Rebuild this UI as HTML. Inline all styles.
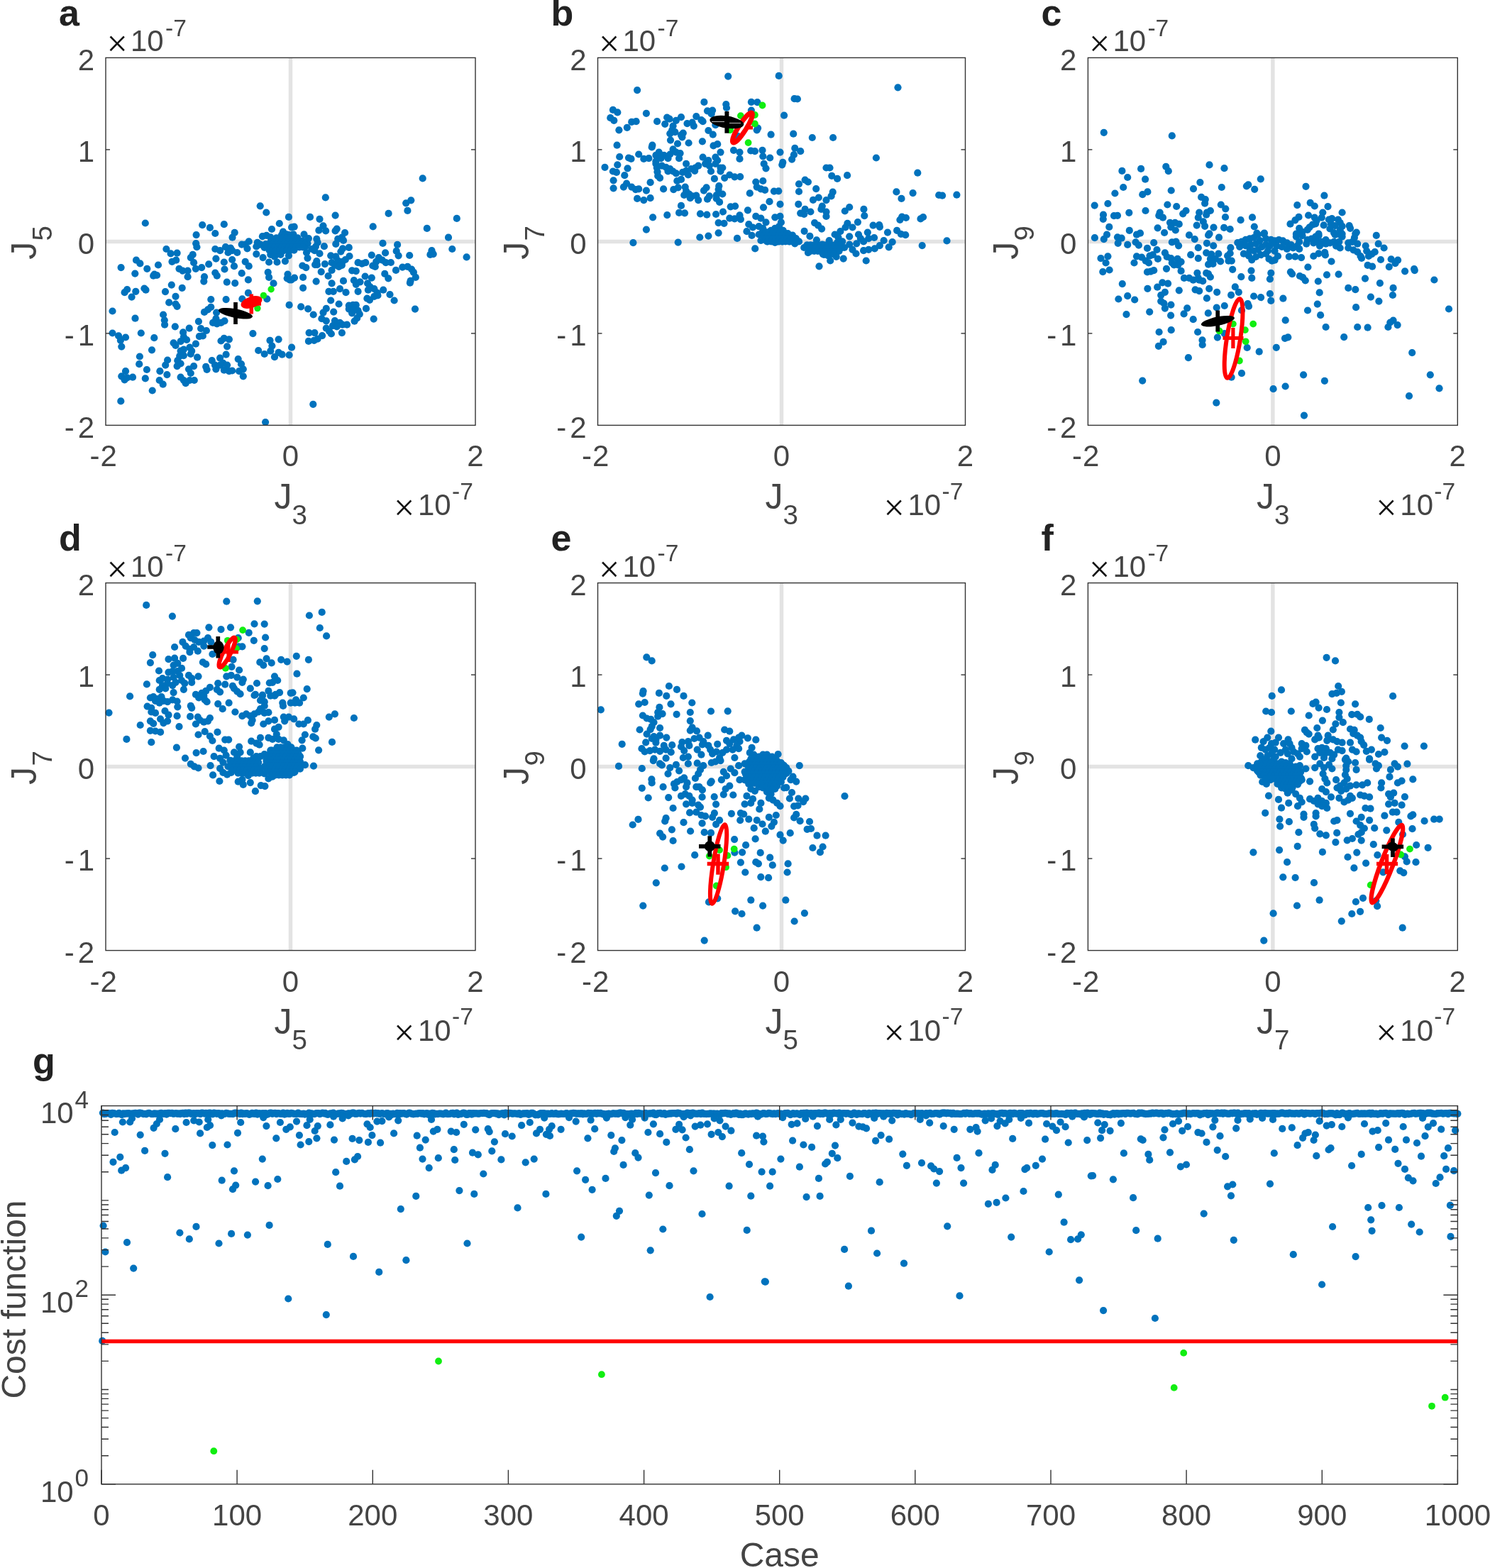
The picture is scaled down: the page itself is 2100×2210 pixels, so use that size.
<!DOCTYPE html>
<html><head><meta charset="utf-8"><title>Figure</title>
<style>html,body{margin:0;padding:0;background:#fff}svg{display:block}
text{font-family:'Liberation Sans',Arial,sans-serif;fill:#444444}
.tk{font-size:42px}
.sp{font-size:33.5px}
.sp2{font-size:35px}
.ex{font-size:52px;fill:#111;font-family:'Liberation Serif',serif}
.lb{font-size:50px}
.lb2{font-size:48px}
.sb{font-size:38.5px}
.pl{font-size:52px;font-weight:bold;fill:#222}
</style></head>
<body><svg xmlns="http://www.w3.org/2000/svg" width="2100" height="2210" viewBox="0 0 2100 2210">
<rect width="2100" height="2210" fill="#fff"/>
<line x1="409.5" y1="81.4" x2="409.5" y2="599.4" stroke="#e3e3e3" stroke-width="5.5"/>
<line x1="149.0" y1="340.4" x2="670.0" y2="340.4" stroke="#e3e3e3" stroke-width="5.5"/>
<g fill="#0072bd"><circle cx="204.8" cy="314.5" r="5.1"/><circle cx="366.7" cy="290.3" r="5.1"/><circle cx="375.3" cy="299.5" r="5.1"/><circle cx="406.9" cy="305.9" r="5.1"/><circle cx="285.2" cy="317.2" r="5.1"/><circle cx="295.9" cy="320.9" r="5.1"/><circle cx="303.3" cy="329.0" r="5.1"/><circle cx="315.8" cy="316.2" r="5.1"/><circle cx="276.6" cy="331.1" r="5.1"/><circle cx="330.7" cy="327.8" r="5.1"/><circle cx="327.5" cy="334.7" r="5.1"/><circle cx="393.8" cy="315.0" r="5.1"/><circle cx="383.0" cy="323.0" r="5.1"/><circle cx="399.0" cy="326.6" r="5.1"/><circle cx="411.1" cy="320.4" r="5.1"/><circle cx="369.9" cy="333.2" r="5.1"/><circle cx="375.6" cy="331.8" r="5.1"/><circle cx="381.3" cy="334.4" r="5.1"/><circle cx="362.8" cy="341.8" r="5.1"/><circle cx="361.3" cy="347.5" r="5.1"/><circle cx="367.0" cy="344.6" r="5.1"/><circle cx="372.7" cy="348.9" r="5.1"/><circle cx="378.4" cy="344.6" r="5.1"/><circle cx="385.5" cy="344.6" r="5.1"/><circle cx="389.8" cy="347.5" r="5.1"/><circle cx="395.5" cy="344.6" r="5.1"/><circle cx="401.2" cy="341.8" r="5.1"/><circle cx="406.9" cy="344.6" r="5.1"/><circle cx="411.1" cy="343.2" r="5.1"/><circle cx="398.3" cy="333.2" r="5.1"/><circle cx="404.0" cy="330.4" r="5.1"/><circle cx="387.0" cy="353.2" r="5.1"/><circle cx="392.6" cy="356.0" r="5.1"/><circle cx="399.8" cy="353.2" r="5.1"/><circle cx="406.9" cy="353.2" r="5.1"/><circle cx="381.3" cy="358.9" r="5.1"/><circle cx="387.0" cy="361.7" r="5.1"/><circle cx="395.5" cy="358.9" r="5.1"/><circle cx="406.9" cy="360.3" r="5.1"/><circle cx="384.1" cy="350.3" r="5.1"/><circle cx="276.2" cy="343.2" r="5.1"/><circle cx="277.4" cy="348.2" r="5.1"/><circle cx="345.7" cy="344.6" r="5.1"/><circle cx="350.7" cy="340.4" r="5.1"/><circle cx="348.5" cy="350.3" r="5.1"/><circle cx="340.7" cy="344.6" r="5.1"/><circle cx="234.4" cy="351.0" r="5.1"/><circle cx="240.6" cy="357.4" r="5.1"/><circle cx="249.6" cy="356.7" r="5.1"/><circle cx="303.3" cy="351.0" r="5.1"/><circle cx="310.1" cy="353.2" r="5.1"/><circle cx="317.9" cy="348.2" r="5.1"/><circle cx="325.0" cy="349.6" r="5.1"/><circle cx="321.5" cy="356.0" r="5.1"/><circle cx="327.2" cy="353.2" r="5.1"/><circle cx="334.3" cy="356.0" r="5.1"/><circle cx="361.3" cy="358.1" r="5.1"/><circle cx="370.6" cy="363.1" r="5.1"/><circle cx="379.1" cy="369.5" r="5.1"/><circle cx="390.5" cy="369.5" r="5.1"/><circle cx="401.9" cy="368.1" r="5.1"/><circle cx="271.7" cy="358.9" r="5.1"/><circle cx="268.8" cy="363.1" r="5.1"/><circle cx="273.1" cy="370.2" r="5.1"/><circle cx="275.9" cy="378.8" r="5.1"/><circle cx="284.2" cy="377.1" r="5.1"/><circle cx="294.2" cy="372.4" r="5.1"/><circle cx="304.4" cy="364.6" r="5.1"/><circle cx="315.8" cy="369.5" r="5.1"/><circle cx="316.5" cy="379.5" r="5.1"/><circle cx="327.2" cy="366.0" r="5.1"/><circle cx="330.0" cy="375.2" r="5.1"/><circle cx="345.7" cy="368.8" r="5.1"/><circle cx="350.7" cy="375.2" r="5.1"/><circle cx="192.0" cy="366.7" r="5.1"/><circle cx="197.4" cy="371.4" r="5.1"/><circle cx="207.3" cy="378.8" r="5.1"/><circle cx="223.0" cy="373.5" r="5.1"/><circle cx="170.6" cy="377.1" r="5.1"/><circle cx="190.3" cy="385.6" r="5.1"/><circle cx="217.6" cy="386.6" r="5.1"/><circle cx="221.1" cy="388.0" r="5.1"/><circle cx="216.2" cy="388.7" r="5.1"/><circle cx="242.5" cy="368.8" r="5.1"/><circle cx="248.2" cy="366.7" r="5.1"/><circle cx="252.5" cy="378.8" r="5.1"/><circle cx="257.4" cy="381.6" r="5.1"/><circle cx="264.6" cy="381.6" r="5.1"/><circle cx="264.6" cy="390.2" r="5.1"/><circle cx="288.0" cy="390.2" r="5.1"/><circle cx="287.3" cy="396.6" r="5.1"/><circle cx="303.3" cy="384.5" r="5.1"/><circle cx="305.8" cy="388.7" r="5.1"/><circle cx="340.7" cy="385.2" r="5.1"/><circle cx="349.9" cy="394.4" r="5.1"/><circle cx="377.7" cy="383.8" r="5.1"/><circle cx="379.1" cy="390.9" r="5.1"/><circle cx="385.5" cy="399.4" r="5.1"/><circle cx="319.8" cy="397.7" r="5.1"/><circle cx="331.2" cy="399.1" r="5.1"/><circle cx="405.5" cy="386.6" r="5.1"/><circle cx="404.7" cy="392.3" r="5.1"/><circle cx="408.3" cy="394.4" r="5.1"/><circle cx="241.8" cy="401.6" r="5.1"/><circle cx="256.7" cy="405.8" r="5.1"/><circle cx="179.2" cy="408.0" r="5.1"/><circle cx="175.6" cy="412.2" r="5.1"/><circle cx="191.3" cy="410.8" r="5.1"/><circle cx="203.4" cy="406.5" r="5.1"/><circle cx="205.5" cy="408.7" r="5.1"/><circle cx="233.0" cy="411.1" r="5.1"/><circle cx="349.9" cy="412.9" r="5.1"/><circle cx="595.7" cy="251.4" r="5.1"/><circle cx="458.8" cy="278.4" r="5.1"/><circle cx="579.3" cy="282.3" r="5.1"/><circle cx="572.2" cy="286.3" r="5.1"/><circle cx="574.4" cy="296.9" r="5.1"/><circle cx="547.6" cy="300.9" r="5.1"/><circle cx="643.8" cy="307.9" r="5.1"/><circle cx="437.0" cy="305.9" r="5.1"/><circle cx="450.5" cy="308.8" r="5.1"/><circle cx="472.6" cy="303.6" r="5.1"/><circle cx="525.7" cy="319.4" r="5.1"/><circle cx="601.8" cy="321.9" r="5.1"/><circle cx="414.7" cy="319.7" r="5.1"/><circle cx="455.5" cy="318.3" r="5.1"/><circle cx="459.1" cy="325.4" r="5.1"/><circle cx="449.4" cy="324.7" r="5.1"/><circle cx="474.7" cy="322.6" r="5.1"/><circle cx="472.6" cy="325.4" r="5.1"/><circle cx="486.1" cy="328.0" r="5.1"/><circle cx="632.0" cy="334.7" r="5.1"/><circle cx="413.5" cy="330.4" r="5.1"/><circle cx="419.2" cy="336.1" r="5.1"/><circle cx="428.5" cy="330.4" r="5.1"/><circle cx="434.9" cy="336.1" r="5.1"/><circle cx="433.5" cy="343.2" r="5.1"/><circle cx="424.9" cy="341.8" r="5.1"/><circle cx="417.8" cy="343.2" r="5.1"/><circle cx="413.5" cy="347.5" r="5.1"/><circle cx="422.1" cy="347.5" r="5.1"/><circle cx="430.6" cy="347.5" r="5.1"/><circle cx="446.3" cy="336.8" r="5.1"/><circle cx="447.7" cy="341.8" r="5.1"/><circle cx="444.9" cy="347.5" r="5.1"/><circle cx="439.2" cy="351.0" r="5.1"/><circle cx="443.4" cy="353.2" r="5.1"/><circle cx="456.9" cy="347.2" r="5.1"/><circle cx="450.5" cy="357.4" r="5.1"/><circle cx="432.0" cy="356.0" r="5.1"/><circle cx="433.5" cy="363.8" r="5.1"/><circle cx="476.2" cy="336.8" r="5.1"/><circle cx="481.9" cy="334.7" r="5.1"/><circle cx="484.0" cy="338.9" r="5.1"/><circle cx="473.3" cy="343.9" r="5.1"/><circle cx="483.0" cy="350.3" r="5.1"/><circle cx="480.4" cy="354.6" r="5.1"/><circle cx="491.8" cy="348.9" r="5.1"/><circle cx="492.5" cy="361.0" r="5.1"/><circle cx="486.8" cy="366.0" r="5.1"/><circle cx="482.6" cy="368.8" r="5.1"/><circle cx="476.2" cy="367.4" r="5.1"/><circle cx="467.6" cy="370.2" r="5.1"/><circle cx="471.9" cy="373.8" r="5.1"/><circle cx="477.6" cy="375.9" r="5.1"/><circle cx="481.9" cy="373.8" r="5.1"/><circle cx="466.2" cy="360.3" r="5.1"/><circle cx="473.3" cy="361.7" r="5.1"/><circle cx="539.5" cy="342.9" r="5.1"/><circle cx="560.1" cy="344.9" r="5.1"/><circle cx="558.7" cy="353.9" r="5.1"/><circle cx="561.6" cy="360.3" r="5.1"/><circle cx="543.1" cy="356.4" r="5.1"/><circle cx="577.2" cy="360.0" r="5.1"/><circle cx="608.5" cy="353.2" r="5.1"/><circle cx="606.4" cy="358.9" r="5.1"/><circle cx="610.7" cy="358.1" r="5.1"/><circle cx="637.3" cy="351.0" r="5.1"/><circle cx="657.6" cy="362.4" r="5.1"/><circle cx="523.8" cy="359.6" r="5.1"/><circle cx="533.8" cy="363.1" r="5.1"/><circle cx="538.8" cy="366.7" r="5.1"/><circle cx="543.8" cy="370.2" r="5.1"/><circle cx="550.9" cy="370.0" r="5.1"/><circle cx="530.2" cy="368.8" r="5.1"/><circle cx="525.3" cy="374.5" r="5.1"/><circle cx="528.8" cy="375.9" r="5.1"/><circle cx="504.6" cy="370.2" r="5.1"/><circle cx="510.3" cy="371.7" r="5.1"/><circle cx="515.3" cy="370.2" r="5.1"/><circle cx="426.3" cy="374.5" r="5.1"/><circle cx="431.3" cy="377.1" r="5.1"/><circle cx="446.3" cy="368.1" r="5.1"/><circle cx="444.1" cy="373.1" r="5.1"/><circle cx="457.9" cy="372.1" r="5.1"/><circle cx="447.0" cy="373.1" r="5.1"/><circle cx="452.7" cy="383.1" r="5.1"/><circle cx="467.6" cy="380.9" r="5.1"/><circle cx="462.6" cy="389.0" r="5.1"/><circle cx="496.1" cy="381.3" r="5.1"/><circle cx="501.8" cy="382.1" r="5.1"/><circle cx="558.0" cy="380.9" r="5.1"/><circle cx="567.2" cy="376.6" r="5.1"/><circle cx="574.4" cy="375.9" r="5.1"/><circle cx="580.1" cy="379.5" r="5.1"/><circle cx="582.9" cy="383.8" r="5.1"/><circle cx="585.8" cy="390.9" r="5.1"/><circle cx="578.6" cy="395.9" r="5.1"/><circle cx="577.9" cy="398.7" r="5.1"/><circle cx="542.3" cy="385.9" r="5.1"/><circle cx="547.3" cy="392.3" r="5.1"/><circle cx="514.6" cy="389.5" r="5.1"/><circle cx="523.8" cy="391.6" r="5.1"/><circle cx="498.9" cy="395.2" r="5.1"/><circle cx="507.5" cy="397.3" r="5.1"/><circle cx="501.8" cy="400.8" r="5.1"/><circle cx="518.1" cy="399.4" r="5.1"/><circle cx="521.7" cy="404.4" r="5.1"/><circle cx="527.4" cy="407.2" r="5.1"/><circle cx="531.7" cy="412.9" r="5.1"/><circle cx="518.9" cy="408.7" r="5.1"/><circle cx="427.1" cy="390.9" r="5.1"/><circle cx="415.0" cy="391.6" r="5.1"/><circle cx="410.7" cy="394.4" r="5.1"/><circle cx="445.6" cy="396.6" r="5.1"/><circle cx="427.1" cy="405.8" r="5.1"/><circle cx="467.6" cy="399.4" r="5.1"/><circle cx="484.0" cy="395.9" r="5.1"/><circle cx="479.0" cy="407.2" r="5.1"/><circle cx="463.4" cy="410.8" r="5.1"/><circle cx="469.8" cy="410.8" r="5.1"/><circle cx="487.5" cy="412.2" r="5.1"/><circle cx="504.6" cy="410.8" r="5.1"/><circle cx="540.2" cy="408.7" r="5.1"/><circle cx="549.5" cy="415.1" r="5.1"/><circle cx="185.6" cy="418.6" r="5.1"/><circle cx="247.5" cy="417.8" r="5.1"/><circle cx="238.2" cy="426.4" r="5.1"/><circle cx="247.5" cy="428.5" r="5.1"/><circle cx="249.6" cy="431.8" r="5.1"/><circle cx="158.5" cy="438.5" r="5.1"/><circle cx="190.5" cy="448.7" r="5.1"/><circle cx="230.1" cy="443.5" r="5.1"/><circle cx="231.8" cy="451.3" r="5.1"/><circle cx="232.1" cy="457.7" r="5.1"/><circle cx="246.8" cy="460.3" r="5.1"/><circle cx="297.3" cy="422.1" r="5.1"/><circle cx="318.6" cy="422.1" r="5.1"/><circle cx="341.4" cy="421.4" r="5.1"/><circle cx="376.3" cy="421.4" r="5.1"/><circle cx="407.6" cy="429.9" r="5.1"/><circle cx="297.3" cy="432.8" r="5.1"/><circle cx="293.0" cy="436.3" r="5.1"/><circle cx="288.0" cy="439.9" r="5.1"/><circle cx="305.1" cy="440.6" r="5.1"/><circle cx="304.4" cy="449.2" r="5.1"/><circle cx="300.1" cy="454.9" r="5.1"/><circle cx="305.8" cy="456.3" r="5.1"/><circle cx="311.5" cy="454.9" r="5.1"/><circle cx="316.5" cy="452.3" r="5.1"/><circle cx="279.9" cy="453.1" r="5.1"/><circle cx="266.7" cy="462.7" r="5.1"/><circle cx="283.1" cy="463.1" r="5.1"/><circle cx="290.9" cy="466.0" r="5.1"/><circle cx="258.1" cy="468.4" r="5.1"/><circle cx="158.5" cy="469.5" r="5.1"/><circle cx="198.8" cy="469.5" r="5.1"/><circle cx="167.1" cy="473.4" r="5.1"/><circle cx="177.0" cy="475.5" r="5.1"/><circle cx="169.9" cy="479.8" r="5.1"/><circle cx="171.3" cy="488.6" r="5.1"/><circle cx="217.3" cy="476.2" r="5.1"/><circle cx="214.0" cy="493.3" r="5.1"/><circle cx="356.4" cy="470.1" r="5.1"/><circle cx="258.9" cy="474.8" r="5.1"/><circle cx="263.1" cy="479.0" r="5.1"/><circle cx="254.6" cy="481.2" r="5.1"/><circle cx="244.6" cy="483.3" r="5.1"/><circle cx="247.5" cy="486.9" r="5.1"/><circle cx="275.9" cy="484.7" r="5.1"/><circle cx="267.4" cy="489.7" r="5.1"/><circle cx="258.9" cy="492.6" r="5.1"/><circle cx="254.6" cy="494.7" r="5.1"/><circle cx="270.2" cy="494.7" r="5.1"/><circle cx="268.8" cy="499.0" r="5.1"/><circle cx="253.2" cy="501.8" r="5.1"/><circle cx="258.9" cy="501.1" r="5.1"/><circle cx="278.1" cy="503.7" r="5.1"/><circle cx="280.9" cy="474.1" r="5.1"/><circle cx="285.9" cy="473.4" r="5.1"/><circle cx="311.5" cy="480.5" r="5.1"/><circle cx="315.8" cy="476.9" r="5.1"/><circle cx="322.9" cy="478.3" r="5.1"/><circle cx="320.1" cy="488.3" r="5.1"/><circle cx="380.5" cy="479.8" r="5.1"/><circle cx="392.6" cy="478.3" r="5.1"/><circle cx="383.4" cy="487.6" r="5.1"/><circle cx="364.2" cy="494.0" r="5.1"/><circle cx="372.7" cy="499.0" r="5.1"/><circle cx="381.3" cy="494.7" r="5.1"/><circle cx="387.0" cy="503.2" r="5.1"/><circle cx="392.6" cy="496.8" r="5.1"/><circle cx="397.6" cy="499.7" r="5.1"/><circle cx="407.6" cy="500.4" r="5.1"/><circle cx="411.1" cy="489.7" r="5.1"/><circle cx="196.9" cy="502.5" r="5.1"/><circle cx="196.2" cy="513.2" r="5.1"/><circle cx="236.1" cy="507.5" r="5.1"/><circle cx="233.2" cy="514.6" r="5.1"/><circle cx="250.3" cy="508.2" r="5.1"/><circle cx="254.6" cy="512.5" r="5.1"/><circle cx="249.6" cy="516.1" r="5.1"/><circle cx="273.1" cy="516.1" r="5.1"/><circle cx="266.0" cy="520.3" r="5.1"/><circle cx="268.8" cy="526.0" r="5.1"/><circle cx="273.8" cy="536.0" r="5.1"/><circle cx="267.4" cy="536.0" r="5.1"/><circle cx="261.7" cy="540.2" r="5.1"/><circle cx="254.6" cy="531.7" r="5.1"/><circle cx="258.9" cy="536.0" r="5.1"/><circle cx="318.6" cy="499.7" r="5.1"/><circle cx="310.1" cy="504.7" r="5.1"/><circle cx="298.7" cy="508.2" r="5.1"/><circle cx="290.2" cy="516.8" r="5.1"/><circle cx="291.6" cy="521.0" r="5.1"/><circle cx="303.0" cy="514.6" r="5.1"/><circle cx="304.4" cy="520.3" r="5.1"/><circle cx="310.1" cy="514.6" r="5.1"/><circle cx="314.4" cy="511.8" r="5.1"/><circle cx="320.1" cy="514.6" r="5.1"/><circle cx="315.8" cy="521.7" r="5.1"/><circle cx="322.9" cy="523.2" r="5.1"/><circle cx="327.2" cy="522.5" r="5.1"/><circle cx="335.7" cy="506.1" r="5.1"/><circle cx="340.0" cy="513.2" r="5.1"/><circle cx="342.8" cy="520.3" r="5.1"/><circle cx="337.1" cy="523.2" r="5.1"/><circle cx="342.8" cy="530.3" r="5.1"/><circle cx="177.0" cy="523.2" r="5.1"/><circle cx="171.3" cy="530.3" r="5.1"/><circle cx="175.6" cy="535.3" r="5.1"/><circle cx="179.2" cy="532.4" r="5.1"/><circle cx="187.0" cy="531.7" r="5.1"/><circle cx="206.9" cy="521.0" r="5.1"/><circle cx="204.8" cy="533.4" r="5.1"/><circle cx="225.4" cy="523.2" r="5.1"/><circle cx="235.4" cy="528.1" r="5.1"/><circle cx="224.7" cy="536.0" r="5.1"/><circle cx="229.7" cy="541.7" r="5.1"/><circle cx="214.7" cy="550.5" r="5.1"/><circle cx="170.3" cy="565.4" r="5.1"/><circle cx="374.1" cy="595.0" r="5.1"/><circle cx="555.6" cy="423.5" r="5.1"/><circle cx="521.0" cy="422.8" r="5.1"/><circle cx="517.4" cy="420.7" r="5.1"/><circle cx="527.4" cy="417.8" r="5.1"/><circle cx="532.4" cy="416.4" r="5.1"/><circle cx="466.2" cy="423.5" r="5.1"/><circle cx="477.6" cy="428.5" r="5.1"/><circle cx="424.2" cy="432.4" r="5.1"/><circle cx="434.2" cy="435.4" r="5.1"/><circle cx="441.7" cy="443.5" r="5.1"/><circle cx="459.8" cy="434.9" r="5.1"/><circle cx="455.5" cy="440.6" r="5.1"/><circle cx="470.2" cy="439.6" r="5.1"/><circle cx="453.4" cy="449.2" r="5.1"/><circle cx="459.8" cy="452.3" r="5.1"/><circle cx="471.9" cy="452.0" r="5.1"/><circle cx="479.0" cy="454.9" r="5.1"/><circle cx="482.6" cy="457.7" r="5.1"/><circle cx="489.0" cy="457.7" r="5.1"/><circle cx="469.0" cy="459.1" r="5.1"/><circle cx="474.7" cy="460.5" r="5.1"/><circle cx="459.8" cy="462.7" r="5.1"/><circle cx="464.1" cy="466.9" r="5.1"/><circle cx="466.9" cy="470.5" r="5.1"/><circle cx="481.9" cy="469.1" r="5.1"/><circle cx="491.8" cy="430.7" r="5.1"/><circle cx="497.5" cy="429.9" r="5.1"/><circle cx="501.8" cy="429.9" r="5.1"/><circle cx="491.8" cy="435.6" r="5.1"/><circle cx="498.9" cy="436.3" r="5.1"/><circle cx="504.6" cy="437.8" r="5.1"/><circle cx="506.8" cy="442.8" r="5.1"/><circle cx="503.2" cy="448.4" r="5.1"/><circle cx="499.6" cy="452.7" r="5.1"/><circle cx="496.1" cy="441.3" r="5.1"/><circle cx="516.0" cy="434.9" r="5.1"/><circle cx="526.7" cy="449.6" r="5.1"/><circle cx="585.0" cy="435.6" r="5.1"/><circle cx="435.6" cy="469.1" r="5.1"/><circle cx="443.4" cy="469.1" r="5.1"/><circle cx="454.1" cy="473.1" r="5.1"/><circle cx="447.7" cy="477.6" r="5.1"/><circle cx="442.7" cy="479.8" r="5.1"/><circle cx="434.9" cy="480.9" r="5.1"/><circle cx="441.3" cy="569.8" r="5.1"/><circle cx="397.0" cy="331.0" r="5.1"/><circle cx="402.0" cy="331.0" r="5.1"/><circle cx="407.0" cy="331.0" r="5.1"/><circle cx="412.0" cy="331.0" r="5.1"/><circle cx="389.5" cy="335.3" r="5.1"/><circle cx="394.5" cy="335.3" r="5.1"/><circle cx="399.5" cy="335.3" r="5.1"/><circle cx="404.5" cy="335.3" r="5.1"/><circle cx="409.5" cy="335.3" r="5.1"/><circle cx="414.5" cy="335.3" r="5.1"/><circle cx="419.5" cy="335.3" r="5.1"/><circle cx="382.0" cy="339.7" r="5.1"/><circle cx="387.0" cy="339.7" r="5.1"/><circle cx="392.0" cy="339.7" r="5.1"/><circle cx="397.0" cy="339.7" r="5.1"/><circle cx="402.0" cy="339.7" r="5.1"/><circle cx="407.0" cy="339.7" r="5.1"/><circle cx="412.0" cy="339.7" r="5.1"/><circle cx="417.0" cy="339.7" r="5.1"/><circle cx="422.0" cy="339.7" r="5.1"/><circle cx="427.0" cy="339.7" r="5.1"/><circle cx="374.5" cy="344.0" r="5.1"/><circle cx="379.5" cy="344.0" r="5.1"/><circle cx="384.5" cy="344.0" r="5.1"/><circle cx="389.5" cy="344.0" r="5.1"/><circle cx="394.5" cy="344.0" r="5.1"/><circle cx="399.5" cy="344.0" r="5.1"/><circle cx="404.5" cy="344.0" r="5.1"/><circle cx="409.5" cy="344.0" r="5.1"/><circle cx="414.5" cy="344.0" r="5.1"/><circle cx="419.5" cy="344.0" r="5.1"/><circle cx="424.5" cy="344.0" r="5.1"/><circle cx="429.5" cy="344.0" r="5.1"/><circle cx="377.0" cy="348.3" r="5.1"/><circle cx="382.0" cy="348.3" r="5.1"/><circle cx="387.0" cy="348.3" r="5.1"/><circle cx="392.0" cy="348.3" r="5.1"/><circle cx="397.0" cy="348.3" r="5.1"/><circle cx="402.0" cy="348.3" r="5.1"/><circle cx="407.0" cy="348.3" r="5.1"/><circle cx="412.0" cy="348.3" r="5.1"/><circle cx="417.0" cy="348.3" r="5.1"/><circle cx="422.0" cy="348.3" r="5.1"/><circle cx="427.0" cy="348.3" r="5.1"/><circle cx="379.5" cy="352.6" r="5.1"/><circle cx="384.5" cy="352.6" r="5.1"/><circle cx="389.5" cy="352.6" r="5.1"/><circle cx="394.5" cy="352.6" r="5.1"/><circle cx="399.5" cy="352.6" r="5.1"/><circle cx="404.5" cy="352.6" r="5.1"/><circle cx="409.5" cy="352.6" r="5.1"/><circle cx="414.5" cy="352.6" r="5.1"/></g>
<g fill="#11ee11"><circle cx="382.1" cy="407.7" r="4.7"/><circle cx="371.4" cy="416.4" r="4.7"/><circle cx="362.9" cy="434.6" r="4.7"/></g>
<ellipse cx="354.5" cy="426" rx="15.5" ry="8" transform="rotate(-18 354.5 426)" fill="#f00"/>
<path d="M354.3 414.5v28M341 428h27" stroke="#f00" stroke-width="5.5"/>
<ellipse cx="332" cy="441.7" rx="24.5" ry="6.3" transform="rotate(11 332 441.7)" fill="#000"/>
<path d="M332 426v31" stroke="#000" stroke-width="5.7"/>

<rect x="149.0" y="81.4" width="521.0" height="518.0" fill="none" stroke="#333333" stroke-width="1.4"/>
<line x1="149.0" y1="469.9" x2="155.0" y2="469.9" stroke="#333333" stroke-width="1.4"/>
<line x1="664.0" y1="469.9" x2="670.0" y2="469.9" stroke="#333333" stroke-width="1.4"/>
<line x1="149.0" y1="210.9" x2="155.0" y2="210.9" stroke="#333333" stroke-width="1.4"/>
<line x1="664.0" y1="210.9" x2="670.0" y2="210.9" stroke="#333333" stroke-width="1.4"/>
<text x="133.0" y="616.5" text-anchor="end" class="tk">2</text>
<text x="90.8" y="616.5" class="tk">-</text>
<text x="133.0" y="487.0" text-anchor="end" class="tk">1</text>
<text x="90.8" y="487.0" class="tk">-</text>
<text x="133.0" y="357.5" text-anchor="end" class="tk">0</text>
<text x="133.0" y="228.0" text-anchor="end" class="tk">1</text>
<text x="133.0" y="98.5" text-anchor="end" class="tk">2</text>
<text x="126.6" y="657.4" class="tk">-</text>
<text x="141.6" y="657.4" class="tk">2</text>
<text x="409.5" y="657.4" text-anchor="middle" class="tk">0</text>
<text x="670.0" y="657.4" text-anchor="middle" class="tk">2</text>
<text x="83.0" y="36.0" class="pl">a</text>
<text x="150.5" y="79.3" class="ex">×</text>
<text x="184.0" y="72.4" class="tk">10</text>
<text x="233.0" y="51.2" class="sp">-7</text>
<text x="555.0" y="732.9" class="ex">×</text>
<text x="589.0" y="726.4" class="tk">10</text>
<text x="637.0" y="704.2" class="sp">-7</text>
<text x="386.5" y="717.2" class="lb">J</text>
<text x="411.5" y="738.9" class="sb">3</text>
<g transform="translate(51.0,340.4) rotate(-90)"><text x="-25.3" y="0" class="lb">J</text><text x="1" y="22" class="sb">5</text></g><line x1="1101.5" y1="81.4" x2="1101.5" y2="599.4" stroke="#e3e3e3" stroke-width="5.5"/>
<line x1="842.5" y1="340.4" x2="1360.5" y2="340.4" stroke="#e3e3e3" stroke-width="5.5"/>
<g fill="#0072bd"><circle cx="1026.2" cy="107.6" r="5.1"/><circle cx="1097.7" cy="106.9" r="5.1"/><circle cx="898.1" cy="127.1" r="5.1"/><circle cx="992.4" cy="143.9" r="5.1"/><circle cx="1023.3" cy="147.0" r="5.1"/><circle cx="1024.0" cy="152.0" r="5.1"/><circle cx="1058.9" cy="143.8" r="5.1"/><circle cx="1067.4" cy="144.2" r="5.1"/><circle cx="1058.9" cy="155.6" r="5.1"/><circle cx="997.0" cy="156.3" r="5.1"/><circle cx="1004.1" cy="155.6" r="5.1"/><circle cx="1002.7" cy="160.5" r="5.1"/><circle cx="863.9" cy="154.9" r="5.1"/><circle cx="870.3" cy="158.4" r="5.1"/><circle cx="910.9" cy="159.8" r="5.1"/><circle cx="860.3" cy="166.2" r="5.1"/><circle cx="865.3" cy="169.8" r="5.1"/><circle cx="890.2" cy="171.9" r="5.1"/><circle cx="896.6" cy="171.2" r="5.1"/><circle cx="883.8" cy="179.8" r="5.1"/><circle cx="872.4" cy="183.3" r="5.1"/><circle cx="926.1" cy="171.2" r="5.1"/><circle cx="940.1" cy="165.5" r="5.1"/><circle cx="943.6" cy="167.7" r="5.1"/><circle cx="937.2" cy="174.8" r="5.1"/><circle cx="952.9" cy="169.8" r="5.1"/><circle cx="960.0" cy="165.1" r="5.1"/><circle cx="981.3" cy="164.1" r="5.1"/><circle cx="988.4" cy="169.1" r="5.1"/><circle cx="990.6" cy="171.2" r="5.1"/><circle cx="968.5" cy="174.1" r="5.1"/><circle cx="975.6" cy="172.6" r="5.1"/><circle cx="977.8" cy="177.6" r="5.1"/><circle cx="948.6" cy="177.6" r="5.1"/><circle cx="947.2" cy="183.3" r="5.1"/><circle cx="951.4" cy="186.2" r="5.1"/><circle cx="944.3" cy="188.3" r="5.1"/><circle cx="962.8" cy="187.6" r="5.1"/><circle cx="961.4" cy="193.3" r="5.1"/><circle cx="960.0" cy="190.4" r="5.1"/><circle cx="945.0" cy="197.6" r="5.1"/><circle cx="955.0" cy="202.5" r="5.1"/><circle cx="970.6" cy="201.5" r="5.1"/><circle cx="989.9" cy="199.3" r="5.1"/><circle cx="998.4" cy="184.0" r="5.1"/><circle cx="1004.8" cy="189.7" r="5.1"/><circle cx="1008.4" cy="176.2" r="5.1"/><circle cx="1066.7" cy="183.3" r="5.1"/><circle cx="1068.1" cy="180.5" r="5.1"/><circle cx="1086.6" cy="189.7" r="5.1"/><circle cx="1105.1" cy="162.7" r="5.1"/><circle cx="1039.7" cy="191.9" r="5.1"/><circle cx="869.6" cy="204.7" r="5.1"/><circle cx="919.4" cy="204.7" r="5.1"/><circle cx="918.7" cy="207.5" r="5.1"/><circle cx="1005.5" cy="205.4" r="5.1"/><circle cx="1011.2" cy="203.2" r="5.1"/><circle cx="1015.5" cy="214.6" r="5.1"/><circle cx="1034.0" cy="211.8" r="5.1"/><circle cx="1042.5" cy="214.6" r="5.1"/><circle cx="1042.5" cy="223.9" r="5.1"/><circle cx="1058.2" cy="212.5" r="5.1"/><circle cx="1063.9" cy="213.2" r="5.1"/><circle cx="1074.5" cy="211.8" r="5.1"/><circle cx="1075.3" cy="220.3" r="5.1"/><circle cx="1085.2" cy="222.5" r="5.1"/><circle cx="1099.5" cy="214.6" r="5.1"/><circle cx="873.2" cy="221.0" r="5.1"/><circle cx="886.0" cy="222.5" r="5.1"/><circle cx="889.5" cy="223.9" r="5.1"/><circle cx="900.2" cy="217.5" r="5.1"/><circle cx="907.3" cy="223.9" r="5.1"/><circle cx="914.4" cy="223.2" r="5.1"/><circle cx="924.4" cy="218.9" r="5.1"/><circle cx="928.7" cy="214.6" r="5.1"/><circle cx="935.8" cy="218.9" r="5.1"/><circle cx="931.5" cy="223.2" r="5.1"/><circle cx="944.3" cy="217.5" r="5.1"/><circle cx="948.6" cy="210.4" r="5.1"/><circle cx="952.9" cy="214.6" r="5.1"/><circle cx="958.6" cy="216.1" r="5.1"/><circle cx="957.1" cy="223.2" r="5.1"/><circle cx="941.5" cy="223.2" r="5.1"/><circle cx="990.6" cy="221.7" r="5.1"/><circle cx="998.4" cy="226.0" r="5.1"/><circle cx="1008.4" cy="221.7" r="5.1"/><circle cx="1011.2" cy="226.0" r="5.1"/><circle cx="924.4" cy="227.4" r="5.1"/><circle cx="1265.5" cy="123.3" r="5.1"/><circle cx="1119.6" cy="139.2" r="5.1"/><circle cx="1123.9" cy="139.5" r="5.1"/><circle cx="1118.2" cy="188.7" r="5.1"/><circle cx="1144.8" cy="194.0" r="5.1"/><circle cx="1174.1" cy="194.0" r="5.1"/><circle cx="1120.3" cy="208.9" r="5.1"/><circle cx="1128.2" cy="213.2" r="5.1"/><circle cx="1118.9" cy="218.2" r="5.1"/><circle cx="1116.1" cy="224.6" r="5.1"/><circle cx="1234.9" cy="222.5" r="5.1"/><circle cx="1103.3" cy="228.9" r="5.1"/><circle cx="852.5" cy="235.8" r="5.1"/><circle cx="870.3" cy="232.3" r="5.1"/><circle cx="884.5" cy="237.3" r="5.1"/><circle cx="863.9" cy="241.5" r="5.1"/><circle cx="868.9" cy="242.9" r="5.1"/><circle cx="880.3" cy="247.2" r="5.1"/><circle cx="864.6" cy="254.3" r="5.1"/><circle cx="864.6" cy="265.3" r="5.1"/><circle cx="878.9" cy="263.6" r="5.1"/><circle cx="883.1" cy="258.6" r="5.1"/><circle cx="890.2" cy="263.6" r="5.1"/><circle cx="895.9" cy="267.1" r="5.1"/><circle cx="900.2" cy="266.4" r="5.1"/><circle cx="910.9" cy="268.6" r="5.1"/><circle cx="916.6" cy="257.2" r="5.1"/><circle cx="898.1" cy="279.9" r="5.1"/><circle cx="907.3" cy="282.1" r="5.1"/><circle cx="916.6" cy="279.2" r="5.1"/><circle cx="924.4" cy="230.8" r="5.1"/><circle cx="925.8" cy="236.5" r="5.1"/><circle cx="926.5" cy="242.2" r="5.1"/><circle cx="927.2" cy="247.9" r="5.1"/><circle cx="930.1" cy="250.8" r="5.1"/><circle cx="932.9" cy="233.7" r="5.1"/><circle cx="938.6" cy="235.8" r="5.1"/><circle cx="944.3" cy="238.0" r="5.1"/><circle cx="941.5" cy="241.5" r="5.1"/><circle cx="948.6" cy="241.5" r="5.1"/><circle cx="952.9" cy="244.4" r="5.1"/><circle cx="962.1" cy="242.9" r="5.1"/><circle cx="967.1" cy="240.8" r="5.1"/><circle cx="969.9" cy="246.5" r="5.1"/><circle cx="967.1" cy="230.8" r="5.1"/><circle cx="974.2" cy="238.0" r="5.1"/><circle cx="979.9" cy="236.5" r="5.1"/><circle cx="984.2" cy="233.7" r="5.1"/><circle cx="979.2" cy="240.8" r="5.1"/><circle cx="960.0" cy="252.9" r="5.1"/><circle cx="954.3" cy="255.0" r="5.1"/><circle cx="935.1" cy="266.4" r="5.1"/><circle cx="949.3" cy="267.1" r="5.1"/><circle cx="955.7" cy="264.3" r="5.1"/><circle cx="965.7" cy="263.6" r="5.1"/><circle cx="967.1" cy="269.3" r="5.1"/><circle cx="964.2" cy="275.0" r="5.1"/><circle cx="971.4" cy="273.5" r="5.1"/><circle cx="975.6" cy="276.4" r="5.1"/><circle cx="981.3" cy="275.7" r="5.1"/><circle cx="984.2" cy="282.1" r="5.1"/><circle cx="972.8" cy="279.2" r="5.1"/><circle cx="994.1" cy="230.8" r="5.1"/><circle cx="999.8" cy="233.7" r="5.1"/><circle cx="1002.0" cy="241.5" r="5.1"/><circle cx="1008.4" cy="230.8" r="5.1"/><circle cx="1015.5" cy="236.5" r="5.1"/><circle cx="1018.3" cy="236.5" r="5.1"/><circle cx="1015.5" cy="241.5" r="5.1"/><circle cx="1006.9" cy="251.9" r="5.1"/><circle cx="1021.2" cy="250.8" r="5.1"/><circle cx="1028.3" cy="246.5" r="5.1"/><circle cx="1035.4" cy="249.3" r="5.1"/><circle cx="1043.2" cy="249.1" r="5.1"/><circle cx="995.6" cy="264.3" r="5.1"/><circle cx="992.0" cy="268.6" r="5.1"/><circle cx="1013.3" cy="262.2" r="5.1"/><circle cx="1012.6" cy="267.1" r="5.1"/><circle cx="1018.3" cy="273.5" r="5.1"/><circle cx="1009.8" cy="275.0" r="5.1"/><circle cx="997.0" cy="280.7" r="5.1"/><circle cx="999.8" cy="276.4" r="5.1"/><circle cx="1009.8" cy="279.9" r="5.1"/><circle cx="1014.1" cy="284.9" r="5.1"/><circle cx="1076.7" cy="230.8" r="5.1"/><circle cx="1079.5" cy="237.3" r="5.1"/><circle cx="1102.3" cy="232.3" r="5.1"/><circle cx="1065.3" cy="256.5" r="5.1"/><circle cx="1075.3" cy="255.0" r="5.1"/><circle cx="1066.7" cy="263.6" r="5.1"/><circle cx="1072.4" cy="266.4" r="5.1"/><circle cx="1078.1" cy="267.9" r="5.1"/><circle cx="1056.8" cy="272.4" r="5.1"/><circle cx="1090.9" cy="269.6" r="5.1"/><circle cx="1097.3" cy="269.3" r="5.1"/><circle cx="1084.5" cy="284.2" r="5.1"/><circle cx="1099.5" cy="287.8" r="5.1"/><circle cx="1076.0" cy="292.3" r="5.1"/><circle cx="1053.9" cy="296.3" r="5.1"/><circle cx="960.0" cy="289.9" r="5.1"/><circle cx="957.1" cy="299.9" r="5.1"/><circle cx="965.0" cy="300.3" r="5.1"/><circle cx="940.3" cy="303.1" r="5.1"/><circle cx="920.1" cy="306.3" r="5.1"/><circle cx="987.0" cy="301.3" r="5.1"/><circle cx="996.3" cy="302.7" r="5.1"/><circle cx="1009.1" cy="302.0" r="5.1"/><circle cx="1019.0" cy="298.5" r="5.1"/><circle cx="1029.7" cy="291.3" r="5.1"/><circle cx="1036.1" cy="290.6" r="5.1"/><circle cx="1028.3" cy="307.7" r="5.1"/><circle cx="1035.4" cy="308.4" r="5.1"/><circle cx="1042.5" cy="303.4" r="5.1"/><circle cx="1043.9" cy="309.1" r="5.1"/><circle cx="1012.6" cy="314.1" r="5.1"/><circle cx="1020.5" cy="314.8" r="5.1"/><circle cx="910.9" cy="323.6" r="5.1"/><circle cx="986.3" cy="334.5" r="5.1"/><circle cx="998.4" cy="332.6" r="5.1"/><circle cx="1012.6" cy="328.3" r="5.1"/><circle cx="1039.0" cy="335.9" r="5.1"/><circle cx="892.4" cy="342.1" r="5.1"/><circle cx="955.7" cy="341.6" r="5.1"/><circle cx="1064.2" cy="350.4" r="5.1"/><circle cx="1055.3" cy="316.2" r="5.1"/><circle cx="1065.3" cy="304.9" r="5.1"/><circle cx="1072.4" cy="307.7" r="5.1"/><circle cx="1079.5" cy="313.4" r="5.1"/><circle cx="1061.0" cy="320.5" r="5.1"/><circle cx="1069.6" cy="319.1" r="5.1"/><circle cx="1075.3" cy="321.9" r="5.1"/><circle cx="1052.5" cy="326.2" r="5.1"/><circle cx="1059.6" cy="331.9" r="5.1"/><circle cx="1069.6" cy="330.5" r="5.1"/><circle cx="1075.3" cy="333.3" r="5.1"/><circle cx="1081.0" cy="327.6" r="5.1"/><circle cx="1086.6" cy="324.8" r="5.1"/><circle cx="1092.3" cy="321.9" r="5.1"/><circle cx="1098.0" cy="319.1" r="5.1"/><circle cx="1103.7" cy="324.8" r="5.1"/><circle cx="1072.4" cy="339.0" r="5.1"/><circle cx="1081.0" cy="340.4" r="5.1"/><circle cx="1086.6" cy="336.2" r="5.1"/><circle cx="1092.3" cy="341.9" r="5.1"/><circle cx="1098.0" cy="340.4" r="5.1"/><circle cx="1103.7" cy="336.2" r="5.1"/><circle cx="1095.2" cy="330.5" r="5.1"/><circle cx="1092.3" cy="306.3" r="5.1"/><circle cx="1099.5" cy="304.9" r="5.1"/><circle cx="1100.9" cy="313.4" r="5.1"/><circle cx="1164.5" cy="236.5" r="5.1"/><circle cx="1169.5" cy="236.5" r="5.1"/><circle cx="1172.3" cy="247.9" r="5.1"/><circle cx="1180.1" cy="251.9" r="5.1"/><circle cx="1194.1" cy="247.2" r="5.1"/><circle cx="1293.3" cy="243.7" r="5.1"/><circle cx="1126.0" cy="259.3" r="5.1"/><circle cx="1134.6" cy="253.6" r="5.1"/><circle cx="1138.9" cy="256.5" r="5.1"/><circle cx="1126.0" cy="270.0" r="5.1"/><circle cx="1150.2" cy="266.1" r="5.1"/><circle cx="1173.7" cy="270.7" r="5.1"/><circle cx="1171.6" cy="276.4" r="5.1"/><circle cx="1164.5" cy="282.1" r="5.1"/><circle cx="1153.8" cy="278.5" r="5.1"/><circle cx="1146.0" cy="281.8" r="5.1"/><circle cx="1125.3" cy="287.8" r="5.1"/><circle cx="1158.8" cy="290.6" r="5.1"/><circle cx="1157.4" cy="294.9" r="5.1"/><circle cx="1164.5" cy="298.5" r="5.1"/><circle cx="1164.5" cy="304.9" r="5.1"/><circle cx="1134.6" cy="294.9" r="5.1"/><circle cx="1142.4" cy="298.5" r="5.1"/><circle cx="1128.2" cy="300.6" r="5.1"/><circle cx="1133.2" cy="302.0" r="5.1"/><circle cx="1263.4" cy="270.4" r="5.1"/><circle cx="1270.5" cy="279.9" r="5.1"/><circle cx="1286.6" cy="272.1" r="5.1"/><circle cx="1323.2" cy="275.0" r="5.1"/><circle cx="1328.1" cy="275.7" r="5.1"/><circle cx="1348.4" cy="274.7" r="5.1"/><circle cx="1190.8" cy="297.5" r="5.1"/><circle cx="1197.2" cy="292.0" r="5.1"/><circle cx="1217.4" cy="294.9" r="5.1"/><circle cx="1218.3" cy="304.1" r="5.1"/><circle cx="1268.4" cy="309.8" r="5.1"/><circle cx="1271.2" cy="305.6" r="5.1"/><circle cx="1276.9" cy="307.0" r="5.1"/><circle cx="1297.5" cy="308.4" r="5.1"/><circle cx="1301.1" cy="306.0" r="5.1"/><circle cx="1148.1" cy="314.1" r="5.1"/><circle cx="1153.1" cy="317.7" r="5.1"/><circle cx="1158.1" cy="322.6" r="5.1"/><circle cx="1133.6" cy="325.8" r="5.1"/><circle cx="1141.4" cy="332.9" r="5.1"/><circle cx="1208.9" cy="313.1" r="5.1"/><circle cx="1194.4" cy="314.8" r="5.1"/><circle cx="1201.5" cy="320.5" r="5.1"/><circle cx="1191.5" cy="320.5" r="5.1"/><circle cx="1184.4" cy="326.2" r="5.1"/><circle cx="1176.6" cy="330.5" r="5.1"/><circle cx="1181.5" cy="334.7" r="5.1"/><circle cx="1197.2" cy="333.3" r="5.1"/><circle cx="1210.0" cy="330.5" r="5.1"/><circle cx="1222.8" cy="327.6" r="5.1"/><circle cx="1232.1" cy="335.0" r="5.1"/><circle cx="1230.6" cy="317.7" r="5.1"/><circle cx="1239.2" cy="317.0" r="5.1"/><circle cx="1239.9" cy="319.8" r="5.1"/><circle cx="1251.0" cy="327.6" r="5.1"/><circle cx="1264.1" cy="324.8" r="5.1"/><circle cx="1269.8" cy="329.8" r="5.1"/><circle cx="1276.2" cy="331.2" r="5.1"/><circle cx="1334.5" cy="339.4" r="5.1"/><circle cx="1299.7" cy="346.1" r="5.1"/><circle cx="1257.7" cy="341.1" r="5.1"/><circle cx="1252.7" cy="348.3" r="5.1"/><circle cx="1103.3" cy="326.2" r="5.1"/><circle cx="1110.4" cy="329.1" r="5.1"/><circle cx="1116.1" cy="333.3" r="5.1"/><circle cx="1121.8" cy="336.2" r="5.1"/><circle cx="1126.0" cy="340.4" r="5.1"/><circle cx="1107.5" cy="336.2" r="5.1"/><circle cx="1113.2" cy="340.4" r="5.1"/><circle cx="1120.3" cy="343.3" r="5.1"/><circle cx="1103.3" cy="340.4" r="5.1"/><circle cx="1133.2" cy="349.0" r="5.1"/><circle cx="1138.9" cy="356.1" r="5.1"/><circle cx="1141.7" cy="346.1" r="5.1"/><circle cx="1148.8" cy="350.4" r="5.1"/><circle cx="1150.9" cy="338.3" r="5.1"/><circle cx="1158.8" cy="344.7" r="5.1"/><circle cx="1158.8" cy="356.1" r="5.1"/><circle cx="1164.5" cy="349.0" r="5.1"/><circle cx="1168.7" cy="339.0" r="5.1"/><circle cx="1171.6" cy="346.1" r="5.1"/><circle cx="1174.4" cy="354.7" r="5.1"/><circle cx="1167.3" cy="360.4" r="5.1"/><circle cx="1170.2" cy="367.5" r="5.1"/><circle cx="1178.7" cy="361.8" r="5.1"/><circle cx="1180.1" cy="341.9" r="5.1"/><circle cx="1187.2" cy="340.4" r="5.1"/><circle cx="1190.1" cy="349.0" r="5.1"/><circle cx="1197.2" cy="344.7" r="5.1"/><circle cx="1201.5" cy="351.8" r="5.1"/><circle cx="1207.2" cy="343.3" r="5.1"/><circle cx="1206.5" cy="357.5" r="5.1"/><circle cx="1212.9" cy="336.2" r="5.1"/><circle cx="1217.1" cy="340.4" r="5.1"/><circle cx="1217.1" cy="353.2" r="5.1"/><circle cx="1224.2" cy="351.8" r="5.1"/><circle cx="1224.2" cy="336.2" r="5.1"/><circle cx="1232.8" cy="350.4" r="5.1"/><circle cx="1239.9" cy="346.1" r="5.1"/><circle cx="1245.6" cy="339.0" r="5.1"/><circle cx="1161.6" cy="358.9" r="5.1"/><circle cx="1188.7" cy="364.6" r="5.1"/><circle cx="1220.7" cy="367.5" r="5.1"/><circle cx="1154.5" cy="375.3" r="5.1"/><circle cx="1074.5" cy="327.3" r="5.1"/><circle cx="1079.5" cy="327.3" r="5.1"/><circle cx="1084.5" cy="327.3" r="5.1"/><circle cx="1089.5" cy="327.3" r="5.1"/><circle cx="1094.5" cy="327.3" r="5.1"/><circle cx="1099.5" cy="327.3" r="5.1"/><circle cx="1104.5" cy="327.3" r="5.1"/><circle cx="1077.0" cy="331.7" r="5.1"/><circle cx="1082.0" cy="331.7" r="5.1"/><circle cx="1087.0" cy="331.7" r="5.1"/><circle cx="1092.0" cy="331.7" r="5.1"/><circle cx="1097.0" cy="331.7" r="5.1"/><circle cx="1102.0" cy="331.7" r="5.1"/><circle cx="1107.0" cy="331.7" r="5.1"/><circle cx="1112.0" cy="331.7" r="5.1"/><circle cx="1117.0" cy="331.7" r="5.1"/><circle cx="1079.5" cy="336.0" r="5.1"/><circle cx="1084.5" cy="336.0" r="5.1"/><circle cx="1089.5" cy="336.0" r="5.1"/><circle cx="1094.5" cy="336.0" r="5.1"/><circle cx="1099.5" cy="336.0" r="5.1"/><circle cx="1104.5" cy="336.0" r="5.1"/><circle cx="1109.5" cy="336.0" r="5.1"/><circle cx="1114.5" cy="336.0" r="5.1"/><circle cx="1119.5" cy="336.0" r="5.1"/><circle cx="1082.0" cy="340.3" r="5.1"/><circle cx="1087.0" cy="340.3" r="5.1"/><circle cx="1092.0" cy="340.3" r="5.1"/><circle cx="1097.0" cy="340.3" r="5.1"/><circle cx="1102.0" cy="340.3" r="5.1"/><circle cx="1107.0" cy="340.3" r="5.1"/><circle cx="1112.0" cy="340.3" r="5.1"/><circle cx="1117.0" cy="340.3" r="5.1"/><circle cx="1122.0" cy="340.3" r="5.1"/><circle cx="1137.5" cy="345.3" r="5.1"/><circle cx="1142.5" cy="345.3" r="5.1"/><circle cx="1147.5" cy="345.3" r="5.1"/><circle cx="1152.5" cy="345.3" r="5.1"/><circle cx="1157.5" cy="345.3" r="5.1"/><circle cx="1162.5" cy="345.3" r="5.1"/><circle cx="1167.5" cy="345.3" r="5.1"/><circle cx="1172.5" cy="345.3" r="5.1"/><circle cx="1177.5" cy="345.3" r="5.1"/><circle cx="1182.5" cy="345.3" r="5.1"/><circle cx="1140.0" cy="349.7" r="5.1"/><circle cx="1145.0" cy="349.7" r="5.1"/><circle cx="1150.0" cy="349.7" r="5.1"/><circle cx="1155.0" cy="349.7" r="5.1"/><circle cx="1160.0" cy="349.7" r="5.1"/><circle cx="1165.0" cy="349.7" r="5.1"/><circle cx="1170.0" cy="349.7" r="5.1"/><circle cx="1175.0" cy="349.7" r="5.1"/><circle cx="1180.0" cy="349.7" r="5.1"/><circle cx="1185.0" cy="349.7" r="5.1"/><circle cx="1142.5" cy="354.0" r="5.1"/><circle cx="1147.5" cy="354.0" r="5.1"/><circle cx="1152.5" cy="354.0" r="5.1"/><circle cx="1157.5" cy="354.0" r="5.1"/><circle cx="1162.5" cy="354.0" r="5.1"/><circle cx="1167.5" cy="354.0" r="5.1"/><circle cx="1172.5" cy="354.0" r="5.1"/><circle cx="1177.5" cy="354.0" r="5.1"/><circle cx="1182.5" cy="354.0" r="5.1"/><circle cx="1160.0" cy="358.3" r="5.1"/><circle cx="1165.0" cy="358.3" r="5.1"/><circle cx="1170.0" cy="358.3" r="5.1"/><circle cx="1175.0" cy="358.3" r="5.1"/></g><g fill="#11ee11"><circle cx="1074.5" cy="148.5" r="4.9"/><circle cx="1043.9" cy="163.1" r="4.9"/><circle cx="1063.9" cy="162.0" r="4.9"/><circle cx="1063.9" cy="174.5" r="4.9"/><circle cx="1054.6" cy="201.1" r="4.9"/><circle cx="1029.0" cy="183.3" r="4.9"/></g>
<ellipse cx="1046.4" cy="180" rx="24.8" ry="5.3" transform="rotate(-57.5 1046.4 180)" fill="none" stroke="#f00" stroke-width="6.7"/>
<path d="M1052 180h9" stroke="#f00" stroke-width="5"/>
<ellipse cx="1024.3" cy="172.1" rx="24.2" ry="8.6" transform="rotate(8.6 1024.3 172.1)" fill="#000"/>
<path d="M1003 171.5h18M1028 173.5h16" stroke="#bbb" stroke-width="1.2"/>
<path d="M1024.4 157v30.7" stroke="#000" stroke-width="6"/>

<rect x="842.5" y="81.4" width="518.0" height="518.0" fill="none" stroke="#333333" stroke-width="1.4"/>
<line x1="842.5" y1="469.9" x2="848.5" y2="469.9" stroke="#333333" stroke-width="1.4"/>
<line x1="1354.5" y1="469.9" x2="1360.5" y2="469.9" stroke="#333333" stroke-width="1.4"/>
<line x1="842.5" y1="210.9" x2="848.5" y2="210.9" stroke="#333333" stroke-width="1.4"/>
<line x1="1354.5" y1="210.9" x2="1360.5" y2="210.9" stroke="#333333" stroke-width="1.4"/>
<text x="826.5" y="616.5" text-anchor="end" class="tk">2</text>
<text x="784.3" y="616.5" class="tk">-</text>
<text x="826.5" y="487.0" text-anchor="end" class="tk">1</text>
<text x="784.3" y="487.0" class="tk">-</text>
<text x="826.5" y="357.5" text-anchor="end" class="tk">0</text>
<text x="826.5" y="228.0" text-anchor="end" class="tk">1</text>
<text x="826.5" y="98.5" text-anchor="end" class="tk">2</text>
<text x="820.1" y="657.4" class="tk">-</text>
<text x="835.1" y="657.4" class="tk">2</text>
<text x="1101.5" y="657.4" text-anchor="middle" class="tk">0</text>
<text x="1360.5" y="657.4" text-anchor="middle" class="tk">2</text>
<text x="776.5" y="36.0" class="pl">b</text>
<text x="844.0" y="79.3" class="ex">×</text>
<text x="877.5" y="72.4" class="tk">10</text>
<text x="926.5" y="51.2" class="sp">-7</text>
<text x="1245.5" y="732.9" class="ex">×</text>
<text x="1279.5" y="726.4" class="tk">10</text>
<text x="1327.5" y="704.2" class="sp">-7</text>
<text x="1078.5" y="717.2" class="lb">J</text>
<text x="1103.5" y="738.9" class="sb">3</text>
<g transform="translate(744.5,340.4) rotate(-90)"><text x="-25.3" y="0" class="lb">J</text><text x="1" y="22" class="sb">7</text></g><line x1="1793.9" y1="81.4" x2="1793.9" y2="599.4" stroke="#e3e3e3" stroke-width="5.5"/>
<line x1="1533.4" y1="340.4" x2="2054.3" y2="340.4" stroke="#e3e3e3" stroke-width="5.5"/>
<g fill="#0072bd"><circle cx="1555.8" cy="186.8" r="5.1"/><circle cx="1651.8" cy="191.4" r="5.1"/><circle cx="1704.5" cy="232.4" r="5.1"/><circle cx="1725.5" cy="237.2" r="5.1"/><circle cx="1581.4" cy="240.9" r="5.1"/><circle cx="1608.1" cy="237.9" r="5.1"/><circle cx="1643.3" cy="234.8" r="5.1"/><circle cx="1646.8" cy="241.2" r="5.1"/><circle cx="1589.2" cy="250.0" r="5.1"/><circle cx="1614.1" cy="252.6" r="5.1"/><circle cx="1583.2" cy="264.0" r="5.1"/><circle cx="1571.4" cy="272.5" r="5.1"/><circle cx="1610.3" cy="274.2" r="5.1"/><circle cx="1617.4" cy="270.4" r="5.1"/><circle cx="1650.7" cy="268.5" r="5.1"/><circle cx="1682.0" cy="266.1" r="5.1"/><circle cx="1691.4" cy="257.1" r="5.1"/><circle cx="1721.8" cy="264.0" r="5.1"/><circle cx="1756.9" cy="262.3" r="5.1"/><circle cx="1759.3" cy="260.4" r="5.1"/><circle cx="1768.2" cy="266.8" r="5.1"/><circle cx="1776.8" cy="252.3" r="5.1"/><circle cx="1542.7" cy="289.6" r="5.1"/><circle cx="1561.4" cy="287.0" r="5.1"/><circle cx="1645.4" cy="288.5" r="5.1"/><circle cx="1658.2" cy="291.0" r="5.1"/><circle cx="1693.1" cy="277.9" r="5.1"/><circle cx="1698.8" cy="281.1" r="5.1"/><circle cx="1698.1" cy="286.7" r="5.1"/><circle cx="1720.8" cy="288.5" r="5.1"/><circle cx="1727.3" cy="294.3" r="5.1"/><circle cx="1671.5" cy="297.0" r="5.1"/><circle cx="1667.2" cy="301.3" r="5.1"/><circle cx="1614.5" cy="297.0" r="5.1"/><circle cx="1591.3" cy="299.8" r="5.1"/><circle cx="1555.0" cy="302.7" r="5.1"/><circle cx="1554.8" cy="308.8" r="5.1"/><circle cx="1570.0" cy="304.1" r="5.1"/><circle cx="1575.0" cy="303.8" r="5.1"/><circle cx="1634.7" cy="299.6" r="5.1"/><circle cx="1633.3" cy="303.8" r="5.1"/><circle cx="1639.0" cy="306.7" r="5.1"/><circle cx="1690.2" cy="299.6" r="5.1"/><circle cx="1688.8" cy="306.7" r="5.1"/><circle cx="1700.9" cy="299.6" r="5.1"/><circle cx="1705.9" cy="297.0" r="5.1"/><circle cx="1700.2" cy="302.7" r="5.1"/><circle cx="1727.0" cy="306.0" r="5.1"/><circle cx="1748.6" cy="310.2" r="5.1"/><circle cx="1765.0" cy="306.4" r="5.1"/><circle cx="1563.3" cy="319.9" r="5.1"/><circle cx="1591.8" cy="324.9" r="5.1"/><circle cx="1631.6" cy="321.3" r="5.1"/><circle cx="1641.1" cy="328.0" r="5.1"/><circle cx="1649.0" cy="313.8" r="5.1"/><circle cx="1656.1" cy="313.8" r="5.1"/><circle cx="1661.8" cy="315.9" r="5.1"/><circle cx="1650.4" cy="320.2" r="5.1"/><circle cx="1656.8" cy="324.5" r="5.1"/><circle cx="1686.7" cy="317.6" r="5.1"/><circle cx="1695.9" cy="312.4" r="5.1"/><circle cx="1698.1" cy="318.8" r="5.1"/><circle cx="1710.5" cy="320.6" r="5.1"/><circle cx="1725.1" cy="320.9" r="5.1"/><circle cx="1733.7" cy="323.0" r="5.1"/><circle cx="1767.8" cy="319.5" r="5.1"/><circle cx="1607.0" cy="328.7" r="5.1"/><circle cx="1704.5" cy="329.4" r="5.1"/><circle cx="1771.4" cy="328.7" r="5.1"/><circle cx="1782.0" cy="328.7" r="5.1"/><circle cx="1990.2" cy="497.1" r="5.1"/><circle cx="2015.8" cy="528.3" r="5.1"/><circle cx="2028.5" cy="547.3" r="5.1"/><circle cx="1986.0" cy="558.1" r="5.1"/><circle cx="1837.1" cy="528.3" r="5.1"/><circle cx="1866.9" cy="536.8" r="5.1"/><circle cx="1811.6" cy="544.5" r="5.1"/><circle cx="1794.6" cy="548.2" r="5.1"/><circle cx="1838.0" cy="585.6" r="5.1"/><circle cx="1714.3" cy="567.7" r="5.1"/><circle cx="1610.2" cy="536.6" r="5.1"/><circle cx="1674.9" cy="504.2" r="5.1"/><circle cx="1750.0" cy="526.1" r="5.1"/><circle cx="1774.7" cy="495.7" r="5.1"/><circle cx="1757.7" cy="490.0" r="5.1"/><circle cx="1798.8" cy="489.8" r="5.1"/><circle cx="1632.9" cy="487.8" r="5.1"/><circle cx="1735.6" cy="531.7" r="5.1"/><circle cx="1840.5" cy="262.8" r="5.1"/><circle cx="1866.4" cy="275.7" r="5.1"/><circle cx="1828.3" cy="289.1" r="5.1"/><circle cx="1846.7" cy="285.8" r="5.1"/><circle cx="1852.8" cy="290.5" r="5.1"/><circle cx="1871.5" cy="291.1" r="5.1"/><circle cx="1891.6" cy="299.5" r="5.1"/><circle cx="1864.3" cy="299.5" r="5.1"/><circle cx="1862.8" cy="306.7" r="5.1"/><circle cx="1844.1" cy="303.5" r="5.1"/><circle cx="1830.5" cy="305.9" r="5.1"/><circle cx="1825.4" cy="310.3" r="5.1"/><circle cx="1818.5" cy="315.7" r="5.1"/><circle cx="1852.8" cy="306.7" r="5.1"/><circle cx="1855.6" cy="311.0" r="5.1"/><circle cx="1849.9" cy="316.7" r="5.1"/><circle cx="1845.6" cy="320.3" r="5.1"/><circle cx="1842.7" cy="323.9" r="5.1"/><circle cx="1854.2" cy="315.3" r="5.1"/><circle cx="1872.9" cy="309.5" r="5.1"/><circle cx="1877.2" cy="308.1" r="5.1"/><circle cx="1885.9" cy="309.5" r="5.1"/><circle cx="1888.7" cy="313.8" r="5.1"/><circle cx="1891.6" cy="318.9" r="5.1"/><circle cx="1875.8" cy="315.3" r="5.1"/><circle cx="1881.6" cy="318.2" r="5.1"/><circle cx="1874.4" cy="322.5" r="5.1"/><circle cx="1880.1" cy="328.2" r="5.1"/><circle cx="1888.7" cy="323.9" r="5.1"/><circle cx="1891.6" cy="329.7" r="5.1"/><circle cx="1865.7" cy="317.4" r="5.1"/><circle cx="1901.7" cy="318.2" r="5.1"/><circle cx="1903.1" cy="321.8" r="5.1"/><circle cx="1911.8" cy="327.5" r="5.1"/><circle cx="1831.2" cy="321.8" r="5.1"/><circle cx="1835.5" cy="326.8" r="5.1"/><circle cx="1826.9" cy="329.7" r="5.1"/><circle cx="1858.5" cy="329.7" r="5.1"/><circle cx="1542.9" cy="335.2" r="5.1"/><circle cx="1555.8" cy="337.1" r="5.1"/><circle cx="1560.0" cy="330.7" r="5.1"/><circle cx="1575.0" cy="334.3" r="5.1"/><circle cx="1580.7" cy="335.7" r="5.1"/><circle cx="1575.7" cy="342.8" r="5.1"/><circle cx="1589.2" cy="344.9" r="5.1"/><circle cx="1602.0" cy="330.7" r="5.1"/><circle cx="1600.6" cy="341.4" r="5.1"/><circle cx="1604.9" cy="345.6" r="5.1"/><circle cx="1617.0" cy="349.9" r="5.1"/><circle cx="1626.2" cy="342.1" r="5.1"/><circle cx="1630.5" cy="352.0" r="5.1"/><circle cx="1624.8" cy="359.2" r="5.1"/><circle cx="1620.5" cy="360.6" r="5.1"/><circle cx="1631.9" cy="364.9" r="5.1"/><circle cx="1641.9" cy="356.3" r="5.1"/><circle cx="1644.7" cy="362.0" r="5.1"/><circle cx="1650.4" cy="364.1" r="5.1"/><circle cx="1651.8" cy="341.4" r="5.1"/><circle cx="1657.5" cy="340.7" r="5.1"/><circle cx="1661.1" cy="346.3" r="5.1"/><circle cx="1659.6" cy="364.9" r="5.1"/><circle cx="1664.6" cy="369.1" r="5.1"/><circle cx="1660.4" cy="373.4" r="5.1"/><circle cx="1654.7" cy="373.4" r="5.1"/><circle cx="1651.8" cy="370.5" r="5.1"/><circle cx="1676.0" cy="331.4" r="5.1"/><circle cx="1683.8" cy="337.1" r="5.1"/><circle cx="1700.9" cy="342.8" r="5.1"/><circle cx="1710.2" cy="346.3" r="5.1"/><circle cx="1688.8" cy="349.2" r="5.1"/><circle cx="1703.1" cy="331.4" r="5.1"/><circle cx="1718.0" cy="334.7" r="5.1"/><circle cx="1678.2" cy="359.2" r="5.1"/><circle cx="1688.8" cy="364.1" r="5.1"/><circle cx="1700.2" cy="356.3" r="5.1"/><circle cx="1707.3" cy="358.4" r="5.1"/><circle cx="1705.9" cy="364.9" r="5.1"/><circle cx="1713.0" cy="364.9" r="5.1"/><circle cx="1717.3" cy="357.7" r="5.1"/><circle cx="1720.1" cy="368.4" r="5.1"/><circle cx="1703.1" cy="372.7" r="5.1"/><circle cx="1709.5" cy="372.0" r="5.1"/><circle cx="1730.1" cy="360.6" r="5.1"/><circle cx="1733.7" cy="357.0" r="5.1"/><circle cx="1731.5" cy="367.7" r="5.1"/><circle cx="1735.8" cy="367.7" r="5.1"/><circle cx="1734.4" cy="349.2" r="5.1"/><circle cx="1737.2" cy="379.8" r="5.1"/><circle cx="1744.3" cy="342.1" r="5.1"/><circle cx="1750.0" cy="340.7" r="5.1"/><circle cx="1755.7" cy="337.8" r="5.1"/><circle cx="1761.4" cy="336.4" r="5.1"/><circle cx="1767.1" cy="335.0" r="5.1"/><circle cx="1772.8" cy="330.7" r="5.1"/><circle cx="1781.3" cy="329.3" r="5.1"/><circle cx="1747.2" cy="347.8" r="5.1"/><circle cx="1755.7" cy="346.3" r="5.1"/><circle cx="1762.8" cy="344.9" r="5.1"/><circle cx="1770.0" cy="343.5" r="5.1"/><circle cx="1775.6" cy="339.2" r="5.1"/><circle cx="1784.2" cy="336.4" r="5.1"/><circle cx="1791.3" cy="337.8" r="5.1"/><circle cx="1752.9" cy="357.7" r="5.1"/><circle cx="1761.4" cy="353.5" r="5.1"/><circle cx="1767.1" cy="353.5" r="5.1"/><circle cx="1772.8" cy="352.0" r="5.1"/><circle cx="1778.5" cy="347.8" r="5.1"/><circle cx="1784.2" cy="344.9" r="5.1"/><circle cx="1789.9" cy="346.3" r="5.1"/><circle cx="1794.1" cy="342.1" r="5.1"/><circle cx="1760.0" cy="360.6" r="5.1"/><circle cx="1764.3" cy="366.3" r="5.1"/><circle cx="1770.0" cy="362.0" r="5.1"/><circle cx="1777.1" cy="359.2" r="5.1"/><circle cx="1784.2" cy="357.7" r="5.1"/><circle cx="1788.5" cy="364.9" r="5.1"/><circle cx="1792.7" cy="367.7" r="5.1"/><circle cx="1787.0" cy="353.5" r="5.1"/><circle cx="1551.5" cy="364.1" r="5.1"/><circle cx="1561.4" cy="361.3" r="5.1"/><circle cx="1558.6" cy="370.5" r="5.1"/><circle cx="1563.6" cy="380.5" r="5.1"/><circle cx="1554.3" cy="383.1" r="5.1"/><circle cx="1598.5" cy="370.5" r="5.1"/><circle cx="1602.0" cy="361.3" r="5.1"/><circle cx="1609.1" cy="362.7" r="5.1"/><circle cx="1614.8" cy="367.7" r="5.1"/><circle cx="1619.1" cy="370.5" r="5.1"/><circle cx="1617.0" cy="383.4" r="5.1"/><circle cx="1621.9" cy="382.6" r="5.1"/><circle cx="1626.2" cy="381.2" r="5.1"/><circle cx="1644.0" cy="378.8" r="5.1"/><circle cx="1664.6" cy="381.9" r="5.1"/><circle cx="1668.9" cy="391.9" r="5.1"/><circle cx="1676.0" cy="391.9" r="5.1"/><circle cx="1681.7" cy="394.7" r="5.1"/><circle cx="1687.4" cy="384.8" r="5.1"/><circle cx="1688.8" cy="391.9" r="5.1"/><circle cx="1695.2" cy="396.2" r="5.1"/><circle cx="1690.2" cy="394.7" r="5.1"/><circle cx="1700.2" cy="384.8" r="5.1"/><circle cx="1705.9" cy="390.5" r="5.1"/><circle cx="1703.1" cy="386.2" r="5.1"/><circle cx="1749.3" cy="390.2" r="5.1"/><circle cx="1763.5" cy="381.6" r="5.1"/><circle cx="1764.3" cy="391.9" r="5.1"/><circle cx="1791.3" cy="384.8" r="5.1"/><circle cx="1789.9" cy="393.3" r="5.1"/><circle cx="1581.8" cy="400.1" r="5.1"/><circle cx="1617.4" cy="406.8" r="5.1"/><circle cx="1631.2" cy="404.7" r="5.1"/><circle cx="1638.3" cy="398.3" r="5.1"/><circle cx="1646.1" cy="399.7" r="5.1"/><circle cx="1661.8" cy="409.3" r="5.1"/><circle cx="1684.6" cy="408.3" r="5.1"/><circle cx="1690.2" cy="410.1" r="5.1"/><circle cx="1704.2" cy="406.8" r="5.1"/><circle cx="1715.2" cy="411.8" r="5.1"/><circle cx="1740.8" cy="404.4" r="5.1"/><circle cx="1745.8" cy="411.8" r="5.1"/><circle cx="1735.1" cy="415.8" r="5.1"/><circle cx="1700.9" cy="420.4" r="5.1"/><circle cx="1767.1" cy="417.5" r="5.1"/><circle cx="1777.1" cy="419.2" r="5.1"/><circle cx="1789.9" cy="414.0" r="5.1"/><circle cx="1791.3" cy="423.9" r="5.1"/><circle cx="1576.4" cy="421.5" r="5.1"/><circle cx="1589.2" cy="417.2" r="5.1"/><circle cx="1599.2" cy="422.5" r="5.1"/><circle cx="1641.9" cy="411.8" r="5.1"/><circle cx="1636.2" cy="416.1" r="5.1"/><circle cx="1636.2" cy="424.6" r="5.1"/><circle cx="1640.4" cy="427.5" r="5.1"/><circle cx="1650.4" cy="429.6" r="5.1"/><circle cx="1641.9" cy="434.6" r="5.1"/><circle cx="1673.2" cy="434.3" r="5.1"/><circle cx="1668.6" cy="442.4" r="5.1"/><circle cx="1587.5" cy="443.1" r="5.1"/><circle cx="1620.2" cy="439.6" r="5.1"/><circle cx="1650.1" cy="444.6" r="5.1"/><circle cx="1681.7" cy="450.2" r="5.1"/><circle cx="1702.8" cy="441.4" r="5.1"/><circle cx="1714.7" cy="433.5" r="5.1"/><circle cx="1725.8" cy="431.0" r="5.1"/><circle cx="1758.6" cy="428.2" r="5.1"/><circle cx="1760.0" cy="431.7" r="5.1"/><circle cx="1750.0" cy="437.4" r="5.1"/><circle cx="1633.6" cy="468.0" r="5.1"/><circle cx="1650.7" cy="465.2" r="5.1"/><circle cx="1688.1" cy="468.0" r="5.1"/><circle cx="1715.9" cy="475.6" r="5.1"/><circle cx="1694.5" cy="479.4" r="5.1"/><circle cx="1725.8" cy="470.2" r="5.1"/><circle cx="1796.6" cy="339.4" r="5.1"/><circle cx="1802.4" cy="338.0" r="5.1"/><circle cx="1808.1" cy="339.4" r="5.1"/><circle cx="1813.9" cy="342.3" r="5.1"/><circle cx="1819.7" cy="345.1" r="5.1"/><circle cx="1799.5" cy="346.6" r="5.1"/><circle cx="1806.7" cy="348.0" r="5.1"/><circle cx="1813.9" cy="350.9" r="5.1"/><circle cx="1822.5" cy="349.5" r="5.1"/><circle cx="1828.3" cy="346.6" r="5.1"/><circle cx="1831.2" cy="340.8" r="5.1"/><circle cx="1826.9" cy="333.6" r="5.1"/><circle cx="1835.5" cy="332.2" r="5.1"/><circle cx="1831.2" cy="350.9" r="5.1"/><circle cx="1796.6" cy="353.8" r="5.1"/><circle cx="1801.0" cy="361.0" r="5.1"/><circle cx="1796.6" cy="366.7" r="5.1"/><circle cx="1816.8" cy="361.7" r="5.1"/><circle cx="1825.4" cy="361.7" r="5.1"/><circle cx="1834.1" cy="363.1" r="5.1"/><circle cx="1841.3" cy="343.7" r="5.1"/><circle cx="1842.7" cy="338.0" r="5.1"/><circle cx="1848.4" cy="336.5" r="5.1"/><circle cx="1854.2" cy="333.6" r="5.1"/><circle cx="1858.5" cy="332.2" r="5.1"/><circle cx="1851.3" cy="342.3" r="5.1"/><circle cx="1857.1" cy="340.8" r="5.1"/><circle cx="1862.8" cy="340.8" r="5.1"/><circle cx="1868.6" cy="338.0" r="5.1"/><circle cx="1860.0" cy="346.6" r="5.1"/><circle cx="1868.6" cy="343.7" r="5.1"/><circle cx="1874.4" cy="342.3" r="5.1"/><circle cx="1880.1" cy="340.8" r="5.1"/><circle cx="1883.0" cy="346.6" r="5.1"/><circle cx="1888.7" cy="349.5" r="5.1"/><circle cx="1887.3" cy="340.8" r="5.1"/><circle cx="1891.6" cy="333.6" r="5.1"/><circle cx="1881.6" cy="330.8" r="5.1"/><circle cx="1888.7" cy="330.8" r="5.1"/><circle cx="1910.3" cy="329.3" r="5.1"/><circle cx="1908.9" cy="335.1" r="5.1"/><circle cx="1900.3" cy="342.3" r="5.1"/><circle cx="1906.0" cy="340.8" r="5.1"/><circle cx="1913.2" cy="343.7" r="5.1"/><circle cx="1900.3" cy="349.5" r="5.1"/><circle cx="1907.5" cy="352.3" r="5.1"/><circle cx="1913.2" cy="355.2" r="5.1"/><circle cx="1917.5" cy="361.0" r="5.1"/><circle cx="1919.0" cy="363.9" r="5.1"/><circle cx="1924.7" cy="346.6" r="5.1"/><circle cx="1926.2" cy="353.8" r="5.1"/><circle cx="1929.0" cy="361.0" r="5.1"/><circle cx="1933.4" cy="358.1" r="5.1"/><circle cx="1937.7" cy="355.2" r="5.1"/><circle cx="1939.8" cy="331.9" r="5.1"/><circle cx="1942.7" cy="343.7" r="5.1"/><circle cx="1950.6" cy="349.5" r="5.1"/><circle cx="1851.3" cy="361.0" r="5.1"/><circle cx="1858.5" cy="357.4" r="5.1"/><circle cx="1867.2" cy="355.9" r="5.1"/><circle cx="1867.9" cy="359.5" r="5.1"/><circle cx="1876.5" cy="368.5" r="5.1"/><circle cx="1843.4" cy="376.5" r="5.1"/><circle cx="1946.0" cy="366.0" r="5.1"/><circle cx="1960.7" cy="365.3" r="5.1"/><circle cx="1970.1" cy="366.7" r="5.1"/><circle cx="1966.5" cy="371.1" r="5.1"/><circle cx="1957.8" cy="376.1" r="5.1"/><circle cx="1927.6" cy="373.9" r="5.1"/><circle cx="1934.1" cy="375.7" r="5.1"/><circle cx="1980.1" cy="382.3" r="5.1"/><circle cx="1993.8" cy="381.1" r="5.1"/><circle cx="1993.1" cy="379.0" r="5.1"/><circle cx="1818.9" cy="383.3" r="5.1"/><circle cx="1821.1" cy="386.2" r="5.1"/><circle cx="1831.9" cy="389.0" r="5.1"/><circle cx="1836.2" cy="391.2" r="5.1"/><circle cx="1839.8" cy="395.5" r="5.1"/><circle cx="1857.8" cy="396.5" r="5.1"/><circle cx="1870.0" cy="387.3" r="5.1"/><circle cx="1886.6" cy="386.6" r="5.1"/><circle cx="1924.0" cy="392.6" r="5.1"/><circle cx="1944.9" cy="399.1" r="5.1"/><circle cx="2021.4" cy="394.5" r="5.1"/><circle cx="1900.3" cy="405.9" r="5.1"/><circle cx="1910.3" cy="408.2" r="5.1"/><circle cx="1963.6" cy="405.9" r="5.1"/><circle cx="1962.9" cy="416.0" r="5.1"/><circle cx="1859.7" cy="412.4" r="5.1"/><circle cx="1931.9" cy="418.6" r="5.1"/><circle cx="1943.4" cy="424.6" r="5.1"/><circle cx="1808.4" cy="420.7" r="5.1"/><circle cx="1856.8" cy="428.6" r="5.1"/><circle cx="1911.1" cy="433.2" r="5.1"/><circle cx="2042.0" cy="435.5" r="5.1"/><circle cx="1843.0" cy="437.5" r="5.1"/><circle cx="1861.1" cy="444.2" r="5.1"/><circle cx="1811.7" cy="451.4" r="5.1"/><circle cx="1868.6" cy="461.0" r="5.1"/><circle cx="1913.2" cy="461.0" r="5.1"/><circle cx="1927.6" cy="461.7" r="5.1"/><circle cx="1956.4" cy="461.0" r="5.1"/><circle cx="1963.6" cy="451.7" r="5.1"/><circle cx="1969.6" cy="458.1" r="5.1"/><circle cx="1959.3" cy="454.5" r="5.1"/><circle cx="1894.2" cy="475.1" r="5.1"/><circle cx="1811.0" cy="476.8" r="5.1"/><circle cx="1815.3" cy="475.4" r="5.1"/><circle cx="1639.6" cy="481.9" r="5.1"/><circle cx="1694.7" cy="486.0" r="5.1"/></g><g fill="#11ee11"><circle cx="1766.2" cy="456.6" r="4.9"/><circle cx="1754.9" cy="465.1" r="4.9"/><circle cx="1755.7" cy="481.3" r="4.9"/><circle cx="1746.9" cy="508.5" r="4.9"/><circle cx="1737.9" cy="456.6" r="4.9"/><circle cx="1718.6" cy="466.5" r="4.9"/></g>
<ellipse cx="1738.6" cy="477" rx="56.5" ry="9.5" transform="rotate(-81 1738.6 477)" fill="none" stroke="#f00" stroke-width="6"/>
<path d="M1737.9 462v29M1723.5 476.5h29" stroke="#f00" stroke-width="5.2"/>
<ellipse cx="1716.4" cy="452.7" rx="24" ry="6.2" transform="rotate(-11.5 1716.4 452.7)" fill="#000"/>
<path d="M1716.2 437.5v30" stroke="#000" stroke-width="5.7"/>

<rect x="1533.4" y="81.4" width="520.9" height="518.0" fill="none" stroke="#333333" stroke-width="1.4"/>
<line x1="1533.4" y1="469.9" x2="1539.4" y2="469.9" stroke="#333333" stroke-width="1.4"/>
<line x1="2048.3" y1="469.9" x2="2054.3" y2="469.9" stroke="#333333" stroke-width="1.4"/>
<line x1="1533.4" y1="210.9" x2="1539.4" y2="210.9" stroke="#333333" stroke-width="1.4"/>
<line x1="2048.3" y1="210.9" x2="2054.3" y2="210.9" stroke="#333333" stroke-width="1.4"/>
<text x="1517.4" y="616.5" text-anchor="end" class="tk">2</text>
<text x="1475.2" y="616.5" class="tk">-</text>
<text x="1517.4" y="487.0" text-anchor="end" class="tk">1</text>
<text x="1475.2" y="487.0" class="tk">-</text>
<text x="1517.4" y="357.5" text-anchor="end" class="tk">0</text>
<text x="1517.4" y="228.0" text-anchor="end" class="tk">1</text>
<text x="1517.4" y="98.5" text-anchor="end" class="tk">2</text>
<text x="1511.0" y="657.4" class="tk">-</text>
<text x="1526.0" y="657.4" class="tk">2</text>
<text x="1793.9" y="657.4" text-anchor="middle" class="tk">0</text>
<text x="2054.3" y="657.4" text-anchor="middle" class="tk">2</text>
<text x="1467.4" y="36.0" class="pl">c</text>
<text x="1534.9" y="79.3" class="ex">×</text>
<text x="1568.4" y="72.4" class="tk">10</text>
<text x="1617.4" y="51.2" class="sp">-7</text>
<text x="1939.3" y="732.9" class="ex">×</text>
<text x="1973.3" y="726.4" class="tk">10</text>
<text x="2021.3" y="704.2" class="sp">-7</text>
<text x="1770.9" y="717.2" class="lb">J</text>
<text x="1795.9" y="738.9" class="sb">3</text>
<g transform="translate(1435.4,340.4) rotate(-90)"><text x="-25.3" y="0" class="lb">J</text><text x="1" y="22" class="sb">9</text></g><line x1="409.5" y1="821.6" x2="409.5" y2="1339.6" stroke="#e3e3e3" stroke-width="5.5"/>
<line x1="149.0" y1="1080.6" x2="670.0" y2="1080.6" stroke="#e3e3e3" stroke-width="5.5"/>
<g fill="#0072bd"><circle cx="206.2" cy="852.9" r="5.1"/><circle cx="319.3" cy="847.7" r="5.1"/><circle cx="362.8" cy="847.3" r="5.1"/><circle cx="242.9" cy="868.6" r="5.1"/><circle cx="294.4" cy="884.3" r="5.1"/><circle cx="311.5" cy="887.1" r="5.1"/><circle cx="325.0" cy="884.3" r="5.1"/><circle cx="358.5" cy="879.3" r="5.1"/><circle cx="372.7" cy="879.6" r="5.1"/><circle cx="350.7" cy="891.8" r="5.1"/><circle cx="374.1" cy="898.5" r="5.1"/><circle cx="357.8" cy="902.8" r="5.1"/><circle cx="372.7" cy="914.1" r="5.1"/><circle cx="335.7" cy="899.2" r="5.1"/><circle cx="341.4" cy="911.3" r="5.1"/><circle cx="336.4" cy="911.3" r="5.1"/><circle cx="266.0" cy="894.9" r="5.1"/><circle cx="273.1" cy="892.1" r="5.1"/><circle cx="277.4" cy="892.1" r="5.1"/><circle cx="268.8" cy="899.2" r="5.1"/><circle cx="274.5" cy="902.0" r="5.1"/><circle cx="280.2" cy="904.9" r="5.1"/><circle cx="287.3" cy="903.5" r="5.1"/><circle cx="293.0" cy="899.2" r="5.1"/><circle cx="297.3" cy="904.9" r="5.1"/><circle cx="257.4" cy="904.9" r="5.1"/><circle cx="261.7" cy="910.6" r="5.1"/><circle cx="267.4" cy="914.9" r="5.1"/><circle cx="273.1" cy="912.0" r="5.1"/><circle cx="278.8" cy="917.7" r="5.1"/><circle cx="267.4" cy="919.1" r="5.1"/><circle cx="287.3" cy="910.6" r="5.1"/><circle cx="246.1" cy="912.0" r="5.1"/><circle cx="299.4" cy="922.0" r="5.1"/><circle cx="215.2" cy="923.1" r="5.1"/><circle cx="211.9" cy="934.1" r="5.1"/><circle cx="237.5" cy="929.1" r="5.1"/><circle cx="246.1" cy="927.7" r="5.1"/><circle cx="258.1" cy="927.9" r="5.1"/><circle cx="250.3" cy="934.8" r="5.1"/><circle cx="244.6" cy="937.6" r="5.1"/><circle cx="256.0" cy="941.9" r="5.1"/><circle cx="250.3" cy="946.2" r="5.1"/><circle cx="243.2" cy="946.2" r="5.1"/><circle cx="224.0" cy="945.5" r="5.1"/><circle cx="237.5" cy="947.6" r="5.1"/><circle cx="285.9" cy="933.4" r="5.1"/><circle cx="290.2" cy="936.2" r="5.1"/><circle cx="328.6" cy="929.8" r="5.1"/><circle cx="326.5" cy="939.8" r="5.1"/><circle cx="337.1" cy="944.5" r="5.1"/><circle cx="366.3" cy="933.4" r="5.1"/><circle cx="371.3" cy="937.6" r="5.1"/><circle cx="375.6" cy="928.4" r="5.1"/><circle cx="382.7" cy="934.4" r="5.1"/><circle cx="396.2" cy="929.8" r="5.1"/><circle cx="404.7" cy="932.6" r="5.1"/><circle cx="279.5" cy="953.3" r="5.1"/><circle cx="266.0" cy="951.9" r="5.1"/><circle cx="270.2" cy="956.1" r="5.1"/><circle cx="229.0" cy="956.1" r="5.1"/><circle cx="224.7" cy="959.0" r="5.1"/><circle cx="236.1" cy="957.6" r="5.1"/><circle cx="244.6" cy="954.7" r="5.1"/><circle cx="253.2" cy="951.9" r="5.1"/><circle cx="256.0" cy="959.0" r="5.1"/><circle cx="247.5" cy="961.8" r="5.1"/><circle cx="236.1" cy="963.2" r="5.1"/><circle cx="229.0" cy="966.1" r="5.1"/><circle cx="224.7" cy="971.8" r="5.1"/><circle cx="233.2" cy="970.4" r="5.1"/><circle cx="243.2" cy="966.1" r="5.1"/><circle cx="260.3" cy="963.2" r="5.1"/><circle cx="270.2" cy="961.8" r="5.1"/><circle cx="258.9" cy="971.8" r="5.1"/><circle cx="244.6" cy="976.1" r="5.1"/><circle cx="206.9" cy="964.4" r="5.1"/><circle cx="319.3" cy="953.3" r="5.1"/><circle cx="325.8" cy="951.9" r="5.1"/><circle cx="334.3" cy="954.7" r="5.1"/><circle cx="342.8" cy="957.6" r="5.1"/><circle cx="341.4" cy="961.8" r="5.1"/><circle cx="317.2" cy="964.7" r="5.1"/><circle cx="327.9" cy="966.8" r="5.1"/><circle cx="330.0" cy="970.4" r="5.1"/><circle cx="334.3" cy="974.6" r="5.1"/><circle cx="307.2" cy="963.2" r="5.1"/><circle cx="305.8" cy="971.8" r="5.1"/><circle cx="310.1" cy="975.3" r="5.1"/><circle cx="295.9" cy="968.9" r="5.1"/><circle cx="290.2" cy="973.9" r="5.1"/><circle cx="284.5" cy="976.8" r="5.1"/><circle cx="275.9" cy="978.9" r="5.1"/><circle cx="362.0" cy="963.0" r="5.1"/><circle cx="352.8" cy="970.4" r="5.1"/><circle cx="359.9" cy="978.9" r="5.1"/><circle cx="387.0" cy="953.3" r="5.1"/><circle cx="391.2" cy="959.0" r="5.1"/><circle cx="379.8" cy="962.5" r="5.1"/><circle cx="384.1" cy="961.8" r="5.1"/><circle cx="378.4" cy="973.9" r="5.1"/><circle cx="388.4" cy="978.9" r="5.1"/><circle cx="394.1" cy="976.1" r="5.1"/><circle cx="409.7" cy="976.8" r="5.1"/><circle cx="369.9" cy="979.6" r="5.1"/><circle cx="338.6" cy="978.2" r="5.1"/><circle cx="183.1" cy="981.4" r="5.1"/><circle cx="153.5" cy="1004.6" r="5.1"/><circle cx="211.9" cy="983.5" r="5.1"/><circle cx="216.2" cy="982.1" r="5.1"/><circle cx="221.9" cy="985.0" r="5.1"/><circle cx="227.5" cy="982.1" r="5.1"/><circle cx="230.4" cy="987.8" r="5.1"/><circle cx="236.1" cy="989.2" r="5.1"/><circle cx="243.2" cy="986.4" r="5.1"/><circle cx="249.6" cy="988.5" r="5.1"/><circle cx="224.7" cy="990.7" r="5.1"/><circle cx="219.0" cy="987.8" r="5.1"/><circle cx="207.6" cy="995.6" r="5.1"/><circle cx="213.3" cy="997.8" r="5.1"/><circle cx="213.3" cy="1003.5" r="5.1"/><circle cx="219.0" cy="1004.9" r="5.1"/><circle cx="232.5" cy="1002.0" r="5.1"/><circle cx="237.5" cy="1007.7" r="5.1"/><circle cx="249.6" cy="1009.2" r="5.1"/><circle cx="226.1" cy="1013.4" r="5.1"/><circle cx="230.4" cy="1019.1" r="5.1"/><circle cx="236.1" cy="1016.3" r="5.1"/><circle cx="211.9" cy="1016.3" r="5.1"/><circle cx="216.2" cy="1019.8" r="5.1"/><circle cx="197.7" cy="1022.0" r="5.1"/><circle cx="252.5" cy="1024.1" r="5.1"/><circle cx="211.9" cy="1029.8" r="5.1"/><circle cx="219.0" cy="1030.5" r="5.1"/><circle cx="226.1" cy="1031.9" r="5.1"/><circle cx="178.4" cy="1041.9" r="5.1"/><circle cx="213.3" cy="1046.2" r="5.1"/><circle cx="248.9" cy="1053.7" r="5.1"/><circle cx="250.3" cy="996.3" r="5.1"/><circle cx="268.8" cy="994.9" r="5.1"/><circle cx="270.2" cy="997.8" r="5.1"/><circle cx="268.1" cy="1009.9" r="5.1"/><circle cx="278.8" cy="1010.6" r="5.1"/><circle cx="281.6" cy="1014.9" r="5.1"/><circle cx="287.3" cy="1017.7" r="5.1"/><circle cx="295.9" cy="1012.0" r="5.1"/><circle cx="293.0" cy="1016.3" r="5.1"/><circle cx="275.9" cy="1020.5" r="5.1"/><circle cx="280.2" cy="983.5" r="5.1"/><circle cx="287.3" cy="980.7" r="5.1"/><circle cx="291.6" cy="989.2" r="5.1"/><circle cx="288.7" cy="986.4" r="5.1"/><circle cx="307.2" cy="992.1" r="5.1"/><circle cx="313.7" cy="999.2" r="5.1"/><circle cx="322.6" cy="990.7" r="5.1"/><circle cx="331.4" cy="1003.5" r="5.1"/><circle cx="341.4" cy="1009.2" r="5.1"/><circle cx="347.1" cy="1006.3" r="5.1"/><circle cx="352.8" cy="1009.2" r="5.1"/><circle cx="358.5" cy="1006.3" r="5.1"/><circle cx="364.2" cy="1003.5" r="5.1"/><circle cx="367.0" cy="999.2" r="5.1"/><circle cx="372.7" cy="1004.9" r="5.1"/><circle cx="378.4" cy="1004.2" r="5.1"/><circle cx="355.6" cy="1014.9" r="5.1"/><circle cx="354.2" cy="1019.1" r="5.1"/><circle cx="371.3" cy="1020.5" r="5.1"/><circle cx="378.4" cy="1016.3" r="5.1"/><circle cx="387.0" cy="1014.9" r="5.1"/><circle cx="358.5" cy="980.0" r="5.1"/><circle cx="369.9" cy="980.7" r="5.1"/><circle cx="367.0" cy="987.1" r="5.1"/><circle cx="372.7" cy="989.2" r="5.1"/><circle cx="372.7" cy="994.9" r="5.1"/><circle cx="381.3" cy="980.7" r="5.1"/><circle cx="387.0" cy="980.7" r="5.1"/><circle cx="398.3" cy="990.7" r="5.1"/><circle cx="399.0" cy="994.9" r="5.1"/><circle cx="399.8" cy="1010.6" r="5.1"/><circle cx="401.2" cy="1016.3" r="5.1"/><circle cx="406.9" cy="1010.6" r="5.1"/><circle cx="409.7" cy="990.7" r="5.1"/><circle cx="279.5" cy="1035.5" r="5.1"/><circle cx="288.7" cy="1031.2" r="5.1"/><circle cx="295.9" cy="1037.6" r="5.1"/><circle cx="299.4" cy="1044.0" r="5.1"/><circle cx="306.5" cy="1031.9" r="5.1"/><circle cx="317.2" cy="1042.6" r="5.1"/><circle cx="322.2" cy="1042.6" r="5.1"/><circle cx="354.2" cy="1044.7" r="5.1"/><circle cx="361.3" cy="1047.6" r="5.1"/><circle cx="365.6" cy="1049.7" r="5.1"/><circle cx="367.0" cy="1039.8" r="5.1"/><circle cx="378.4" cy="1039.8" r="5.1"/><circle cx="387.0" cy="1027.7" r="5.1"/><circle cx="392.6" cy="1024.8" r="5.1"/><circle cx="389.8" cy="1034.8" r="5.1"/><circle cx="384.1" cy="1041.9" r="5.1"/><circle cx="392.6" cy="1041.9" r="5.1"/><circle cx="399.8" cy="1043.3" r="5.1"/><circle cx="405.5" cy="1049.0" r="5.1"/><circle cx="409.7" cy="1054.7" r="5.1"/><circle cx="401.2" cy="1054.7" r="5.1"/><circle cx="395.5" cy="1060.4" r="5.1"/><circle cx="387.0" cy="1060.4" r="5.1"/><circle cx="381.3" cy="1057.5" r="5.1"/><circle cx="406.9" cy="1063.2" r="5.1"/><circle cx="401.2" cy="1066.1" r="5.1"/><circle cx="395.5" cy="1068.9" r="5.1"/><circle cx="276.6" cy="1061.1" r="5.1"/><circle cx="286.6" cy="1059.0" r="5.1"/><circle cx="261.0" cy="1068.6" r="5.1"/><circle cx="268.8" cy="1076.8" r="5.1"/><circle cx="273.8" cy="1080.3" r="5.1"/><circle cx="279.5" cy="1082.5" r="5.1"/><circle cx="296.6" cy="1079.2" r="5.1"/><circle cx="300.1" cy="1092.4" r="5.1"/><circle cx="309.4" cy="1101.0" r="5.1"/><circle cx="308.7" cy="1054.7" r="5.1"/><circle cx="315.8" cy="1057.5" r="5.1"/><circle cx="318.6" cy="1064.7" r="5.1"/><circle cx="301.6" cy="1066.1" r="5.1"/><circle cx="310.1" cy="1068.9" r="5.1"/><circle cx="314.4" cy="1074.6" r="5.1"/><circle cx="310.1" cy="1083.2" r="5.1"/><circle cx="314.4" cy="1088.9" r="5.1"/><circle cx="321.5" cy="1080.3" r="5.1"/><circle cx="324.3" cy="1071.8" r="5.1"/><circle cx="330.0" cy="1073.2" r="5.1"/><circle cx="334.3" cy="1066.1" r="5.1"/><circle cx="337.1" cy="1052.6" r="5.1"/><circle cx="338.6" cy="1060.4" r="5.1"/><circle cx="330.0" cy="1060.4" r="5.1"/><circle cx="330.0" cy="1083.2" r="5.1"/><circle cx="337.1" cy="1086.0" r="5.1"/><circle cx="332.9" cy="1077.5" r="5.1"/><circle cx="341.4" cy="1078.9" r="5.1"/><circle cx="344.3" cy="1088.9" r="5.1"/><circle cx="347.1" cy="1073.2" r="5.1"/><circle cx="352.8" cy="1060.4" r="5.1"/><circle cx="357.1" cy="1068.9" r="5.1"/><circle cx="351.4" cy="1077.5" r="5.1"/><circle cx="354.2" cy="1084.6" r="5.1"/><circle cx="349.9" cy="1093.1" r="5.1"/><circle cx="361.3" cy="1066.1" r="5.1"/><circle cx="364.2" cy="1074.6" r="5.1"/><circle cx="367.0" cy="1066.1" r="5.1"/><circle cx="372.7" cy="1063.2" r="5.1"/><circle cx="367.0" cy="1083.2" r="5.1"/><circle cx="362.8" cy="1088.9" r="5.1"/><circle cx="372.7" cy="1080.3" r="5.1"/><circle cx="375.6" cy="1073.2" r="5.1"/><circle cx="378.4" cy="1066.1" r="5.1"/><circle cx="381.3" cy="1077.5" r="5.1"/><circle cx="387.0" cy="1071.8" r="5.1"/><circle cx="392.6" cy="1077.5" r="5.1"/><circle cx="398.3" cy="1074.6" r="5.1"/><circle cx="404.0" cy="1074.6" r="5.1"/><circle cx="409.7" cy="1074.6" r="5.1"/><circle cx="387.0" cy="1083.2" r="5.1"/><circle cx="394.1" cy="1086.0" r="5.1"/><circle cx="401.2" cy="1088.9" r="5.1"/><circle cx="406.9" cy="1086.0" r="5.1"/><circle cx="381.3" cy="1088.9" r="5.1"/><circle cx="378.4" cy="1097.4" r="5.1"/><circle cx="384.1" cy="1094.6" r="5.1"/><circle cx="372.7" cy="1090.3" r="5.1"/><circle cx="335.7" cy="1101.7" r="5.1"/><circle cx="342.8" cy="1105.9" r="5.1"/><circle cx="341.4" cy="1098.8" r="5.1"/><circle cx="352.8" cy="1103.1" r="5.1"/><circle cx="367.7" cy="1107.1" r="5.1"/><circle cx="373.4" cy="1108.1" r="5.1"/><circle cx="359.9" cy="1115.2" r="5.1"/><circle cx="320.1" cy="1091.7" r="5.1"/><circle cx="325.8" cy="1088.9" r="5.1"/><circle cx="435.9" cy="867.5" r="5.1"/><circle cx="453.7" cy="862.9" r="5.1"/><circle cx="450.8" cy="885.0" r="5.1"/><circle cx="460.1" cy="896.4" r="5.1"/><circle cx="417.8" cy="924.8" r="5.1"/><circle cx="434.9" cy="929.8" r="5.1"/><circle cx="418.5" cy="949.7" r="5.1"/><circle cx="432.7" cy="971.1" r="5.1"/><circle cx="412.5" cy="976.3" r="5.1"/><circle cx="427.8" cy="983.5" r="5.1"/><circle cx="417.1" cy="986.4" r="5.1"/><circle cx="415.7" cy="990.7" r="5.1"/><circle cx="422.1" cy="990.7" r="5.1"/><circle cx="414.2" cy="1013.4" r="5.1"/><circle cx="421.3" cy="1020.5" r="5.1"/><circle cx="427.8" cy="1020.5" r="5.1"/><circle cx="433.9" cy="1015.1" r="5.1"/><circle cx="446.3" cy="1022.0" r="5.1"/><circle cx="444.1" cy="1027.7" r="5.1"/><circle cx="463.8" cy="1010.6" r="5.1"/><circle cx="471.9" cy="1006.3" r="5.1"/><circle cx="498.9" cy="1012.0" r="5.1"/><circle cx="429.9" cy="1035.5" r="5.1"/><circle cx="425.6" cy="1043.3" r="5.1"/><circle cx="441.3" cy="1038.3" r="5.1"/><circle cx="444.8" cy="1040.5" r="5.1"/><circle cx="468.0" cy="1045.9" r="5.1"/><circle cx="426.3" cy="1054.7" r="5.1"/><circle cx="449.1" cy="1057.3" r="5.1"/><circle cx="418.5" cy="1060.4" r="5.1"/><circle cx="422.8" cy="1066.1" r="5.1"/><circle cx="415.7" cy="1071.8" r="5.1"/><circle cx="422.8" cy="1073.2" r="5.1"/><circle cx="429.9" cy="1078.2" r="5.1"/><circle cx="442.0" cy="1079.6" r="5.1"/><circle cx="414.2" cy="1086.0" r="5.1"/><circle cx="414.2" cy="1088.9" r="5.1"/><circle cx="414.2" cy="1063.2" r="5.1"/><circle cx="412.8" cy="1080.3" r="5.1"/><circle cx="390.5" cy="1053.3" r="5.1"/><circle cx="395.5" cy="1053.3" r="5.1"/><circle cx="400.5" cy="1053.3" r="5.1"/><circle cx="405.5" cy="1053.3" r="5.1"/><circle cx="410.5" cy="1053.3" r="5.1"/><circle cx="383.0" cy="1057.7" r="5.1"/><circle cx="388.0" cy="1057.7" r="5.1"/><circle cx="393.0" cy="1057.7" r="5.1"/><circle cx="398.0" cy="1057.7" r="5.1"/><circle cx="403.0" cy="1057.7" r="5.1"/><circle cx="408.0" cy="1057.7" r="5.1"/><circle cx="413.0" cy="1057.7" r="5.1"/><circle cx="418.0" cy="1057.7" r="5.1"/><circle cx="380.5" cy="1062.0" r="5.1"/><circle cx="385.5" cy="1062.0" r="5.1"/><circle cx="390.5" cy="1062.0" r="5.1"/><circle cx="395.5" cy="1062.0" r="5.1"/><circle cx="400.5" cy="1062.0" r="5.1"/><circle cx="405.5" cy="1062.0" r="5.1"/><circle cx="410.5" cy="1062.0" r="5.1"/><circle cx="415.5" cy="1062.0" r="5.1"/><circle cx="420.5" cy="1062.0" r="5.1"/><circle cx="378.0" cy="1066.3" r="5.1"/><circle cx="383.0" cy="1066.3" r="5.1"/><circle cx="388.0" cy="1066.3" r="5.1"/><circle cx="393.0" cy="1066.3" r="5.1"/><circle cx="398.0" cy="1066.3" r="5.1"/><circle cx="403.0" cy="1066.3" r="5.1"/><circle cx="408.0" cy="1066.3" r="5.1"/><circle cx="413.0" cy="1066.3" r="5.1"/><circle cx="418.0" cy="1066.3" r="5.1"/><circle cx="423.0" cy="1066.3" r="5.1"/><circle cx="375.5" cy="1070.6" r="5.1"/><circle cx="380.5" cy="1070.6" r="5.1"/><circle cx="385.5" cy="1070.6" r="5.1"/><circle cx="390.5" cy="1070.6" r="5.1"/><circle cx="395.5" cy="1070.6" r="5.1"/><circle cx="400.5" cy="1070.6" r="5.1"/><circle cx="405.5" cy="1070.6" r="5.1"/><circle cx="410.5" cy="1070.6" r="5.1"/><circle cx="415.5" cy="1070.6" r="5.1"/><circle cx="420.5" cy="1070.6" r="5.1"/><circle cx="378.0" cy="1075.0" r="5.1"/><circle cx="383.0" cy="1075.0" r="5.1"/><circle cx="388.0" cy="1075.0" r="5.1"/><circle cx="393.0" cy="1075.0" r="5.1"/><circle cx="398.0" cy="1075.0" r="5.1"/><circle cx="403.0" cy="1075.0" r="5.1"/><circle cx="408.0" cy="1075.0" r="5.1"/><circle cx="413.0" cy="1075.0" r="5.1"/><circle cx="418.0" cy="1075.0" r="5.1"/><circle cx="423.0" cy="1075.0" r="5.1"/><circle cx="375.5" cy="1079.3" r="5.1"/><circle cx="380.5" cy="1079.3" r="5.1"/><circle cx="385.5" cy="1079.3" r="5.1"/><circle cx="390.5" cy="1079.3" r="5.1"/><circle cx="395.5" cy="1079.3" r="5.1"/><circle cx="400.5" cy="1079.3" r="5.1"/><circle cx="405.5" cy="1079.3" r="5.1"/><circle cx="410.5" cy="1079.3" r="5.1"/><circle cx="415.5" cy="1079.3" r="5.1"/><circle cx="420.5" cy="1079.3" r="5.1"/><circle cx="378.0" cy="1083.6" r="5.1"/><circle cx="383.0" cy="1083.6" r="5.1"/><circle cx="388.0" cy="1083.6" r="5.1"/><circle cx="393.0" cy="1083.6" r="5.1"/><circle cx="398.0" cy="1083.6" r="5.1"/><circle cx="403.0" cy="1083.6" r="5.1"/><circle cx="408.0" cy="1083.6" r="5.1"/><circle cx="413.0" cy="1083.6" r="5.1"/><circle cx="418.0" cy="1083.6" r="5.1"/><circle cx="423.0" cy="1083.6" r="5.1"/><circle cx="375.5" cy="1088.0" r="5.1"/><circle cx="380.5" cy="1088.0" r="5.1"/><circle cx="385.5" cy="1088.0" r="5.1"/><circle cx="390.5" cy="1088.0" r="5.1"/><circle cx="395.5" cy="1088.0" r="5.1"/><circle cx="400.5" cy="1088.0" r="5.1"/><circle cx="405.5" cy="1088.0" r="5.1"/><circle cx="410.5" cy="1088.0" r="5.1"/><circle cx="415.5" cy="1088.0" r="5.1"/><circle cx="383.0" cy="1092.3" r="5.1"/><circle cx="388.0" cy="1092.3" r="5.1"/><circle cx="393.0" cy="1092.3" r="5.1"/><circle cx="398.0" cy="1092.3" r="5.1"/><circle cx="403.0" cy="1092.3" r="5.1"/><circle cx="408.0" cy="1092.3" r="5.1"/><circle cx="325.5" cy="1072.3" r="5.1"/><circle cx="330.5" cy="1072.3" r="5.1"/><circle cx="335.5" cy="1072.3" r="5.1"/><circle cx="340.5" cy="1072.3" r="5.1"/><circle cx="345.5" cy="1072.3" r="5.1"/><circle cx="350.5" cy="1072.3" r="5.1"/><circle cx="328.0" cy="1076.7" r="5.1"/><circle cx="333.0" cy="1076.7" r="5.1"/><circle cx="338.0" cy="1076.7" r="5.1"/><circle cx="343.0" cy="1076.7" r="5.1"/><circle cx="348.0" cy="1076.7" r="5.1"/><circle cx="353.0" cy="1076.7" r="5.1"/><circle cx="358.0" cy="1076.7" r="5.1"/><circle cx="363.0" cy="1076.7" r="5.1"/><circle cx="325.5" cy="1081.0" r="5.1"/><circle cx="330.5" cy="1081.0" r="5.1"/><circle cx="335.5" cy="1081.0" r="5.1"/><circle cx="340.5" cy="1081.0" r="5.1"/><circle cx="345.5" cy="1081.0" r="5.1"/><circle cx="350.5" cy="1081.0" r="5.1"/><circle cx="355.5" cy="1081.0" r="5.1"/><circle cx="360.5" cy="1081.0" r="5.1"/><circle cx="328.0" cy="1085.3" r="5.1"/><circle cx="333.0" cy="1085.3" r="5.1"/><circle cx="338.0" cy="1085.3" r="5.1"/><circle cx="343.0" cy="1085.3" r="5.1"/><circle cx="348.0" cy="1085.3" r="5.1"/><circle cx="353.0" cy="1085.3" r="5.1"/><circle cx="358.0" cy="1085.3" r="5.1"/><circle cx="363.0" cy="1085.3" r="5.1"/><circle cx="335.5" cy="1089.6" r="5.1"/><circle cx="340.5" cy="1089.6" r="5.1"/><circle cx="345.5" cy="1089.6" r="5.1"/><circle cx="350.5" cy="1089.6" r="5.1"/><circle cx="355.5" cy="1089.6" r="5.1"/><circle cx="360.5" cy="1089.6" r="5.1"/><circle cx="365.5" cy="1089.6" r="5.1"/></g><g fill="#11ee11"><circle cx="342.1" cy="888.1" r="4.9"/><circle cx="320.8" cy="902.8" r="4.9"/><circle cx="333.6" cy="901.3" r="4.9"/><circle cx="332.9" cy="914.1" r="4.9"/><circle cx="317.9" cy="941.9" r="4.9"/></g>
<ellipse cx="320.1" cy="919.5" rx="23.5" ry="5" transform="rotate(-63 320.1 919.5)" fill="none" stroke="#f00" stroke-width="6"/>
<path d="M322 905v28M308 919h28" stroke="#f00" stroke-width="5"/>
<ellipse cx="307.9" cy="912.5" rx="7.6" ry="9.6" fill="#000"/>
<path d="M307.3 897v30.5M292.3 912h23" stroke="#000" stroke-width="5.7"/>

<rect x="149.0" y="821.6" width="521.0" height="518.0" fill="none" stroke="#333333" stroke-width="1.4"/>
<line x1="149.0" y1="1210.1" x2="155.0" y2="1210.1" stroke="#333333" stroke-width="1.4"/>
<line x1="664.0" y1="1210.1" x2="670.0" y2="1210.1" stroke="#333333" stroke-width="1.4"/>
<line x1="149.0" y1="951.1" x2="155.0" y2="951.1" stroke="#333333" stroke-width="1.4"/>
<line x1="664.0" y1="951.1" x2="670.0" y2="951.1" stroke="#333333" stroke-width="1.4"/>
<text x="133.0" y="1356.7" text-anchor="end" class="tk">2</text>
<text x="90.8" y="1356.7" class="tk">-</text>
<text x="133.0" y="1227.2" text-anchor="end" class="tk">1</text>
<text x="90.8" y="1227.2" class="tk">-</text>
<text x="133.0" y="1097.7" text-anchor="end" class="tk">0</text>
<text x="133.0" y="968.2" text-anchor="end" class="tk">1</text>
<text x="133.0" y="838.7" text-anchor="end" class="tk">2</text>
<text x="126.6" y="1397.6" class="tk">-</text>
<text x="141.6" y="1397.6" class="tk">2</text>
<text x="409.5" y="1397.6" text-anchor="middle" class="tk">0</text>
<text x="670.0" y="1397.6" text-anchor="middle" class="tk">2</text>
<text x="83.0" y="776.2" class="pl">d</text>
<text x="150.5" y="819.5" class="ex">×</text>
<text x="184.0" y="812.6" class="tk">10</text>
<text x="233.0" y="791.4" class="sp">-7</text>
<text x="555.0" y="1473.1" class="ex">×</text>
<text x="589.0" y="1466.6" class="tk">10</text>
<text x="637.0" y="1444.4" class="sp">-7</text>
<text x="386.5" y="1457.4" class="lb">J</text>
<text x="411.5" y="1479.1" class="sb">5</text>
<g transform="translate(51.0,1080.6) rotate(-90)"><text x="-25.3" y="0" class="lb">J</text><text x="1" y="22" class="sb">7</text></g><line x1="1101.5" y1="821.6" x2="1101.5" y2="1339.6" stroke="#e3e3e3" stroke-width="5.5"/>
<line x1="842.5" y1="1080.6" x2="1360.5" y2="1080.6" stroke="#e3e3e3" stroke-width="5.5"/>
<g fill="#0072bd"><circle cx="911.3" cy="926.4" r="5.1"/><circle cx="918.7" cy="931.4" r="5.1"/><circle cx="942.9" cy="967.0" r="5.1"/><circle cx="954.0" cy="971.9" r="5.1"/><circle cx="963.5" cy="980.9" r="5.1"/><circle cx="906.6" cy="974.1" r="5.1"/><circle cx="905.9" cy="977.6" r="5.1"/><circle cx="928.9" cy="976.9" r="5.1"/><circle cx="939.3" cy="980.9" r="5.1"/><circle cx="975.3" cy="990.5" r="5.1"/><circle cx="945.5" cy="992.3" r="5.1"/><circle cx="900.2" cy="992.3" r="5.1"/><circle cx="908.7" cy="990.0" r="5.1"/><circle cx="846.8" cy="1000.4" r="5.1"/><circle cx="929.4" cy="996.9" r="5.1"/><circle cx="927.2" cy="1004.0" r="5.1"/><circle cx="933.6" cy="1006.1" r="5.1"/><circle cx="927.2" cy="1009.7" r="5.1"/><circle cx="953.6" cy="1006.8" r="5.1"/><circle cx="972.8" cy="1004.0" r="5.1"/><circle cx="1002.0" cy="1002.5" r="5.1"/><circle cx="1025.7" cy="1002.3" r="5.1"/><circle cx="972.8" cy="1016.1" r="5.1"/><circle cx="905.9" cy="1008.5" r="5.1"/><circle cx="911.6" cy="1012.5" r="5.1"/><circle cx="917.3" cy="1013.9" r="5.1"/><circle cx="921.5" cy="1018.2" r="5.1"/><circle cx="918.7" cy="1023.9" r="5.1"/><circle cx="916.6" cy="1028.2" r="5.1"/><circle cx="930.1" cy="1026.0" r="5.1"/><circle cx="901.6" cy="1028.5" r="5.1"/><circle cx="911.6" cy="1034.6" r="5.1"/><circle cx="975.6" cy="1025.3" r="5.1"/><circle cx="972.8" cy="1029.6" r="5.1"/><circle cx="982.0" cy="1030.3" r="5.1"/><circle cx="1021.2" cy="1028.5" r="5.1"/><circle cx="1028.3" cy="1030.7" r="5.1"/><circle cx="921.5" cy="1038.1" r="5.1"/><circle cx="924.4" cy="1042.4" r="5.1"/><circle cx="924.4" cy="1046.7" r="5.1"/><circle cx="918.7" cy="1041.0" r="5.1"/><circle cx="930.1" cy="1036.7" r="5.1"/><circle cx="939.3" cy="1039.6" r="5.1"/><circle cx="910.2" cy="1046.4" r="5.1"/><circle cx="876.7" cy="1048.8" r="5.1"/><circle cx="904.5" cy="1055.2" r="5.1"/><circle cx="908.7" cy="1059.5" r="5.1"/><circle cx="915.9" cy="1058.1" r="5.1"/><circle cx="923.0" cy="1056.6" r="5.1"/><circle cx="930.1" cy="1058.8" r="5.1"/><circle cx="935.8" cy="1050.9" r="5.1"/><circle cx="938.6" cy="1056.6" r="5.1"/><circle cx="947.2" cy="1050.2" r="5.1"/><circle cx="945.7" cy="1060.2" r="5.1"/><circle cx="961.4" cy="1046.0" r="5.1"/><circle cx="960.0" cy="1052.4" r="5.1"/><circle cx="964.2" cy="1058.1" r="5.1"/><circle cx="969.9" cy="1045.2" r="5.1"/><circle cx="971.4" cy="1050.9" r="5.1"/><circle cx="978.5" cy="1041.0" r="5.1"/><circle cx="985.6" cy="1039.6" r="5.1"/><circle cx="991.3" cy="1045.2" r="5.1"/><circle cx="997.7" cy="1036.7" r="5.1"/><circle cx="989.9" cy="1049.5" r="5.1"/><circle cx="998.4" cy="1050.9" r="5.1"/><circle cx="1001.2" cy="1056.6" r="5.1"/><circle cx="982.7" cy="1056.6" r="5.1"/><circle cx="988.4" cy="1063.7" r="5.1"/><circle cx="1011.2" cy="1048.8" r="5.1"/><circle cx="1024.0" cy="1043.8" r="5.1"/><circle cx="1028.3" cy="1048.1" r="5.1"/><circle cx="1034.0" cy="1042.4" r="5.1"/><circle cx="1041.1" cy="1039.6" r="5.1"/><circle cx="1045.4" cy="1036.7" r="5.1"/><circle cx="1053.9" cy="1040.3" r="5.1"/><circle cx="1065.3" cy="1042.7" r="5.1"/><circle cx="1042.5" cy="1045.2" r="5.1"/><circle cx="1038.3" cy="1050.9" r="5.1"/><circle cx="1041.1" cy="1055.2" r="5.1"/><circle cx="1032.6" cy="1056.6" r="5.1"/><circle cx="1024.0" cy="1056.6" r="5.1"/><circle cx="1018.3" cy="1060.9" r="5.1"/><circle cx="1009.8" cy="1059.5" r="5.1"/><circle cx="1004.1" cy="1062.3" r="5.1"/><circle cx="1059.6" cy="1053.8" r="5.1"/><circle cx="1056.8" cy="1060.9" r="5.1"/><circle cx="1062.4" cy="1063.7" r="5.1"/><circle cx="1069.6" cy="1066.6" r="5.1"/><circle cx="1075.3" cy="1063.7" r="5.1"/><circle cx="1081.0" cy="1063.7" r="5.1"/><circle cx="1088.1" cy="1066.6" r="5.1"/><circle cx="1096.6" cy="1063.0" r="5.1"/><circle cx="962.8" cy="1068.0" r="5.1"/><circle cx="969.9" cy="1066.6" r="5.1"/><circle cx="1014.1" cy="1068.0" r="5.1"/><circle cx="1035.4" cy="1068.0" r="5.1"/><circle cx="938.6" cy="1068.7" r="5.1"/><circle cx="921.5" cy="1069.4" r="5.1"/><circle cx="872.0" cy="1079.9" r="5.1"/><circle cx="904.8" cy="1083.2" r="5.1"/><circle cx="920.8" cy="1072.1" r="5.1"/><circle cx="930.1" cy="1076.4" r="5.1"/><circle cx="932.9" cy="1078.5" r="5.1"/><circle cx="944.3" cy="1082.1" r="5.1"/><circle cx="952.9" cy="1077.8" r="5.1"/><circle cx="957.1" cy="1086.3" r="5.1"/><circle cx="941.5" cy="1090.6" r="5.1"/><circle cx="969.9" cy="1076.4" r="5.1"/><circle cx="982.7" cy="1075.7" r="5.1"/><circle cx="991.3" cy="1079.2" r="5.1"/><circle cx="987.0" cy="1084.9" r="5.1"/><circle cx="984.2" cy="1090.6" r="5.1"/><circle cx="979.9" cy="1097.0" r="5.1"/><circle cx="1002.7" cy="1075.0" r="5.1"/><circle cx="1008.4" cy="1073.5" r="5.1"/><circle cx="1015.5" cy="1072.1" r="5.1"/><circle cx="1019.8" cy="1087.8" r="5.1"/><circle cx="1024.0" cy="1093.5" r="5.1"/><circle cx="1016.9" cy="1099.2" r="5.1"/><circle cx="1002.7" cy="1101.3" r="5.1"/><circle cx="1001.2" cy="1103.4" r="5.1"/><circle cx="1028.3" cy="1107.7" r="5.1"/><circle cx="1022.6" cy="1112.0" r="5.1"/><circle cx="1019.8" cy="1119.8" r="5.1"/><circle cx="1033.3" cy="1120.5" r="5.1"/><circle cx="1042.5" cy="1099.2" r="5.1"/><circle cx="1029.7" cy="1083.5" r="5.1"/><circle cx="1035.4" cy="1089.2" r="5.1"/><circle cx="1041.1" cy="1079.2" r="5.1"/><circle cx="1049.6" cy="1076.4" r="5.1"/><circle cx="1055.3" cy="1082.1" r="5.1"/><circle cx="1061.0" cy="1077.8" r="5.1"/><circle cx="1066.7" cy="1073.5" r="5.1"/><circle cx="1072.4" cy="1070.7" r="5.1"/><circle cx="1078.1" cy="1073.5" r="5.1"/><circle cx="1083.8" cy="1076.4" r="5.1"/><circle cx="1089.5" cy="1073.5" r="5.1"/><circle cx="1095.2" cy="1077.8" r="5.1"/><circle cx="1100.9" cy="1075.0" r="5.1"/><circle cx="1105.1" cy="1079.2" r="5.1"/><circle cx="1049.6" cy="1087.8" r="5.1"/><circle cx="1055.3" cy="1093.5" r="5.1"/><circle cx="1061.0" cy="1087.8" r="5.1"/><circle cx="1066.7" cy="1084.9" r="5.1"/><circle cx="1072.4" cy="1082.1" r="5.1"/><circle cx="1078.1" cy="1086.3" r="5.1"/><circle cx="1083.8" cy="1083.5" r="5.1"/><circle cx="1089.5" cy="1087.8" r="5.1"/><circle cx="1095.2" cy="1086.3" r="5.1"/><circle cx="1100.9" cy="1090.6" r="5.1"/><circle cx="1049.6" cy="1099.2" r="5.1"/><circle cx="1055.3" cy="1104.9" r="5.1"/><circle cx="1061.0" cy="1099.2" r="5.1"/><circle cx="1066.7" cy="1096.3" r="5.1"/><circle cx="1072.4" cy="1100.6" r="5.1"/><circle cx="1078.1" cy="1097.7" r="5.1"/><circle cx="1083.8" cy="1103.4" r="5.1"/><circle cx="1089.5" cy="1097.7" r="5.1"/><circle cx="1095.2" cy="1100.6" r="5.1"/><circle cx="1100.9" cy="1102.0" r="5.1"/><circle cx="1058.2" cy="1112.0" r="5.1"/><circle cx="1063.9" cy="1114.8" r="5.1"/><circle cx="1069.6" cy="1109.1" r="5.1"/><circle cx="1075.3" cy="1110.5" r="5.1"/><circle cx="1081.0" cy="1116.2" r="5.1"/><circle cx="1086.6" cy="1119.1" r="5.1"/><circle cx="1092.3" cy="1112.0" r="5.1"/><circle cx="1095.2" cy="1107.7" r="5.1"/><circle cx="1083.8" cy="1124.8" r="5.1"/><circle cx="1089.5" cy="1127.6" r="5.1"/><circle cx="1095.2" cy="1131.9" r="5.1"/><circle cx="1099.5" cy="1136.2" r="5.1"/><circle cx="1105.1" cy="1110.5" r="5.1"/><circle cx="1052.5" cy="1121.9" r="5.1"/><circle cx="1061.0" cy="1126.2" r="5.1"/><circle cx="1049.6" cy="1133.3" r="5.1"/><circle cx="1058.2" cy="1131.9" r="5.1"/><circle cx="1072.4" cy="1131.9" r="5.1"/><circle cx="1070.3" cy="1140.4" r="5.1"/><circle cx="918.4" cy="1098.4" r="5.1"/><circle cx="918.7" cy="1103.4" r="5.1"/><circle cx="904.8" cy="1110.8" r="5.1"/><circle cx="913.7" cy="1124.5" r="5.1"/><circle cx="934.6" cy="1109.1" r="5.1"/><circle cx="950.0" cy="1104.9" r="5.1"/><circle cx="951.4" cy="1110.5" r="5.1"/><circle cx="954.3" cy="1102.0" r="5.1"/><circle cx="960.0" cy="1099.2" r="5.1"/><circle cx="964.2" cy="1096.3" r="5.1"/><circle cx="968.5" cy="1103.4" r="5.1"/><circle cx="967.1" cy="1109.1" r="5.1"/><circle cx="960.0" cy="1121.9" r="5.1"/><circle cx="965.7" cy="1119.1" r="5.1"/><circle cx="971.4" cy="1121.9" r="5.1"/><circle cx="975.6" cy="1127.6" r="5.1"/><circle cx="967.1" cy="1133.3" r="5.1"/><circle cx="975.6" cy="1131.9" r="5.1"/><circle cx="984.2" cy="1134.7" r="5.1"/><circle cx="987.0" cy="1137.6" r="5.1"/><circle cx="985.6" cy="1109.1" r="5.1"/><circle cx="989.9" cy="1113.4" r="5.1"/><circle cx="981.3" cy="1109.1" r="5.1"/><circle cx="989.6" cy="1123.4" r="5.1"/><circle cx="1006.7" cy="1123.1" r="5.1"/><circle cx="1009.1" cy="1133.6" r="5.1"/><circle cx="942.2" cy="1124.1" r="5.1"/><circle cx="948.6" cy="1139.0" r="5.1"/><circle cx="972.1" cy="1145.4" r="5.1"/><circle cx="981.3" cy="1144.7" r="5.1"/><circle cx="988.4" cy="1149.0" r="5.1"/><circle cx="994.1" cy="1150.4" r="5.1"/><circle cx="1004.1" cy="1151.8" r="5.1"/><circle cx="1006.9" cy="1146.1" r="5.1"/><circle cx="1014.1" cy="1156.1" r="5.1"/><circle cx="1009.1" cy="1161.8" r="5.1"/><circle cx="1030.9" cy="1146.8" r="5.1"/><circle cx="1043.9" cy="1146.1" r="5.1"/><circle cx="1048.2" cy="1147.5" r="5.1"/><circle cx="1043.2" cy="1156.1" r="5.1"/><circle cx="1055.3" cy="1154.7" r="5.1"/><circle cx="1066.7" cy="1156.1" r="5.1"/><circle cx="1074.5" cy="1161.5" r="5.1"/><circle cx="1083.8" cy="1151.8" r="5.1"/><circle cx="1093.8" cy="1149.0" r="5.1"/><circle cx="1090.9" cy="1158.9" r="5.1"/><circle cx="1087.4" cy="1164.6" r="5.1"/><circle cx="1062.7" cy="1167.2" r="5.1"/><circle cx="1078.8" cy="1171.7" r="5.1"/><circle cx="1099.5" cy="1176.7" r="5.1"/><circle cx="1103.7" cy="1184.6" r="5.1"/><circle cx="1064.6" cy="1182.4" r="5.1"/><circle cx="1035.1" cy="1183.1" r="5.1"/><circle cx="1051.1" cy="1191.2" r="5.1"/><circle cx="1046.1" cy="1201.3" r="5.1"/><circle cx="1035.4" cy="1201.6" r="5.1"/><circle cx="1071.7" cy="1201.9" r="5.1"/><circle cx="1085.2" cy="1208.7" r="5.1"/><circle cx="1043.9" cy="1215.6" r="5.1"/><circle cx="1065.3" cy="1215.2" r="5.1"/><circle cx="1068.9" cy="1217.3" r="5.1"/><circle cx="1088.8" cy="1219.4" r="5.1"/><circle cx="899.5" cy="1154.9" r="5.1"/><circle cx="891.7" cy="1162.5" r="5.1"/><circle cx="938.6" cy="1153.2" r="5.1"/><circle cx="937.2" cy="1157.5" r="5.1"/><circle cx="963.5" cy="1159.2" r="5.1"/><circle cx="989.6" cy="1160.4" r="5.1"/><circle cx="946.9" cy="1169.3" r="5.1"/><circle cx="930.1" cy="1174.6" r="5.1"/><circle cx="934.1" cy="1179.6" r="5.1"/><circle cx="948.6" cy="1185.0" r="5.1"/><circle cx="973.1" cy="1171.5" r="5.1"/><circle cx="992.7" cy="1173.2" r="5.1"/><circle cx="1002.0" cy="1173.9" r="5.1"/><circle cx="979.2" cy="1205.2" r="5.1"/><circle cx="1126.8" cy="1079.1" r="5.1"/><circle cx="1108.3" cy="1090.0" r="5.1"/><circle cx="1117.5" cy="1094.6" r="5.1"/><circle cx="1122.2" cy="1101.6" r="5.1"/><circle cx="1114.5" cy="1099.2" r="5.1"/><circle cx="1108.3" cy="1110.1" r="5.1"/><circle cx="1116.0" cy="1117.0" r="5.1"/><circle cx="1112.9" cy="1125.5" r="5.1"/><circle cx="1125.3" cy="1125.5" r="5.1"/><circle cx="1135.3" cy="1125.5" r="5.1"/><circle cx="1132.2" cy="1130.1" r="5.1"/><circle cx="1119.1" cy="1136.3" r="5.1"/><circle cx="1124.5" cy="1135.5" r="5.1"/><circle cx="1122.2" cy="1147.9" r="5.1"/><circle cx="1119.1" cy="1152.5" r="5.1"/><circle cx="1127.6" cy="1157.2" r="5.1"/><circle cx="1141.0" cy="1158.0" r="5.1"/><circle cx="1137.6" cy="1168.8" r="5.1"/><circle cx="1143.0" cy="1168.0" r="5.1"/><circle cx="1113.7" cy="1174.2" r="5.1"/><circle cx="1151.5" cy="1177.7" r="5.1"/><circle cx="1163.6" cy="1177.7" r="5.1"/><circle cx="1145.4" cy="1195.0" r="5.1"/><circle cx="1159.6" cy="1193.5" r="5.1"/><circle cx="1155.9" cy="1201.2" r="5.1"/><circle cx="1110.6" cy="1217.4" r="5.1"/><circle cx="1190.5" cy="1122.1" r="5.1"/><circle cx="1108.3" cy="1082.2" r="5.1"/><circle cx="1111.4" cy="1086.9" r="5.1"/><circle cx="936.8" cy="1223.5" r="5.1"/><circle cx="960.5" cy="1221.5" r="5.1"/><circle cx="924.8" cy="1244.3" r="5.1"/><circle cx="906.3" cy="1276.6" r="5.1"/><circle cx="992.7" cy="1325.6" r="5.1"/><circle cx="1036.1" cy="1284.3" r="5.1"/><circle cx="1045.5" cy="1288.0" r="5.1"/><circle cx="1058.3" cy="1268.6" r="5.1"/><circle cx="1075.1" cy="1276.6" r="5.1"/><circle cx="1066.6" cy="1307.7" r="5.1"/><circle cx="1107.3" cy="1268.6" r="5.1"/><circle cx="1133.9" cy="1287.1" r="5.1"/><circle cx="1119.6" cy="1298.5" r="5.1"/><circle cx="1050.3" cy="1229.5" r="5.1"/><circle cx="1072.3" cy="1236.1" r="5.1"/><circle cx="1083.1" cy="1237.2" r="5.1"/><circle cx="1109.6" cy="1229.5" r="5.1"/><circle cx="1011.2" cy="1266.3" r="5.1"/><circle cx="999.0" cy="1271.4" r="5.1"/><circle cx="1058.5" cy="1069.3" r="5.1"/><circle cx="1063.5" cy="1069.3" r="5.1"/><circle cx="1068.5" cy="1069.3" r="5.1"/><circle cx="1073.5" cy="1069.3" r="5.1"/><circle cx="1078.5" cy="1069.3" r="5.1"/><circle cx="1083.5" cy="1069.3" r="5.1"/><circle cx="1088.5" cy="1069.3" r="5.1"/><circle cx="1093.5" cy="1069.3" r="5.1"/><circle cx="1056.0" cy="1073.7" r="5.1"/><circle cx="1061.0" cy="1073.7" r="5.1"/><circle cx="1066.0" cy="1073.7" r="5.1"/><circle cx="1071.0" cy="1073.7" r="5.1"/><circle cx="1076.0" cy="1073.7" r="5.1"/><circle cx="1081.0" cy="1073.7" r="5.1"/><circle cx="1086.0" cy="1073.7" r="5.1"/><circle cx="1091.0" cy="1073.7" r="5.1"/><circle cx="1096.0" cy="1073.7" r="5.1"/><circle cx="1053.5" cy="1078.0" r="5.1"/><circle cx="1058.5" cy="1078.0" r="5.1"/><circle cx="1063.5" cy="1078.0" r="5.1"/><circle cx="1068.5" cy="1078.0" r="5.1"/><circle cx="1073.5" cy="1078.0" r="5.1"/><circle cx="1078.5" cy="1078.0" r="5.1"/><circle cx="1083.5" cy="1078.0" r="5.1"/><circle cx="1088.5" cy="1078.0" r="5.1"/><circle cx="1093.5" cy="1078.0" r="5.1"/><circle cx="1098.5" cy="1078.0" r="5.1"/><circle cx="1103.5" cy="1078.0" r="5.1"/><circle cx="1056.0" cy="1082.3" r="5.1"/><circle cx="1061.0" cy="1082.3" r="5.1"/><circle cx="1066.0" cy="1082.3" r="5.1"/><circle cx="1071.0" cy="1082.3" r="5.1"/><circle cx="1076.0" cy="1082.3" r="5.1"/><circle cx="1081.0" cy="1082.3" r="5.1"/><circle cx="1086.0" cy="1082.3" r="5.1"/><circle cx="1091.0" cy="1082.3" r="5.1"/><circle cx="1096.0" cy="1082.3" r="5.1"/><circle cx="1101.0" cy="1082.3" r="5.1"/><circle cx="1106.0" cy="1082.3" r="5.1"/><circle cx="1053.5" cy="1086.6" r="5.1"/><circle cx="1058.5" cy="1086.6" r="5.1"/><circle cx="1063.5" cy="1086.6" r="5.1"/><circle cx="1068.5" cy="1086.6" r="5.1"/><circle cx="1073.5" cy="1086.6" r="5.1"/><circle cx="1078.5" cy="1086.6" r="5.1"/><circle cx="1083.5" cy="1086.6" r="5.1"/><circle cx="1088.5" cy="1086.6" r="5.1"/><circle cx="1093.5" cy="1086.6" r="5.1"/><circle cx="1098.5" cy="1086.6" r="5.1"/><circle cx="1103.5" cy="1086.6" r="5.1"/><circle cx="1051.0" cy="1091.0" r="5.1"/><circle cx="1056.0" cy="1091.0" r="5.1"/><circle cx="1061.0" cy="1091.0" r="5.1"/><circle cx="1066.0" cy="1091.0" r="5.1"/><circle cx="1071.0" cy="1091.0" r="5.1"/><circle cx="1076.0" cy="1091.0" r="5.1"/><circle cx="1081.0" cy="1091.0" r="5.1"/><circle cx="1086.0" cy="1091.0" r="5.1"/><circle cx="1091.0" cy="1091.0" r="5.1"/><circle cx="1096.0" cy="1091.0" r="5.1"/><circle cx="1101.0" cy="1091.0" r="5.1"/><circle cx="1106.0" cy="1091.0" r="5.1"/><circle cx="1053.5" cy="1095.3" r="5.1"/><circle cx="1058.5" cy="1095.3" r="5.1"/><circle cx="1063.5" cy="1095.3" r="5.1"/><circle cx="1068.5" cy="1095.3" r="5.1"/><circle cx="1073.5" cy="1095.3" r="5.1"/><circle cx="1078.5" cy="1095.3" r="5.1"/><circle cx="1083.5" cy="1095.3" r="5.1"/><circle cx="1088.5" cy="1095.3" r="5.1"/><circle cx="1093.5" cy="1095.3" r="5.1"/><circle cx="1098.5" cy="1095.3" r="5.1"/><circle cx="1103.5" cy="1095.3" r="5.1"/><circle cx="1051.0" cy="1099.6" r="5.1"/><circle cx="1056.0" cy="1099.6" r="5.1"/><circle cx="1061.0" cy="1099.6" r="5.1"/><circle cx="1066.0" cy="1099.6" r="5.1"/><circle cx="1071.0" cy="1099.6" r="5.1"/><circle cx="1076.0" cy="1099.6" r="5.1"/><circle cx="1081.0" cy="1099.6" r="5.1"/><circle cx="1086.0" cy="1099.6" r="5.1"/><circle cx="1091.0" cy="1099.6" r="5.1"/><circle cx="1096.0" cy="1099.6" r="5.1"/><circle cx="1058.5" cy="1104.0" r="5.1"/><circle cx="1063.5" cy="1104.0" r="5.1"/><circle cx="1068.5" cy="1104.0" r="5.1"/><circle cx="1073.5" cy="1104.0" r="5.1"/><circle cx="1078.5" cy="1104.0" r="5.1"/><circle cx="1083.5" cy="1104.0" r="5.1"/><circle cx="1088.5" cy="1104.0" r="5.1"/><circle cx="1093.5" cy="1104.0" r="5.1"/><circle cx="1076.0" cy="1108.3" r="5.1"/><circle cx="1081.0" cy="1108.3" r="5.1"/><circle cx="1086.0" cy="1108.3" r="5.1"/><circle cx="1091.0" cy="1108.3" r="5.1"/><circle cx="1083.5" cy="1112.6" r="5.1"/><circle cx="1088.5" cy="1112.6" r="5.1"/></g><g fill="#11ee11"><circle cx="1034.7" cy="1196.6" r="4.9"/><circle cx="1025.4" cy="1205.9" r="4.9"/><circle cx="1014.1" cy="1198.1" r="4.9"/><circle cx="999.8" cy="1206.6" r="4.9"/><circle cx="1023.1" cy="1222.2" r="4.9"/><circle cx="1009.7" cy="1248.5" r="4.9"/></g>
<ellipse cx="1012.6" cy="1218" rx="56.5" ry="7.5" transform="rotate(-80.8 1012.6 1218)" fill="none" stroke="#f00" stroke-width="6"/>
<path d="M1012 1203.4v29.3M996.7 1217.5h30.5" stroke="#f00" stroke-width="5.5"/>
<circle cx="1000.3" cy="1192.8" r="7.5" fill="#000"/>
<path d="M1000.3 1178.2v29.3M985 1192.8h30.5" stroke="#000" stroke-width="5.8"/>

<rect x="842.5" y="821.6" width="518.0" height="518.0" fill="none" stroke="#333333" stroke-width="1.4"/>
<line x1="842.5" y1="1210.1" x2="848.5" y2="1210.1" stroke="#333333" stroke-width="1.4"/>
<line x1="1354.5" y1="1210.1" x2="1360.5" y2="1210.1" stroke="#333333" stroke-width="1.4"/>
<line x1="842.5" y1="951.1" x2="848.5" y2="951.1" stroke="#333333" stroke-width="1.4"/>
<line x1="1354.5" y1="951.1" x2="1360.5" y2="951.1" stroke="#333333" stroke-width="1.4"/>
<text x="826.5" y="1356.7" text-anchor="end" class="tk">2</text>
<text x="784.3" y="1356.7" class="tk">-</text>
<text x="826.5" y="1227.2" text-anchor="end" class="tk">1</text>
<text x="784.3" y="1227.2" class="tk">-</text>
<text x="826.5" y="1097.7" text-anchor="end" class="tk">0</text>
<text x="826.5" y="968.2" text-anchor="end" class="tk">1</text>
<text x="826.5" y="838.7" text-anchor="end" class="tk">2</text>
<text x="820.1" y="1397.6" class="tk">-</text>
<text x="835.1" y="1397.6" class="tk">2</text>
<text x="1101.5" y="1397.6" text-anchor="middle" class="tk">0</text>
<text x="1360.5" y="1397.6" text-anchor="middle" class="tk">2</text>
<text x="776.5" y="776.2" class="pl">e</text>
<text x="844.0" y="819.5" class="ex">×</text>
<text x="877.5" y="812.6" class="tk">10</text>
<text x="926.5" y="791.4" class="sp">-7</text>
<text x="1245.5" y="1473.1" class="ex">×</text>
<text x="1279.5" y="1466.6" class="tk">10</text>
<text x="1327.5" y="1444.4" class="sp">-7</text>
<text x="1078.5" y="1457.4" class="lb">J</text>
<text x="1103.5" y="1479.1" class="sb">5</text>
<g transform="translate(744.5,1080.6) rotate(-90)"><text x="-25.3" y="0" class="lb">J</text><text x="1" y="22" class="sb">9</text></g><line x1="1793.9" y1="821.6" x2="1793.9" y2="1339.6" stroke="#e3e3e3" stroke-width="5.5"/>
<line x1="1533.4" y1="1080.6" x2="2054.3" y2="1080.6" stroke="#e3e3e3" stroke-width="5.5"/>
<g fill="#0072bd"><circle cx="1869.6" cy="926.8" r="5.1"/><circle cx="1882.0" cy="931.4" r="5.1"/><circle cx="1806.0" cy="972.4" r="5.1"/><circle cx="1792.7" cy="980.9" r="5.1"/><circle cx="1886.2" cy="967.0" r="5.1"/><circle cx="1877.4" cy="978.1" r="5.1"/><circle cx="1883.8" cy="976.9" r="5.1"/><circle cx="1890.9" cy="974.8" r="5.1"/><circle cx="1963.1" cy="981.2" r="5.1"/><circle cx="1850.4" cy="991.9" r="5.1"/><circle cx="1854.6" cy="989.7" r="5.1"/><circle cx="1858.6" cy="997.6" r="5.1"/><circle cx="1889.9" cy="990.5" r="5.1"/><circle cx="1910.1" cy="992.3" r="5.1"/><circle cx="1870.0" cy="1000.0" r="5.1"/><circle cx="1784.2" cy="1002.5" r="5.1"/><circle cx="1792.0" cy="1004.0" r="5.1"/><circle cx="1819.8" cy="1002.5" r="5.1"/><circle cx="1844.7" cy="1008.5" r="5.1"/><circle cx="1887.4" cy="1004.0" r="5.1"/><circle cx="1887.4" cy="1011.1" r="5.1"/><circle cx="1892.8" cy="1018.2" r="5.1"/><circle cx="1905.2" cy="1007.1" r="5.1"/><circle cx="1913.0" cy="1006.8" r="5.1"/><circle cx="1917.2" cy="1010.4" r="5.1"/><circle cx="1929.8" cy="1013.9" r="5.1"/><circle cx="1863.9" cy="1015.6" r="5.1"/><circle cx="1882.4" cy="1020.3" r="5.1"/><circle cx="1878.8" cy="1028.5" r="5.1"/><circle cx="1856.3" cy="1026.0" r="5.1"/><circle cx="1839.0" cy="1028.9" r="5.1"/><circle cx="1841.8" cy="1032.4" r="5.1"/><circle cx="1844.7" cy="1034.6" r="5.1"/><circle cx="1903.0" cy="1027.5" r="5.1"/><circle cx="1908.7" cy="1028.9" r="5.1"/><circle cx="1907.3" cy="1033.9" r="5.1"/><circle cx="1913.0" cy="1036.7" r="5.1"/><circle cx="1917.2" cy="1039.6" r="5.1"/><circle cx="1918.7" cy="1045.2" r="5.1"/><circle cx="1922.2" cy="1050.2" r="5.1"/><circle cx="1945.7" cy="1026.0" r="5.1"/><circle cx="1947.1" cy="1039.6" r="5.1"/><circle cx="1955.0" cy="1043.8" r="5.1"/><circle cx="1979.6" cy="1051.6" r="5.1"/><circle cx="2006.9" cy="1051.6" r="5.1"/><circle cx="1791.3" cy="1030.7" r="5.1"/><circle cx="1769.2" cy="1042.7" r="5.1"/><circle cx="1780.6" cy="1045.2" r="5.1"/><circle cx="1786.3" cy="1039.6" r="5.1"/><circle cx="1802.0" cy="1039.6" r="5.1"/><circle cx="1815.5" cy="1042.4" r="5.1"/><circle cx="1792.0" cy="1048.1" r="5.1"/><circle cx="1797.7" cy="1046.7" r="5.1"/><circle cx="1777.8" cy="1053.8" r="5.1"/><circle cx="1783.5" cy="1056.6" r="5.1"/><circle cx="1789.2" cy="1053.8" r="5.1"/><circle cx="1796.3" cy="1056.6" r="5.1"/><circle cx="1809.1" cy="1048.1" r="5.1"/><circle cx="1817.6" cy="1048.1" r="5.1"/><circle cx="1820.5" cy="1053.8" r="5.1"/><circle cx="1811.9" cy="1056.6" r="5.1"/><circle cx="1804.8" cy="1060.9" r="5.1"/><circle cx="1792.0" cy="1062.3" r="5.1"/><circle cx="1786.3" cy="1065.2" r="5.1"/><circle cx="1776.3" cy="1065.2" r="5.1"/><circle cx="1797.7" cy="1066.6" r="5.1"/><circle cx="1814.8" cy="1062.3" r="5.1"/><circle cx="1823.3" cy="1059.5" r="5.1"/><circle cx="1829.0" cy="1062.3" r="5.1"/><circle cx="1834.7" cy="1048.1" r="5.1"/><circle cx="1840.4" cy="1050.9" r="5.1"/><circle cx="1834.7" cy="1055.2" r="5.1"/><circle cx="1841.8" cy="1059.5" r="5.1"/><circle cx="1831.9" cy="1066.6" r="5.1"/><circle cx="1820.5" cy="1069.4" r="5.1"/><circle cx="1857.5" cy="1036.7" r="5.1"/><circle cx="1853.2" cy="1042.4" r="5.1"/><circle cx="1858.9" cy="1039.6" r="5.1"/><circle cx="1871.7" cy="1036.7" r="5.1"/><circle cx="1870.3" cy="1043.8" r="5.1"/><circle cx="1878.8" cy="1042.4" r="5.1"/><circle cx="1884.5" cy="1045.2" r="5.1"/><circle cx="1891.6" cy="1046.7" r="5.1"/><circle cx="1903.0" cy="1046.7" r="5.1"/><circle cx="1857.5" cy="1055.2" r="5.1"/><circle cx="1863.2" cy="1053.8" r="5.1"/><circle cx="1868.9" cy="1055.2" r="5.1"/><circle cx="1860.3" cy="1060.9" r="5.1"/><circle cx="1867.4" cy="1062.3" r="5.1"/><circle cx="1874.6" cy="1060.9" r="5.1"/><circle cx="1880.2" cy="1063.7" r="5.1"/><circle cx="1885.9" cy="1056.6" r="5.1"/><circle cx="1891.6" cy="1058.1" r="5.1"/><circle cx="1853.2" cy="1066.6" r="5.1"/><circle cx="1866.0" cy="1068.0" r="5.1"/><circle cx="1877.4" cy="1069.4" r="5.1"/><circle cx="1905.9" cy="1056.6" r="5.1"/><circle cx="1911.6" cy="1059.5" r="5.1"/><circle cx="1925.8" cy="1058.8" r="5.1"/><circle cx="1932.9" cy="1056.6" r="5.1"/><circle cx="1942.9" cy="1063.0" r="5.1"/><circle cx="1951.4" cy="1060.2" r="5.1"/><circle cx="1897.3" cy="1068.7" r="5.1"/><circle cx="1930.1" cy="1069.4" r="5.1"/><circle cx="1759.3" cy="1079.2" r="5.1"/><circle cx="1766.4" cy="1082.1" r="5.1"/><circle cx="1772.1" cy="1076.4" r="5.1"/><circle cx="1777.8" cy="1073.5" r="5.1"/><circle cx="1783.5" cy="1070.7" r="5.1"/><circle cx="1789.2" cy="1073.5" r="5.1"/><circle cx="1794.9" cy="1070.7" r="5.1"/><circle cx="1772.1" cy="1086.3" r="5.1"/><circle cx="1777.8" cy="1083.5" r="5.1"/><circle cx="1783.5" cy="1080.7" r="5.1"/><circle cx="1789.2" cy="1079.2" r="5.1"/><circle cx="1794.9" cy="1079.2" r="5.1"/><circle cx="1800.5" cy="1076.4" r="5.1"/><circle cx="1806.2" cy="1073.5" r="5.1"/><circle cx="1811.9" cy="1075.0" r="5.1"/><circle cx="1817.6" cy="1076.4" r="5.1"/><circle cx="1780.6" cy="1090.6" r="5.1"/><circle cx="1786.3" cy="1089.2" r="5.1"/><circle cx="1792.0" cy="1087.8" r="5.1"/><circle cx="1797.7" cy="1086.3" r="5.1"/><circle cx="1803.4" cy="1084.9" r="5.1"/><circle cx="1809.1" cy="1083.5" r="5.1"/><circle cx="1814.8" cy="1082.1" r="5.1"/><circle cx="1820.5" cy="1082.1" r="5.1"/><circle cx="1826.2" cy="1080.7" r="5.1"/><circle cx="1831.9" cy="1079.2" r="5.1"/><circle cx="1840.4" cy="1083.5" r="5.1"/><circle cx="1779.2" cy="1102.0" r="5.1"/><circle cx="1784.9" cy="1104.9" r="5.1"/><circle cx="1790.6" cy="1099.2" r="5.1"/><circle cx="1796.3" cy="1097.7" r="5.1"/><circle cx="1800.5" cy="1104.9" r="5.1"/><circle cx="1806.2" cy="1110.5" r="5.1"/><circle cx="1811.9" cy="1112.0" r="5.1"/><circle cx="1817.6" cy="1107.7" r="5.1"/><circle cx="1823.3" cy="1104.9" r="5.1"/><circle cx="1829.0" cy="1102.0" r="5.1"/><circle cx="1834.7" cy="1099.2" r="5.1"/><circle cx="1797.7" cy="1093.5" r="5.1"/><circle cx="1803.4" cy="1093.5" r="5.1"/><circle cx="1811.9" cy="1093.5" r="5.1"/><circle cx="1817.6" cy="1093.5" r="5.1"/><circle cx="1823.3" cy="1093.5" r="5.1"/><circle cx="1829.0" cy="1093.5" r="5.1"/><circle cx="1833.3" cy="1087.8" r="5.1"/><circle cx="1820.5" cy="1113.4" r="5.1"/><circle cx="1814.8" cy="1117.7" r="5.1"/><circle cx="1826.2" cy="1119.1" r="5.1"/><circle cx="1831.9" cy="1124.8" r="5.1"/><circle cx="1834.7" cy="1130.5" r="5.1"/><circle cx="1829.0" cy="1136.2" r="5.1"/><circle cx="1846.1" cy="1101.3" r="5.1"/><circle cx="1853.2" cy="1082.1" r="5.1"/><circle cx="1860.3" cy="1076.4" r="5.1"/><circle cx="1866.0" cy="1082.1" r="5.1"/><circle cx="1873.1" cy="1077.8" r="5.1"/><circle cx="1877.4" cy="1083.5" r="5.1"/><circle cx="1864.6" cy="1090.6" r="5.1"/><circle cx="1867.4" cy="1097.7" r="5.1"/><circle cx="1870.3" cy="1103.4" r="5.1"/><circle cx="1863.2" cy="1112.0" r="5.1"/><circle cx="1868.9" cy="1116.2" r="5.1"/><circle cx="1876.0" cy="1123.4" r="5.1"/><circle cx="1846.1" cy="1126.2" r="5.1"/><circle cx="1851.8" cy="1129.0" r="5.1"/><circle cx="1857.5" cy="1124.8" r="5.1"/><circle cx="1863.2" cy="1129.0" r="5.1"/><circle cx="1857.5" cy="1133.3" r="5.1"/><circle cx="1863.2" cy="1136.2" r="5.1"/><circle cx="1870.3" cy="1139.0" r="5.1"/><circle cx="1868.9" cy="1131.9" r="5.1"/><circle cx="1895.9" cy="1070.7" r="5.1"/><circle cx="1900.2" cy="1073.5" r="5.1"/><circle cx="1897.3" cy="1079.2" r="5.1"/><circle cx="1897.3" cy="1084.9" r="5.1"/><circle cx="1895.9" cy="1092.0" r="5.1"/><circle cx="1898.7" cy="1097.7" r="5.1"/><circle cx="1894.5" cy="1103.4" r="5.1"/><circle cx="1888.8" cy="1107.7" r="5.1"/><circle cx="1883.1" cy="1099.2" r="5.1"/><circle cx="1884.5" cy="1110.5" r="5.1"/><circle cx="1890.2" cy="1114.8" r="5.1"/><circle cx="1897.3" cy="1112.0" r="5.1"/><circle cx="1903.0" cy="1107.7" r="5.1"/><circle cx="1887.4" cy="1124.8" r="5.1"/><circle cx="1894.5" cy="1130.5" r="5.1"/><circle cx="1900.2" cy="1127.6" r="5.1"/><circle cx="1905.9" cy="1124.8" r="5.1"/><circle cx="1903.0" cy="1121.9" r="5.1"/><circle cx="1910.1" cy="1075.0" r="5.1"/><circle cx="1911.6" cy="1084.9" r="5.1"/><circle cx="1911.6" cy="1106.3" r="5.1"/><circle cx="1920.1" cy="1106.3" r="5.1"/><circle cx="1927.2" cy="1103.4" r="5.1"/><circle cx="1917.2" cy="1120.5" r="5.1"/><circle cx="1922.9" cy="1121.9" r="5.1"/><circle cx="1930.1" cy="1123.4" r="5.1"/><circle cx="1930.1" cy="1070.7" r="5.1"/><circle cx="1938.6" cy="1076.4" r="5.1"/><circle cx="1942.9" cy="1079.2" r="5.1"/><circle cx="1940.0" cy="1083.5" r="5.1"/><circle cx="1965.6" cy="1076.4" r="5.1"/><circle cx="1969.9" cy="1080.7" r="5.1"/><circle cx="1959.9" cy="1084.9" r="5.1"/><circle cx="1958.5" cy="1094.9" r="5.1"/><circle cx="1983.4" cy="1076.7" r="5.1"/><circle cx="1991.3" cy="1098.4" r="5.1"/><circle cx="1947.1" cy="1103.4" r="5.1"/><circle cx="1946.4" cy="1110.5" r="5.1"/><circle cx="1969.9" cy="1103.4" r="5.1"/><circle cx="1975.6" cy="1100.6" r="5.1"/><circle cx="1957.1" cy="1119.1" r="5.1"/><circle cx="1964.2" cy="1117.7" r="5.1"/><circle cx="1959.9" cy="1123.4" r="5.1"/><circle cx="1979.9" cy="1123.1" r="5.1"/><circle cx="1957.1" cy="1133.3" r="5.1"/><circle cx="1965.6" cy="1131.9" r="5.1"/><circle cx="1975.6" cy="1134.7" r="5.1"/><circle cx="1962.8" cy="1144.7" r="5.1"/><circle cx="1968.5" cy="1144.7" r="5.1"/><circle cx="1951.4" cy="1149.7" r="5.1"/><circle cx="1988.4" cy="1150.4" r="5.1"/><circle cx="1991.3" cy="1148.3" r="5.1"/><circle cx="1788.0" cy="1121.6" r="5.1"/><circle cx="1802.0" cy="1126.9" r="5.1"/><circle cx="1816.2" cy="1131.9" r="5.1"/><circle cx="1806.0" cy="1138.7" r="5.1"/><circle cx="1783.2" cy="1145.8" r="5.1"/><circle cx="1803.4" cy="1154.7" r="5.1"/><circle cx="1804.1" cy="1164.6" r="5.1"/><circle cx="1816.9" cy="1158.2" r="5.1"/><circle cx="1837.5" cy="1147.5" r="5.1"/><circle cx="1837.5" cy="1151.8" r="5.1"/><circle cx="1854.6" cy="1146.1" r="5.1"/><circle cx="1854.6" cy="1150.4" r="5.1"/><circle cx="1851.8" cy="1161.8" r="5.1"/><circle cx="1853.2" cy="1167.5" r="5.1"/><circle cx="1860.3" cy="1175.3" r="5.1"/><circle cx="1868.9" cy="1177.4" r="5.1"/><circle cx="1880.2" cy="1157.5" r="5.1"/><circle cx="1884.5" cy="1156.1" r="5.1"/><circle cx="1884.2" cy="1173.9" r="5.1"/><circle cx="1882.4" cy="1187.1" r="5.1"/><circle cx="1903.0" cy="1146.8" r="5.1"/><circle cx="1918.7" cy="1151.8" r="5.1"/><circle cx="1911.6" cy="1157.5" r="5.1"/><circle cx="1917.2" cy="1163.2" r="5.1"/><circle cx="1922.9" cy="1167.5" r="5.1"/><circle cx="1918.7" cy="1173.2" r="5.1"/><circle cx="1914.4" cy="1176.0" r="5.1"/><circle cx="1918.7" cy="1184.6" r="5.1"/><circle cx="1924.4" cy="1139.0" r="5.1"/><circle cx="1931.5" cy="1139.7" r="5.1"/><circle cx="1930.1" cy="1156.1" r="5.1"/><circle cx="1937.2" cy="1167.2" r="5.1"/><circle cx="1898.7" cy="1184.3" r="5.1"/><circle cx="1905.9" cy="1182.0" r="5.1"/><circle cx="1935.8" cy="1190.2" r="5.1"/><circle cx="1954.3" cy="1170.3" r="5.1"/><circle cx="1971.3" cy="1158.9" r="5.1"/><circle cx="1977.0" cy="1176.0" r="5.1"/><circle cx="1990.5" cy="1168.2" r="5.1"/><circle cx="2007.6" cy="1157.2" r="5.1"/><circle cx="2021.1" cy="1154.7" r="5.1"/><circle cx="1830.4" cy="1173.2" r="5.1"/><circle cx="1828.7" cy="1192.8" r="5.1"/><circle cx="1803.1" cy="1198.1" r="5.1"/><circle cx="1766.4" cy="1201.3" r="5.1"/><circle cx="1863.9" cy="1200.9" r="5.1"/><circle cx="1814.1" cy="1215.2" r="5.1"/><circle cx="1912.3" cy="1201.6" r="5.1"/><circle cx="1899.5" cy="1208.0" r="5.1"/><circle cx="1925.1" cy="1216.6" r="5.1"/><circle cx="1941.4" cy="1205.2" r="5.1"/><circle cx="1996.2" cy="1191.0" r="5.1"/><circle cx="2012.6" cy="1194.8" r="5.1"/><circle cx="1982.7" cy="1214.4" r="5.1"/><circle cx="1995.5" cy="1215.2" r="5.1"/><circle cx="1979.9" cy="1207.3" r="5.1"/><circle cx="2028.7" cy="1154.6" r="5.1"/><circle cx="1908.4" cy="1223.4" r="5.1"/><circle cx="1949.4" cy="1229.4" r="5.1"/><circle cx="1973.3" cy="1227.3" r="5.1"/><circle cx="1978.3" cy="1230.1" r="5.1"/><circle cx="1808.3" cy="1236.3" r="5.1"/><circle cx="1825.6" cy="1237.0" r="5.1"/><circle cx="1852.0" cy="1244.2" r="5.1"/><circle cx="1859.6" cy="1268.6" r="5.1"/><circle cx="1828.0" cy="1276.5" r="5.1"/><circle cx="1921.0" cy="1265.8" r="5.1"/><circle cx="1910.9" cy="1271.0" r="5.1"/><circle cx="1941.1" cy="1277.2" r="5.1"/><circle cx="1939.3" cy="1269.6" r="5.1"/><circle cx="1917.1" cy="1284.8" r="5.1"/><circle cx="1905.3" cy="1288.0" r="5.1"/><circle cx="1890.8" cy="1298.3" r="5.1"/><circle cx="1976.7" cy="1307.7" r="5.1"/><circle cx="1781.3" cy="1325.7" r="5.1"/><circle cx="1794.6" cy="1287.4" r="5.1"/><circle cx="1786.5" cy="1075.3" r="5.1"/><circle cx="1791.5" cy="1075.3" r="5.1"/><circle cx="1779.0" cy="1079.7" r="5.1"/><circle cx="1784.0" cy="1079.7" r="5.1"/><circle cx="1789.0" cy="1079.7" r="5.1"/><circle cx="1794.0" cy="1079.7" r="5.1"/><circle cx="1799.0" cy="1079.7" r="5.1"/><circle cx="1804.0" cy="1079.7" r="5.1"/><circle cx="1809.0" cy="1079.7" r="5.1"/><circle cx="1814.0" cy="1079.7" r="5.1"/><circle cx="1819.0" cy="1079.7" r="5.1"/><circle cx="1771.5" cy="1084.0" r="5.1"/><circle cx="1776.5" cy="1084.0" r="5.1"/><circle cx="1781.5" cy="1084.0" r="5.1"/><circle cx="1786.5" cy="1084.0" r="5.1"/><circle cx="1791.5" cy="1084.0" r="5.1"/><circle cx="1796.5" cy="1084.0" r="5.1"/><circle cx="1801.5" cy="1084.0" r="5.1"/><circle cx="1806.5" cy="1084.0" r="5.1"/><circle cx="1811.5" cy="1084.0" r="5.1"/><circle cx="1816.5" cy="1084.0" r="5.1"/><circle cx="1821.5" cy="1084.0" r="5.1"/><circle cx="1826.5" cy="1084.0" r="5.1"/><circle cx="1774.0" cy="1088.3" r="5.1"/><circle cx="1779.0" cy="1088.3" r="5.1"/><circle cx="1784.0" cy="1088.3" r="5.1"/><circle cx="1789.0" cy="1088.3" r="5.1"/><circle cx="1794.0" cy="1088.3" r="5.1"/><circle cx="1799.0" cy="1088.3" r="5.1"/><circle cx="1804.0" cy="1088.3" r="5.1"/><circle cx="1809.0" cy="1088.3" r="5.1"/><circle cx="1814.0" cy="1088.3" r="5.1"/><circle cx="1819.0" cy="1088.3" r="5.1"/><circle cx="1824.0" cy="1088.3" r="5.1"/><circle cx="1829.0" cy="1088.3" r="5.1"/><circle cx="1776.5" cy="1092.6" r="5.1"/><circle cx="1781.5" cy="1092.6" r="5.1"/><circle cx="1786.5" cy="1092.6" r="5.1"/><circle cx="1791.5" cy="1092.6" r="5.1"/><circle cx="1796.5" cy="1092.6" r="5.1"/><circle cx="1801.5" cy="1092.6" r="5.1"/><circle cx="1806.5" cy="1092.6" r="5.1"/><circle cx="1811.5" cy="1092.6" r="5.1"/><circle cx="1816.5" cy="1092.6" r="5.1"/><circle cx="1821.5" cy="1092.6" r="5.1"/><circle cx="1826.5" cy="1092.6" r="5.1"/><circle cx="1831.5" cy="1092.6" r="5.1"/><circle cx="1784.0" cy="1097.0" r="5.1"/><circle cx="1794.0" cy="1097.0" r="5.1"/><circle cx="1799.0" cy="1097.0" r="5.1"/><circle cx="1804.0" cy="1097.0" r="5.1"/><circle cx="1809.0" cy="1097.0" r="5.1"/><circle cx="1814.0" cy="1097.0" r="5.1"/><circle cx="1819.0" cy="1097.0" r="5.1"/><circle cx="1824.0" cy="1097.0" r="5.1"/><circle cx="1829.0" cy="1097.0" r="5.1"/><circle cx="1834.0" cy="1097.0" r="5.1"/><circle cx="1801.5" cy="1101.3" r="5.1"/><circle cx="1806.5" cy="1101.3" r="5.1"/><circle cx="1811.5" cy="1101.3" r="5.1"/><circle cx="1816.5" cy="1101.3" r="5.1"/><circle cx="1821.5" cy="1101.3" r="5.1"/><circle cx="1826.5" cy="1101.3" r="5.1"/><circle cx="1831.5" cy="1101.3" r="5.1"/><circle cx="1804.0" cy="1105.6" r="5.1"/><circle cx="1809.0" cy="1105.6" r="5.1"/><circle cx="1814.0" cy="1105.6" r="5.1"/><circle cx="1819.0" cy="1105.6" r="5.1"/><circle cx="1824.0" cy="1105.6" r="5.1"/><circle cx="1829.0" cy="1105.6" r="5.1"/><circle cx="1811.5" cy="1110.0" r="5.1"/><circle cx="1816.5" cy="1110.0" r="5.1"/><circle cx="1821.5" cy="1110.0" r="5.1"/></g><g fill="#11ee11"><circle cx="1987.0" cy="1196.6" r="4.9"/><circle cx="1974.2" cy="1204.5" r="4.9"/><circle cx="1931.7" cy="1247.4" r="4.9"/></g>
<ellipse cx="1954.9" cy="1217.6" rx="58.5" ry="8.5" transform="rotate(-69 1954.9 1217.6)" fill="none" stroke="#f00" stroke-width="6.3"/>
<path d="M1954.5 1204v28M1940 1217.6h30" stroke="#f00" stroke-width="5.5"/>
<ellipse cx="1962.9" cy="1193.4" rx="8" ry="6.5" transform="rotate(20 1962.9 1193.4)" fill="#000"/>
<path d="M1962.9 1181.6v26.3M1947.6 1193.4h30.5" stroke="#000" stroke-width="5.8"/>

<rect x="1533.4" y="821.6" width="520.9" height="518.0" fill="none" stroke="#333333" stroke-width="1.4"/>
<line x1="1533.4" y1="1210.1" x2="1539.4" y2="1210.1" stroke="#333333" stroke-width="1.4"/>
<line x1="2048.3" y1="1210.1" x2="2054.3" y2="1210.1" stroke="#333333" stroke-width="1.4"/>
<line x1="1533.4" y1="951.1" x2="1539.4" y2="951.1" stroke="#333333" stroke-width="1.4"/>
<line x1="2048.3" y1="951.1" x2="2054.3" y2="951.1" stroke="#333333" stroke-width="1.4"/>
<text x="1517.4" y="1356.7" text-anchor="end" class="tk">2</text>
<text x="1475.2" y="1356.7" class="tk">-</text>
<text x="1517.4" y="1227.2" text-anchor="end" class="tk">1</text>
<text x="1475.2" y="1227.2" class="tk">-</text>
<text x="1517.4" y="1097.7" text-anchor="end" class="tk">0</text>
<text x="1517.4" y="968.2" text-anchor="end" class="tk">1</text>
<text x="1517.4" y="838.7" text-anchor="end" class="tk">2</text>
<text x="1511.0" y="1397.6" class="tk">-</text>
<text x="1526.0" y="1397.6" class="tk">2</text>
<text x="1793.9" y="1397.6" text-anchor="middle" class="tk">0</text>
<text x="2054.3" y="1397.6" text-anchor="middle" class="tk">2</text>
<text x="1467.4" y="776.2" class="pl">f</text>
<text x="1534.9" y="819.5" class="ex">×</text>
<text x="1568.4" y="812.6" class="tk">10</text>
<text x="1617.4" y="791.4" class="sp">-7</text>
<text x="1939.3" y="1473.1" class="ex">×</text>
<text x="1973.3" y="1466.6" class="tk">10</text>
<text x="2021.3" y="1444.4" class="sp">-7</text>
<text x="1770.9" y="1457.4" class="lb">J</text>
<text x="1795.9" y="1479.1" class="sb">7</text>
<g transform="translate(1435.4,1080.6) rotate(-90)"><text x="-25.3" y="0" class="lb">J</text><text x="1" y="22" class="sb">9</text></g><g fill="#0072bd"><circle cx="144.9" cy="1568.6" r="5.1"/><circle cx="146.8" cy="1570.1" r="5.1"/><circle cx="148.7" cy="1569.9" r="5.1"/><circle cx="150.6" cy="1569.5" r="5.1"/><circle cx="152.6" cy="1569.2" r="5.1"/><circle cx="154.5" cy="1569.3" r="5.1"/><circle cx="156.4" cy="1570.8" r="5.1"/><circle cx="158.3" cy="1568.9" r="5.1"/><circle cx="160.2" cy="1569.1" r="5.1"/><circle cx="162.1" cy="1569.5" r="5.1"/><circle cx="164.0" cy="1570.2" r="5.1"/><circle cx="165.9" cy="1569.9" r="5.1"/><circle cx="167.8" cy="1568.9" r="5.1"/><circle cx="169.8" cy="1570.2" r="5.1"/><circle cx="171.7" cy="1571.1" r="5.1"/><circle cx="173.6" cy="1569.3" r="5.1"/><circle cx="175.5" cy="1570.1" r="5.1"/><circle cx="177.4" cy="1569.3" r="5.1"/><circle cx="179.3" cy="1569.6" r="5.1"/><circle cx="181.2" cy="1569.1" r="5.1"/><circle cx="183.1" cy="1569.8" r="5.1"/><circle cx="185.1" cy="1569.5" r="5.1"/><circle cx="187.0" cy="1569.7" r="5.1"/><circle cx="188.9" cy="1569.3" r="5.1"/><circle cx="190.8" cy="1568.8" r="5.1"/><circle cx="192.7" cy="1569.1" r="5.1"/><circle cx="194.6" cy="1570.6" r="5.1"/><circle cx="196.5" cy="1568.6" r="5.1"/><circle cx="198.4" cy="1568.9" r="5.1"/><circle cx="200.3" cy="1569.3" r="5.1"/><circle cx="202.3" cy="1570.2" r="5.1"/><circle cx="204.2" cy="1569.8" r="5.1"/><circle cx="206.1" cy="1570.3" r="5.1"/><circle cx="208.0" cy="1569.3" r="5.1"/><circle cx="209.9" cy="1568.9" r="5.1"/><circle cx="211.8" cy="1569.5" r="5.1"/><circle cx="213.7" cy="1570.2" r="5.1"/><circle cx="215.6" cy="1570.1" r="5.1"/><circle cx="217.5" cy="1569.4" r="5.1"/><circle cx="219.5" cy="1569.8" r="5.1"/><circle cx="221.4" cy="1569.6" r="5.1"/><circle cx="223.3" cy="1570.1" r="5.1"/><circle cx="225.2" cy="1569.3" r="5.1"/><circle cx="227.1" cy="1568.9" r="5.1"/><circle cx="229.0" cy="1569.7" r="5.1"/><circle cx="230.9" cy="1569.9" r="5.1"/><circle cx="232.8" cy="1569.1" r="5.1"/><circle cx="234.7" cy="1570.6" r="5.1"/><circle cx="236.7" cy="1568.8" r="5.1"/><circle cx="238.6" cy="1568.8" r="5.1"/><circle cx="240.5" cy="1569.1" r="5.1"/><circle cx="242.4" cy="1568.8" r="5.1"/><circle cx="244.3" cy="1569.9" r="5.1"/><circle cx="246.2" cy="1569.5" r="5.1"/><circle cx="248.1" cy="1569.2" r="5.1"/><circle cx="250.0" cy="1570.0" r="5.1"/><circle cx="251.9" cy="1569.4" r="5.1"/><circle cx="253.9" cy="1570.2" r="5.1"/><circle cx="255.8" cy="1569.1" r="5.1"/><circle cx="257.7" cy="1568.9" r="5.1"/><circle cx="259.6" cy="1570.1" r="5.1"/><circle cx="261.5" cy="1568.7" r="5.1"/><circle cx="263.4" cy="1569.9" r="5.1"/><circle cx="265.3" cy="1568.6" r="5.1"/><circle cx="267.2" cy="1568.7" r="5.1"/><circle cx="269.2" cy="1569.9" r="5.1"/><circle cx="271.1" cy="1569.6" r="5.1"/><circle cx="273.0" cy="1569.0" r="5.1"/><circle cx="274.9" cy="1570.4" r="5.1"/><circle cx="276.8" cy="1569.1" r="5.1"/><circle cx="278.7" cy="1569.2" r="5.1"/><circle cx="280.6" cy="1569.4" r="5.1"/><circle cx="282.5" cy="1570.1" r="5.1"/><circle cx="284.4" cy="1568.6" r="5.1"/><circle cx="286.4" cy="1568.9" r="5.1"/><circle cx="288.3" cy="1569.6" r="5.1"/><circle cx="290.2" cy="1568.8" r="5.1"/><circle cx="292.1" cy="1569.7" r="5.1"/><circle cx="294.0" cy="1568.9" r="5.1"/><circle cx="295.9" cy="1568.7" r="5.1"/><circle cx="297.8" cy="1569.8" r="5.1"/><circle cx="299.7" cy="1570.5" r="5.1"/><circle cx="301.6" cy="1568.7" r="5.1"/><circle cx="303.6" cy="1569.0" r="5.1"/><circle cx="305.5" cy="1570.0" r="5.1"/><circle cx="307.4" cy="1569.2" r="5.1"/><circle cx="309.3" cy="1569.4" r="5.1"/><circle cx="311.2" cy="1570.4" r="5.1"/><circle cx="313.1" cy="1569.3" r="5.1"/><circle cx="315.0" cy="1570.1" r="5.1"/><circle cx="316.9" cy="1569.9" r="5.1"/><circle cx="318.8" cy="1568.8" r="5.1"/><circle cx="320.8" cy="1569.4" r="5.1"/><circle cx="322.7" cy="1569.8" r="5.1"/><circle cx="324.6" cy="1569.8" r="5.1"/><circle cx="326.5" cy="1569.8" r="5.1"/><circle cx="328.4" cy="1570.1" r="5.1"/><circle cx="330.3" cy="1568.8" r="5.1"/><circle cx="332.2" cy="1568.7" r="5.1"/><circle cx="334.1" cy="1569.4" r="5.1"/><circle cx="336.1" cy="1569.0" r="5.1"/><circle cx="338.0" cy="1570.1" r="5.1"/><circle cx="339.9" cy="1568.7" r="5.1"/><circle cx="341.8" cy="1570.1" r="5.1"/><circle cx="343.7" cy="1569.4" r="5.1"/><circle cx="345.6" cy="1570.0" r="5.1"/><circle cx="347.5" cy="1569.1" r="5.1"/><circle cx="349.4" cy="1569.5" r="5.1"/><circle cx="351.3" cy="1570.9" r="5.1"/><circle cx="353.3" cy="1570.1" r="5.1"/><circle cx="355.2" cy="1568.9" r="5.1"/><circle cx="357.1" cy="1569.6" r="5.1"/><circle cx="359.0" cy="1569.9" r="5.1"/><circle cx="360.9" cy="1568.7" r="5.1"/><circle cx="362.8" cy="1570.6" r="5.1"/><circle cx="364.7" cy="1569.3" r="5.1"/><circle cx="366.6" cy="1569.3" r="5.1"/><circle cx="368.5" cy="1570.1" r="5.1"/><circle cx="370.5" cy="1569.2" r="5.1"/><circle cx="372.4" cy="1570.2" r="5.1"/><circle cx="374.3" cy="1569.0" r="5.1"/><circle cx="376.2" cy="1571.0" r="5.1"/><circle cx="378.1" cy="1570.2" r="5.1"/><circle cx="380.0" cy="1568.8" r="5.1"/><circle cx="381.9" cy="1568.6" r="5.1"/><circle cx="383.8" cy="1569.8" r="5.1"/><circle cx="385.7" cy="1569.1" r="5.1"/><circle cx="387.7" cy="1568.9" r="5.1"/><circle cx="389.6" cy="1570.1" r="5.1"/><circle cx="391.5" cy="1569.0" r="5.1"/><circle cx="393.4" cy="1569.3" r="5.1"/><circle cx="395.3" cy="1569.9" r="5.1"/><circle cx="397.2" cy="1569.8" r="5.1"/><circle cx="399.1" cy="1568.6" r="5.1"/><circle cx="401.0" cy="1570.7" r="5.1"/><circle cx="403.0" cy="1569.9" r="5.1"/><circle cx="404.9" cy="1568.8" r="5.1"/><circle cx="406.8" cy="1569.9" r="5.1"/><circle cx="408.7" cy="1569.9" r="5.1"/><circle cx="410.6" cy="1568.9" r="5.1"/><circle cx="412.5" cy="1569.3" r="5.1"/><circle cx="414.4" cy="1569.8" r="5.1"/><circle cx="416.3" cy="1569.8" r="5.1"/><circle cx="418.2" cy="1570.0" r="5.1"/><circle cx="420.2" cy="1568.7" r="5.1"/><circle cx="422.1" cy="1569.8" r="5.1"/><circle cx="424.0" cy="1569.9" r="5.1"/><circle cx="425.9" cy="1570.1" r="5.1"/><circle cx="427.8" cy="1569.6" r="5.1"/><circle cx="429.7" cy="1570.6" r="5.1"/><circle cx="431.6" cy="1570.0" r="5.1"/><circle cx="433.5" cy="1569.8" r="5.1"/><circle cx="435.4" cy="1568.7" r="5.1"/><circle cx="437.4" cy="1569.7" r="5.1"/><circle cx="439.3" cy="1569.4" r="5.1"/><circle cx="441.2" cy="1570.0" r="5.1"/><circle cx="443.1" cy="1570.1" r="5.1"/><circle cx="445.0" cy="1569.4" r="5.1"/><circle cx="446.9" cy="1569.0" r="5.1"/><circle cx="448.8" cy="1569.1" r="5.1"/><circle cx="450.7" cy="1570.1" r="5.1"/><circle cx="452.6" cy="1569.5" r="5.1"/><circle cx="454.6" cy="1568.7" r="5.1"/><circle cx="456.5" cy="1569.4" r="5.1"/><circle cx="458.4" cy="1568.9" r="5.1"/><circle cx="460.3" cy="1570.5" r="5.1"/><circle cx="462.2" cy="1571.0" r="5.1"/><circle cx="464.1" cy="1569.8" r="5.1"/><circle cx="466.0" cy="1569.4" r="5.1"/><circle cx="467.9" cy="1569.7" r="5.1"/><circle cx="469.8" cy="1568.6" r="5.1"/><circle cx="471.8" cy="1569.8" r="5.1"/><circle cx="473.7" cy="1570.0" r="5.1"/><circle cx="475.6" cy="1569.9" r="5.1"/><circle cx="477.5" cy="1569.4" r="5.1"/><circle cx="479.4" cy="1569.6" r="5.1"/><circle cx="481.3" cy="1568.9" r="5.1"/><circle cx="483.2" cy="1569.2" r="5.1"/><circle cx="485.1" cy="1570.2" r="5.1"/><circle cx="487.1" cy="1570.4" r="5.1"/><circle cx="489.0" cy="1570.2" r="5.1"/><circle cx="490.9" cy="1569.3" r="5.1"/><circle cx="492.8" cy="1569.7" r="5.1"/><circle cx="494.7" cy="1569.9" r="5.1"/><circle cx="496.6" cy="1568.6" r="5.1"/><circle cx="498.5" cy="1568.7" r="5.1"/><circle cx="500.4" cy="1570.0" r="5.1"/><circle cx="502.3" cy="1569.8" r="5.1"/><circle cx="504.3" cy="1569.3" r="5.1"/><circle cx="506.2" cy="1568.8" r="5.1"/><circle cx="508.1" cy="1569.6" r="5.1"/><circle cx="510.0" cy="1568.9" r="5.1"/><circle cx="511.9" cy="1569.5" r="5.1"/><circle cx="513.8" cy="1570.0" r="5.1"/><circle cx="515.7" cy="1570.2" r="5.1"/><circle cx="517.6" cy="1569.6" r="5.1"/><circle cx="519.5" cy="1569.1" r="5.1"/><circle cx="521.5" cy="1569.9" r="5.1"/><circle cx="523.4" cy="1568.9" r="5.1"/><circle cx="525.3" cy="1569.3" r="5.1"/><circle cx="527.2" cy="1569.5" r="5.1"/><circle cx="529.1" cy="1568.9" r="5.1"/><circle cx="531.0" cy="1569.4" r="5.1"/><circle cx="532.9" cy="1569.2" r="5.1"/><circle cx="534.8" cy="1570.0" r="5.1"/><circle cx="536.7" cy="1569.6" r="5.1"/><circle cx="538.7" cy="1569.0" r="5.1"/><circle cx="540.6" cy="1570.0" r="5.1"/><circle cx="542.5" cy="1570.2" r="5.1"/><circle cx="544.4" cy="1569.3" r="5.1"/><circle cx="546.3" cy="1569.0" r="5.1"/><circle cx="548.2" cy="1570.1" r="5.1"/><circle cx="550.1" cy="1569.9" r="5.1"/><circle cx="552.0" cy="1571.1" r="5.1"/><circle cx="554.0" cy="1569.5" r="5.1"/><circle cx="555.9" cy="1570.2" r="5.1"/><circle cx="557.8" cy="1570.2" r="5.1"/><circle cx="559.7" cy="1568.8" r="5.1"/><circle cx="561.6" cy="1571.2" r="5.1"/><circle cx="563.5" cy="1569.2" r="5.1"/><circle cx="565.4" cy="1569.6" r="5.1"/><circle cx="567.3" cy="1569.4" r="5.1"/><circle cx="569.2" cy="1569.1" r="5.1"/><circle cx="571.2" cy="1569.8" r="5.1"/><circle cx="573.1" cy="1570.6" r="5.1"/><circle cx="575.0" cy="1569.4" r="5.1"/><circle cx="576.9" cy="1568.7" r="5.1"/><circle cx="578.8" cy="1569.4" r="5.1"/><circle cx="580.7" cy="1569.9" r="5.1"/><circle cx="582.6" cy="1570.4" r="5.1"/><circle cx="584.5" cy="1570.0" r="5.1"/><circle cx="586.4" cy="1569.5" r="5.1"/><circle cx="588.4" cy="1569.8" r="5.1"/><circle cx="590.3" cy="1569.2" r="5.1"/><circle cx="592.2" cy="1569.1" r="5.1"/><circle cx="594.1" cy="1569.6" r="5.1"/><circle cx="596.0" cy="1569.0" r="5.1"/><circle cx="597.9" cy="1570.5" r="5.1"/><circle cx="599.8" cy="1569.6" r="5.1"/><circle cx="601.7" cy="1569.2" r="5.1"/><circle cx="603.6" cy="1570.9" r="5.1"/><circle cx="605.6" cy="1569.7" r="5.1"/><circle cx="607.5" cy="1570.6" r="5.1"/><circle cx="609.4" cy="1568.8" r="5.1"/><circle cx="611.3" cy="1569.2" r="5.1"/><circle cx="613.2" cy="1570.4" r="5.1"/><circle cx="615.1" cy="1569.8" r="5.1"/><circle cx="617.0" cy="1570.1" r="5.1"/><circle cx="618.9" cy="1569.5" r="5.1"/><circle cx="620.9" cy="1569.5" r="5.1"/><circle cx="622.8" cy="1569.8" r="5.1"/><circle cx="624.7" cy="1570.3" r="5.1"/><circle cx="626.6" cy="1569.6" r="5.1"/><circle cx="628.5" cy="1568.7" r="5.1"/><circle cx="630.4" cy="1570.2" r="5.1"/><circle cx="632.3" cy="1570.1" r="5.1"/><circle cx="634.2" cy="1570.0" r="5.1"/><circle cx="636.1" cy="1569.2" r="5.1"/><circle cx="638.1" cy="1568.9" r="5.1"/><circle cx="640.0" cy="1570.3" r="5.1"/><circle cx="641.9" cy="1569.6" r="5.1"/><circle cx="643.8" cy="1568.6" r="5.1"/><circle cx="645.7" cy="1570.8" r="5.1"/><circle cx="647.6" cy="1570.2" r="5.1"/><circle cx="649.5" cy="1570.1" r="5.1"/><circle cx="651.4" cy="1569.4" r="5.1"/><circle cx="653.3" cy="1568.6" r="5.1"/><circle cx="655.3" cy="1569.0" r="5.1"/><circle cx="657.2" cy="1570.8" r="5.1"/><circle cx="659.1" cy="1570.8" r="5.1"/><circle cx="661.0" cy="1569.2" r="5.1"/><circle cx="662.9" cy="1569.0" r="5.1"/><circle cx="664.8" cy="1570.7" r="5.1"/><circle cx="666.7" cy="1569.0" r="5.1"/><circle cx="668.6" cy="1569.4" r="5.1"/><circle cx="670.5" cy="1569.4" r="5.1"/><circle cx="672.5" cy="1569.3" r="5.1"/><circle cx="674.4" cy="1569.9" r="5.1"/><circle cx="676.3" cy="1569.3" r="5.1"/><circle cx="678.2" cy="1569.0" r="5.1"/><circle cx="680.1" cy="1569.2" r="5.1"/><circle cx="682.0" cy="1568.8" r="5.1"/><circle cx="683.9" cy="1569.2" r="5.1"/><circle cx="685.8" cy="1569.0" r="5.1"/><circle cx="687.7" cy="1570.4" r="5.1"/><circle cx="689.7" cy="1571.2" r="5.1"/><circle cx="691.6" cy="1569.5" r="5.1"/><circle cx="693.5" cy="1569.1" r="5.1"/><circle cx="695.4" cy="1569.0" r="5.1"/><circle cx="697.3" cy="1569.2" r="5.1"/><circle cx="699.2" cy="1569.7" r="5.1"/><circle cx="701.1" cy="1569.4" r="5.1"/><circle cx="703.0" cy="1571.2" r="5.1"/><circle cx="705.0" cy="1569.8" r="5.1"/><circle cx="706.9" cy="1569.5" r="5.1"/><circle cx="708.8" cy="1569.1" r="5.1"/><circle cx="710.7" cy="1571.4" r="5.1"/><circle cx="712.6" cy="1568.6" r="5.1"/><circle cx="714.5" cy="1569.1" r="5.1"/><circle cx="716.4" cy="1570.0" r="5.1"/><circle cx="718.3" cy="1568.9" r="5.1"/><circle cx="720.2" cy="1569.1" r="5.1"/><circle cx="722.2" cy="1570.0" r="5.1"/><circle cx="724.1" cy="1569.3" r="5.1"/><circle cx="726.0" cy="1569.5" r="5.1"/><circle cx="727.9" cy="1569.7" r="5.1"/><circle cx="729.8" cy="1570.2" r="5.1"/><circle cx="731.7" cy="1569.1" r="5.1"/><circle cx="733.6" cy="1571.0" r="5.1"/><circle cx="735.5" cy="1570.1" r="5.1"/><circle cx="737.4" cy="1569.3" r="5.1"/><circle cx="739.4" cy="1569.6" r="5.1"/><circle cx="741.3" cy="1569.3" r="5.1"/><circle cx="743.2" cy="1569.2" r="5.1"/><circle cx="745.1" cy="1570.8" r="5.1"/><circle cx="747.0" cy="1570.1" r="5.1"/><circle cx="748.9" cy="1568.8" r="5.1"/><circle cx="750.8" cy="1568.8" r="5.1"/><circle cx="752.7" cy="1570.0" r="5.1"/><circle cx="754.6" cy="1571.3" r="5.1"/><circle cx="756.6" cy="1571.1" r="5.1"/><circle cx="758.5" cy="1571.3" r="5.1"/><circle cx="760.4" cy="1569.8" r="5.1"/><circle cx="762.3" cy="1569.2" r="5.1"/><circle cx="764.2" cy="1569.6" r="5.1"/><circle cx="766.1" cy="1569.1" r="5.1"/><circle cx="768.0" cy="1569.7" r="5.1"/><circle cx="769.9" cy="1569.8" r="5.1"/><circle cx="771.9" cy="1569.6" r="5.1"/><circle cx="773.8" cy="1569.9" r="5.1"/><circle cx="775.7" cy="1570.0" r="5.1"/><circle cx="777.6" cy="1569.2" r="5.1"/><circle cx="779.5" cy="1569.8" r="5.1"/><circle cx="781.4" cy="1570.0" r="5.1"/><circle cx="783.3" cy="1569.1" r="5.1"/><circle cx="785.2" cy="1570.1" r="5.1"/><circle cx="787.1" cy="1570.3" r="5.1"/><circle cx="789.1" cy="1570.2" r="5.1"/><circle cx="791.0" cy="1569.5" r="5.1"/><circle cx="792.9" cy="1570.0" r="5.1"/><circle cx="794.8" cy="1570.0" r="5.1"/><circle cx="796.7" cy="1569.7" r="5.1"/><circle cx="798.6" cy="1569.1" r="5.1"/><circle cx="800.5" cy="1569.9" r="5.1"/><circle cx="802.4" cy="1570.5" r="5.1"/><circle cx="804.3" cy="1569.4" r="5.1"/><circle cx="806.3" cy="1569.5" r="5.1"/><circle cx="808.2" cy="1568.9" r="5.1"/><circle cx="810.1" cy="1569.0" r="5.1"/><circle cx="812.0" cy="1569.6" r="5.1"/><circle cx="813.9" cy="1569.7" r="5.1"/><circle cx="815.8" cy="1569.3" r="5.1"/><circle cx="817.7" cy="1569.9" r="5.1"/><circle cx="819.6" cy="1569.2" r="5.1"/><circle cx="821.5" cy="1570.4" r="5.1"/><circle cx="823.5" cy="1569.3" r="5.1"/><circle cx="825.4" cy="1570.0" r="5.1"/><circle cx="827.3" cy="1569.8" r="5.1"/><circle cx="829.2" cy="1568.9" r="5.1"/><circle cx="831.1" cy="1569.2" r="5.1"/><circle cx="833.0" cy="1569.2" r="5.1"/><circle cx="834.9" cy="1570.0" r="5.1"/><circle cx="836.8" cy="1569.4" r="5.1"/><circle cx="838.7" cy="1568.8" r="5.1"/><circle cx="840.7" cy="1569.9" r="5.1"/><circle cx="842.6" cy="1568.8" r="5.1"/><circle cx="844.5" cy="1569.4" r="5.1"/><circle cx="846.4" cy="1568.8" r="5.1"/><circle cx="848.3" cy="1570.0" r="5.1"/><circle cx="850.2" cy="1569.8" r="5.1"/><circle cx="852.1" cy="1571.3" r="5.1"/><circle cx="854.0" cy="1570.4" r="5.1"/><circle cx="856.0" cy="1570.0" r="5.1"/><circle cx="857.9" cy="1569.6" r="5.1"/><circle cx="859.8" cy="1570.3" r="5.1"/><circle cx="861.7" cy="1570.1" r="5.1"/><circle cx="863.6" cy="1569.3" r="5.1"/><circle cx="865.5" cy="1569.3" r="5.1"/><circle cx="867.4" cy="1570.0" r="5.1"/><circle cx="869.3" cy="1569.4" r="5.1"/><circle cx="871.2" cy="1570.1" r="5.1"/><circle cx="873.2" cy="1568.6" r="5.1"/><circle cx="875.1" cy="1568.7" r="5.1"/><circle cx="877.0" cy="1569.1" r="5.1"/><circle cx="878.9" cy="1568.8" r="5.1"/><circle cx="880.8" cy="1569.9" r="5.1"/><circle cx="882.7" cy="1570.3" r="5.1"/><circle cx="884.6" cy="1570.2" r="5.1"/><circle cx="886.5" cy="1570.8" r="5.1"/><circle cx="888.4" cy="1569.9" r="5.1"/><circle cx="890.4" cy="1569.5" r="5.1"/><circle cx="892.3" cy="1570.1" r="5.1"/><circle cx="894.2" cy="1570.2" r="5.1"/><circle cx="896.1" cy="1568.9" r="5.1"/><circle cx="898.0" cy="1570.2" r="5.1"/><circle cx="899.9" cy="1568.9" r="5.1"/><circle cx="901.8" cy="1569.6" r="5.1"/><circle cx="903.7" cy="1569.5" r="5.1"/><circle cx="905.6" cy="1569.9" r="5.1"/><circle cx="907.6" cy="1571.0" r="5.1"/><circle cx="909.5" cy="1568.8" r="5.1"/><circle cx="911.4" cy="1569.8" r="5.1"/><circle cx="913.3" cy="1569.5" r="5.1"/><circle cx="915.2" cy="1569.6" r="5.1"/><circle cx="917.1" cy="1569.3" r="5.1"/><circle cx="919.0" cy="1569.5" r="5.1"/><circle cx="920.9" cy="1568.6" r="5.1"/><circle cx="922.9" cy="1571.0" r="5.1"/><circle cx="924.8" cy="1571.2" r="5.1"/><circle cx="926.7" cy="1569.3" r="5.1"/><circle cx="928.6" cy="1569.2" r="5.1"/><circle cx="930.5" cy="1568.9" r="5.1"/><circle cx="932.4" cy="1569.8" r="5.1"/><circle cx="934.3" cy="1570.0" r="5.1"/><circle cx="936.2" cy="1569.1" r="5.1"/><circle cx="938.1" cy="1570.8" r="5.1"/><circle cx="940.1" cy="1570.0" r="5.1"/><circle cx="942.0" cy="1569.8" r="5.1"/><circle cx="943.9" cy="1569.4" r="5.1"/><circle cx="945.8" cy="1569.6" r="5.1"/><circle cx="947.7" cy="1569.2" r="5.1"/><circle cx="949.6" cy="1569.2" r="5.1"/><circle cx="951.5" cy="1569.1" r="5.1"/><circle cx="953.4" cy="1569.8" r="5.1"/><circle cx="955.3" cy="1568.7" r="5.1"/><circle cx="957.3" cy="1569.1" r="5.1"/><circle cx="959.2" cy="1569.6" r="5.1"/><circle cx="961.1" cy="1570.0" r="5.1"/><circle cx="963.0" cy="1570.2" r="5.1"/><circle cx="964.9" cy="1569.9" r="5.1"/><circle cx="966.8" cy="1571.1" r="5.1"/><circle cx="968.7" cy="1568.7" r="5.1"/><circle cx="970.6" cy="1570.0" r="5.1"/><circle cx="972.5" cy="1569.0" r="5.1"/><circle cx="974.5" cy="1569.8" r="5.1"/><circle cx="976.4" cy="1568.7" r="5.1"/><circle cx="978.3" cy="1569.5" r="5.1"/><circle cx="980.2" cy="1569.6" r="5.1"/><circle cx="982.1" cy="1569.8" r="5.1"/><circle cx="984.0" cy="1569.7" r="5.1"/><circle cx="985.9" cy="1569.0" r="5.1"/><circle cx="987.8" cy="1570.1" r="5.1"/><circle cx="989.8" cy="1568.6" r="5.1"/><circle cx="991.7" cy="1570.0" r="5.1"/><circle cx="993.6" cy="1569.8" r="5.1"/><circle cx="995.5" cy="1570.2" r="5.1"/><circle cx="997.4" cy="1569.9" r="5.1"/><circle cx="999.3" cy="1569.8" r="5.1"/><circle cx="1001.2" cy="1569.3" r="5.1"/><circle cx="1003.1" cy="1569.9" r="5.1"/><circle cx="1005.0" cy="1569.7" r="5.1"/><circle cx="1007.0" cy="1569.5" r="5.1"/><circle cx="1008.9" cy="1571.0" r="5.1"/><circle cx="1010.8" cy="1569.7" r="5.1"/><circle cx="1012.7" cy="1570.9" r="5.1"/><circle cx="1014.6" cy="1570.6" r="5.1"/><circle cx="1016.5" cy="1569.0" r="5.1"/><circle cx="1018.4" cy="1569.5" r="5.1"/><circle cx="1020.3" cy="1569.2" r="5.1"/><circle cx="1022.2" cy="1568.8" r="5.1"/><circle cx="1024.2" cy="1569.1" r="5.1"/><circle cx="1026.1" cy="1570.1" r="5.1"/><circle cx="1028.0" cy="1569.3" r="5.1"/><circle cx="1029.9" cy="1570.8" r="5.1"/><circle cx="1031.8" cy="1570.1" r="5.1"/><circle cx="1033.7" cy="1569.1" r="5.1"/><circle cx="1035.6" cy="1570.0" r="5.1"/><circle cx="1037.5" cy="1568.6" r="5.1"/><circle cx="1039.4" cy="1569.3" r="5.1"/><circle cx="1041.4" cy="1570.9" r="5.1"/><circle cx="1043.3" cy="1569.7" r="5.1"/><circle cx="1045.2" cy="1571.1" r="5.1"/><circle cx="1047.1" cy="1571.2" r="5.1"/><circle cx="1049.0" cy="1569.9" r="5.1"/><circle cx="1050.9" cy="1569.4" r="5.1"/><circle cx="1052.8" cy="1570.0" r="5.1"/><circle cx="1054.7" cy="1570.7" r="5.1"/><circle cx="1056.6" cy="1569.7" r="5.1"/><circle cx="1058.6" cy="1570.2" r="5.1"/><circle cx="1060.5" cy="1569.4" r="5.1"/><circle cx="1062.4" cy="1569.7" r="5.1"/><circle cx="1064.3" cy="1569.9" r="5.1"/><circle cx="1066.2" cy="1568.7" r="5.1"/><circle cx="1068.1" cy="1569.4" r="5.1"/><circle cx="1070.0" cy="1570.0" r="5.1"/><circle cx="1071.9" cy="1571.0" r="5.1"/><circle cx="1073.9" cy="1569.9" r="5.1"/><circle cx="1075.8" cy="1569.1" r="5.1"/><circle cx="1077.7" cy="1569.4" r="5.1"/><circle cx="1079.6" cy="1570.1" r="5.1"/><circle cx="1081.5" cy="1569.9" r="5.1"/><circle cx="1083.4" cy="1568.9" r="5.1"/><circle cx="1085.3" cy="1569.4" r="5.1"/><circle cx="1087.2" cy="1569.6" r="5.1"/><circle cx="1089.1" cy="1570.1" r="5.1"/><circle cx="1091.1" cy="1569.3" r="5.1"/><circle cx="1093.0" cy="1570.2" r="5.1"/><circle cx="1094.9" cy="1569.5" r="5.1"/><circle cx="1096.8" cy="1569.1" r="5.1"/><circle cx="1098.7" cy="1570.2" r="5.1"/><circle cx="1100.6" cy="1569.6" r="5.1"/><circle cx="1102.5" cy="1570.7" r="5.1"/><circle cx="1104.4" cy="1570.6" r="5.1"/><circle cx="1106.3" cy="1569.0" r="5.1"/><circle cx="1108.3" cy="1569.1" r="5.1"/><circle cx="1110.2" cy="1568.9" r="5.1"/><circle cx="1112.1" cy="1569.9" r="5.1"/><circle cx="1114.0" cy="1571.1" r="5.1"/><circle cx="1115.9" cy="1570.2" r="5.1"/><circle cx="1117.8" cy="1569.2" r="5.1"/><circle cx="1119.7" cy="1570.1" r="5.1"/><circle cx="1121.6" cy="1569.6" r="5.1"/><circle cx="1123.5" cy="1569.4" r="5.1"/><circle cx="1125.5" cy="1570.0" r="5.1"/><circle cx="1127.4" cy="1571.2" r="5.1"/><circle cx="1129.3" cy="1569.2" r="5.1"/><circle cx="1131.2" cy="1569.4" r="5.1"/><circle cx="1133.1" cy="1568.8" r="5.1"/><circle cx="1135.0" cy="1569.0" r="5.1"/><circle cx="1136.9" cy="1568.7" r="5.1"/><circle cx="1138.8" cy="1569.3" r="5.1"/><circle cx="1140.8" cy="1570.0" r="5.1"/><circle cx="1142.7" cy="1569.2" r="5.1"/><circle cx="1144.6" cy="1569.4" r="5.1"/><circle cx="1146.5" cy="1569.8" r="5.1"/><circle cx="1148.4" cy="1569.1" r="5.1"/><circle cx="1150.3" cy="1569.3" r="5.1"/><circle cx="1152.2" cy="1569.7" r="5.1"/><circle cx="1154.1" cy="1568.7" r="5.1"/><circle cx="1156.0" cy="1570.1" r="5.1"/><circle cx="1158.0" cy="1569.1" r="5.1"/><circle cx="1159.9" cy="1570.1" r="5.1"/><circle cx="1161.8" cy="1568.7" r="5.1"/><circle cx="1163.7" cy="1568.7" r="5.1"/><circle cx="1165.6" cy="1569.7" r="5.1"/><circle cx="1167.5" cy="1570.2" r="5.1"/><circle cx="1169.4" cy="1569.2" r="5.1"/><circle cx="1171.3" cy="1570.8" r="5.1"/><circle cx="1173.2" cy="1569.1" r="5.1"/><circle cx="1175.2" cy="1568.7" r="5.1"/><circle cx="1177.1" cy="1569.2" r="5.1"/><circle cx="1179.0" cy="1569.1" r="5.1"/><circle cx="1180.9" cy="1569.9" r="5.1"/><circle cx="1182.8" cy="1568.6" r="5.1"/><circle cx="1184.7" cy="1569.7" r="5.1"/><circle cx="1186.6" cy="1569.8" r="5.1"/><circle cx="1188.5" cy="1569.1" r="5.1"/><circle cx="1190.4" cy="1569.2" r="5.1"/><circle cx="1192.4" cy="1569.9" r="5.1"/><circle cx="1194.3" cy="1569.0" r="5.1"/><circle cx="1196.2" cy="1569.5" r="5.1"/><circle cx="1198.1" cy="1570.2" r="5.1"/><circle cx="1200.0" cy="1571.2" r="5.1"/><circle cx="1201.9" cy="1569.5" r="5.1"/><circle cx="1203.8" cy="1568.6" r="5.1"/><circle cx="1205.7" cy="1569.5" r="5.1"/><circle cx="1207.6" cy="1570.8" r="5.1"/><circle cx="1209.6" cy="1569.3" r="5.1"/><circle cx="1211.5" cy="1569.6" r="5.1"/><circle cx="1213.4" cy="1570.0" r="5.1"/><circle cx="1215.3" cy="1570.2" r="5.1"/><circle cx="1217.2" cy="1569.1" r="5.1"/><circle cx="1219.1" cy="1569.2" r="5.1"/><circle cx="1221.0" cy="1570.0" r="5.1"/><circle cx="1222.9" cy="1571.2" r="5.1"/><circle cx="1224.9" cy="1568.9" r="5.1"/><circle cx="1226.8" cy="1570.2" r="5.1"/><circle cx="1228.7" cy="1570.5" r="5.1"/><circle cx="1230.6" cy="1568.8" r="5.1"/><circle cx="1232.5" cy="1569.0" r="5.1"/><circle cx="1234.4" cy="1568.7" r="5.1"/><circle cx="1236.3" cy="1570.1" r="5.1"/><circle cx="1238.2" cy="1569.2" r="5.1"/><circle cx="1240.1" cy="1569.1" r="5.1"/><circle cx="1242.1" cy="1569.6" r="5.1"/><circle cx="1244.0" cy="1569.4" r="5.1"/><circle cx="1245.9" cy="1569.3" r="5.1"/><circle cx="1247.8" cy="1571.0" r="5.1"/><circle cx="1249.7" cy="1568.8" r="5.1"/><circle cx="1251.6" cy="1569.7" r="5.1"/><circle cx="1253.5" cy="1569.2" r="5.1"/><circle cx="1255.4" cy="1570.4" r="5.1"/><circle cx="1257.3" cy="1569.3" r="5.1"/><circle cx="1259.3" cy="1568.8" r="5.1"/><circle cx="1261.2" cy="1569.0" r="5.1"/><circle cx="1263.1" cy="1569.2" r="5.1"/><circle cx="1265.0" cy="1571.3" r="5.1"/><circle cx="1266.9" cy="1569.1" r="5.1"/><circle cx="1268.8" cy="1569.7" r="5.1"/><circle cx="1270.7" cy="1570.2" r="5.1"/><circle cx="1272.6" cy="1569.9" r="5.1"/><circle cx="1274.5" cy="1570.6" r="5.1"/><circle cx="1276.5" cy="1569.0" r="5.1"/><circle cx="1278.4" cy="1569.8" r="5.1"/><circle cx="1280.3" cy="1569.9" r="5.1"/><circle cx="1282.2" cy="1570.1" r="5.1"/><circle cx="1284.1" cy="1571.1" r="5.1"/><circle cx="1286.0" cy="1570.0" r="5.1"/><circle cx="1287.9" cy="1569.2" r="5.1"/><circle cx="1289.8" cy="1569.0" r="5.1"/><circle cx="1291.8" cy="1569.7" r="5.1"/><circle cx="1293.7" cy="1569.3" r="5.1"/><circle cx="1295.6" cy="1569.3" r="5.1"/><circle cx="1297.5" cy="1570.1" r="5.1"/><circle cx="1299.4" cy="1569.1" r="5.1"/><circle cx="1301.3" cy="1570.5" r="5.1"/><circle cx="1303.2" cy="1570.4" r="5.1"/><circle cx="1305.1" cy="1569.0" r="5.1"/><circle cx="1307.0" cy="1569.6" r="5.1"/><circle cx="1309.0" cy="1569.5" r="5.1"/><circle cx="1310.9" cy="1568.9" r="5.1"/><circle cx="1312.8" cy="1570.1" r="5.1"/><circle cx="1314.7" cy="1569.9" r="5.1"/><circle cx="1316.6" cy="1569.7" r="5.1"/><circle cx="1318.5" cy="1569.0" r="5.1"/><circle cx="1320.4" cy="1569.4" r="5.1"/><circle cx="1322.3" cy="1569.4" r="5.1"/><circle cx="1324.2" cy="1570.7" r="5.1"/><circle cx="1326.2" cy="1569.3" r="5.1"/><circle cx="1328.1" cy="1568.6" r="5.1"/><circle cx="1330.0" cy="1568.7" r="5.1"/><circle cx="1331.9" cy="1568.7" r="5.1"/><circle cx="1333.8" cy="1569.4" r="5.1"/><circle cx="1335.7" cy="1568.7" r="5.1"/><circle cx="1337.6" cy="1569.1" r="5.1"/><circle cx="1339.5" cy="1568.9" r="5.1"/><circle cx="1341.4" cy="1570.1" r="5.1"/><circle cx="1343.4" cy="1568.8" r="5.1"/><circle cx="1345.3" cy="1570.0" r="5.1"/><circle cx="1347.2" cy="1569.9" r="5.1"/><circle cx="1349.1" cy="1569.7" r="5.1"/><circle cx="1351.0" cy="1569.9" r="5.1"/><circle cx="1352.9" cy="1570.2" r="5.1"/><circle cx="1354.8" cy="1570.2" r="5.1"/><circle cx="1356.7" cy="1569.5" r="5.1"/><circle cx="1358.7" cy="1568.9" r="5.1"/><circle cx="1360.6" cy="1569.8" r="5.1"/><circle cx="1362.5" cy="1568.7" r="5.1"/><circle cx="1364.4" cy="1569.1" r="5.1"/><circle cx="1366.3" cy="1569.9" r="5.1"/><circle cx="1368.2" cy="1569.0" r="5.1"/><circle cx="1370.1" cy="1570.0" r="5.1"/><circle cx="1372.0" cy="1569.8" r="5.1"/><circle cx="1373.9" cy="1569.3" r="5.1"/><circle cx="1375.9" cy="1569.3" r="5.1"/><circle cx="1377.8" cy="1569.6" r="5.1"/><circle cx="1379.7" cy="1569.1" r="5.1"/><circle cx="1381.6" cy="1569.8" r="5.1"/><circle cx="1383.5" cy="1570.6" r="5.1"/><circle cx="1385.4" cy="1570.7" r="5.1"/><circle cx="1387.3" cy="1569.7" r="5.1"/><circle cx="1389.2" cy="1569.9" r="5.1"/><circle cx="1391.1" cy="1569.8" r="5.1"/><circle cx="1393.1" cy="1569.3" r="5.1"/><circle cx="1395.0" cy="1570.1" r="5.1"/><circle cx="1396.9" cy="1569.7" r="5.1"/><circle cx="1398.8" cy="1569.3" r="5.1"/><circle cx="1400.7" cy="1569.4" r="5.1"/><circle cx="1402.6" cy="1570.0" r="5.1"/><circle cx="1404.5" cy="1570.1" r="5.1"/><circle cx="1406.4" cy="1571.0" r="5.1"/><circle cx="1408.3" cy="1569.7" r="5.1"/><circle cx="1410.3" cy="1569.0" r="5.1"/><circle cx="1412.2" cy="1568.9" r="5.1"/><circle cx="1414.1" cy="1569.7" r="5.1"/><circle cx="1416.0" cy="1569.1" r="5.1"/><circle cx="1417.9" cy="1569.5" r="5.1"/><circle cx="1419.8" cy="1569.9" r="5.1"/><circle cx="1421.7" cy="1569.5" r="5.1"/><circle cx="1423.6" cy="1568.8" r="5.1"/><circle cx="1425.5" cy="1569.0" r="5.1"/><circle cx="1427.5" cy="1570.1" r="5.1"/><circle cx="1429.4" cy="1568.8" r="5.1"/><circle cx="1431.3" cy="1569.4" r="5.1"/><circle cx="1433.2" cy="1570.0" r="5.1"/><circle cx="1435.1" cy="1569.9" r="5.1"/><circle cx="1437.0" cy="1569.2" r="5.1"/><circle cx="1438.9" cy="1569.2" r="5.1"/><circle cx="1440.8" cy="1569.1" r="5.1"/><circle cx="1442.8" cy="1570.6" r="5.1"/><circle cx="1444.7" cy="1571.4" r="5.1"/><circle cx="1446.6" cy="1569.3" r="5.1"/><circle cx="1448.5" cy="1569.0" r="5.1"/><circle cx="1450.4" cy="1570.0" r="5.1"/><circle cx="1452.3" cy="1568.8" r="5.1"/><circle cx="1454.2" cy="1569.5" r="5.1"/><circle cx="1456.1" cy="1570.5" r="5.1"/><circle cx="1458.0" cy="1569.1" r="5.1"/><circle cx="1460.0" cy="1569.2" r="5.1"/><circle cx="1461.9" cy="1570.3" r="5.1"/><circle cx="1463.8" cy="1569.5" r="5.1"/><circle cx="1465.7" cy="1569.5" r="5.1"/><circle cx="1467.6" cy="1569.2" r="5.1"/><circle cx="1469.5" cy="1569.2" r="5.1"/><circle cx="1471.4" cy="1569.9" r="5.1"/><circle cx="1473.3" cy="1569.8" r="5.1"/><circle cx="1475.2" cy="1570.2" r="5.1"/><circle cx="1477.2" cy="1569.5" r="5.1"/><circle cx="1479.1" cy="1569.4" r="5.1"/><circle cx="1481.0" cy="1569.0" r="5.1"/><circle cx="1482.9" cy="1570.0" r="5.1"/><circle cx="1484.8" cy="1569.7" r="5.1"/><circle cx="1486.7" cy="1569.9" r="5.1"/><circle cx="1488.6" cy="1569.1" r="5.1"/><circle cx="1490.5" cy="1569.7" r="5.1"/><circle cx="1492.4" cy="1570.1" r="5.1"/><circle cx="1494.4" cy="1570.0" r="5.1"/><circle cx="1496.3" cy="1569.8" r="5.1"/><circle cx="1498.2" cy="1570.1" r="5.1"/><circle cx="1500.1" cy="1570.5" r="5.1"/><circle cx="1502.0" cy="1571.2" r="5.1"/><circle cx="1503.9" cy="1568.8" r="5.1"/><circle cx="1505.8" cy="1569.1" r="5.1"/><circle cx="1507.7" cy="1570.1" r="5.1"/><circle cx="1509.7" cy="1568.9" r="5.1"/><circle cx="1511.6" cy="1570.6" r="5.1"/><circle cx="1513.5" cy="1569.4" r="5.1"/><circle cx="1515.4" cy="1568.6" r="5.1"/><circle cx="1517.3" cy="1570.0" r="5.1"/><circle cx="1519.2" cy="1569.9" r="5.1"/><circle cx="1521.1" cy="1569.9" r="5.1"/><circle cx="1523.0" cy="1570.7" r="5.1"/><circle cx="1524.9" cy="1569.3" r="5.1"/><circle cx="1526.9" cy="1569.9" r="5.1"/><circle cx="1528.8" cy="1568.9" r="5.1"/><circle cx="1530.7" cy="1570.8" r="5.1"/><circle cx="1532.6" cy="1568.7" r="5.1"/><circle cx="1534.5" cy="1569.6" r="5.1"/><circle cx="1536.4" cy="1571.0" r="5.1"/><circle cx="1538.3" cy="1569.2" r="5.1"/><circle cx="1540.2" cy="1569.2" r="5.1"/><circle cx="1542.1" cy="1569.5" r="5.1"/><circle cx="1544.1" cy="1569.4" r="5.1"/><circle cx="1546.0" cy="1570.2" r="5.1"/><circle cx="1547.9" cy="1570.1" r="5.1"/><circle cx="1549.8" cy="1568.7" r="5.1"/><circle cx="1551.7" cy="1570.1" r="5.1"/><circle cx="1553.6" cy="1569.4" r="5.1"/><circle cx="1555.5" cy="1570.8" r="5.1"/><circle cx="1557.4" cy="1569.9" r="5.1"/><circle cx="1559.3" cy="1569.9" r="5.1"/><circle cx="1561.3" cy="1570.8" r="5.1"/><circle cx="1563.2" cy="1570.9" r="5.1"/><circle cx="1565.1" cy="1571.3" r="5.1"/><circle cx="1567.0" cy="1570.0" r="5.1"/><circle cx="1568.9" cy="1569.1" r="5.1"/><circle cx="1570.8" cy="1570.6" r="5.1"/><circle cx="1572.7" cy="1569.3" r="5.1"/><circle cx="1574.6" cy="1569.1" r="5.1"/><circle cx="1576.5" cy="1570.5" r="5.1"/><circle cx="1578.5" cy="1569.3" r="5.1"/><circle cx="1580.4" cy="1569.8" r="5.1"/><circle cx="1582.3" cy="1569.2" r="5.1"/><circle cx="1584.2" cy="1569.0" r="5.1"/><circle cx="1586.1" cy="1570.1" r="5.1"/><circle cx="1588.0" cy="1568.8" r="5.1"/><circle cx="1589.9" cy="1568.9" r="5.1"/><circle cx="1591.8" cy="1569.5" r="5.1"/><circle cx="1593.8" cy="1569.6" r="5.1"/><circle cx="1595.7" cy="1569.0" r="5.1"/><circle cx="1597.6" cy="1568.9" r="5.1"/><circle cx="1599.5" cy="1570.0" r="5.1"/><circle cx="1601.4" cy="1570.2" r="5.1"/><circle cx="1603.3" cy="1570.4" r="5.1"/><circle cx="1605.2" cy="1568.7" r="5.1"/><circle cx="1607.1" cy="1569.1" r="5.1"/><circle cx="1609.0" cy="1568.6" r="5.1"/><circle cx="1611.0" cy="1569.3" r="5.1"/><circle cx="1612.9" cy="1569.6" r="5.1"/><circle cx="1614.8" cy="1570.1" r="5.1"/><circle cx="1616.7" cy="1569.9" r="5.1"/><circle cx="1618.6" cy="1569.8" r="5.1"/><circle cx="1620.5" cy="1569.3" r="5.1"/><circle cx="1622.4" cy="1569.6" r="5.1"/><circle cx="1624.3" cy="1568.7" r="5.1"/><circle cx="1626.2" cy="1569.5" r="5.1"/><circle cx="1628.2" cy="1568.9" r="5.1"/><circle cx="1630.1" cy="1568.7" r="5.1"/><circle cx="1632.0" cy="1569.4" r="5.1"/><circle cx="1633.9" cy="1569.6" r="5.1"/><circle cx="1635.8" cy="1568.8" r="5.1"/><circle cx="1637.7" cy="1568.8" r="5.1"/><circle cx="1639.6" cy="1570.5" r="5.1"/><circle cx="1641.5" cy="1569.5" r="5.1"/><circle cx="1643.4" cy="1569.2" r="5.1"/><circle cx="1645.4" cy="1569.4" r="5.1"/><circle cx="1647.3" cy="1568.6" r="5.1"/><circle cx="1649.2" cy="1569.3" r="5.1"/><circle cx="1651.1" cy="1569.9" r="5.1"/><circle cx="1653.0" cy="1570.4" r="5.1"/><circle cx="1654.9" cy="1570.0" r="5.1"/><circle cx="1656.8" cy="1570.2" r="5.1"/><circle cx="1658.7" cy="1569.3" r="5.1"/><circle cx="1660.7" cy="1570.1" r="5.1"/><circle cx="1662.6" cy="1570.1" r="5.1"/><circle cx="1664.5" cy="1569.7" r="5.1"/><circle cx="1666.4" cy="1569.7" r="5.1"/><circle cx="1668.3" cy="1568.8" r="5.1"/><circle cx="1670.2" cy="1568.8" r="5.1"/><circle cx="1672.1" cy="1569.5" r="5.1"/><circle cx="1674.0" cy="1569.8" r="5.1"/><circle cx="1675.9" cy="1569.3" r="5.1"/><circle cx="1677.9" cy="1570.2" r="5.1"/><circle cx="1679.8" cy="1569.5" r="5.1"/><circle cx="1681.7" cy="1569.1" r="5.1"/><circle cx="1683.6" cy="1569.3" r="5.1"/><circle cx="1685.5" cy="1569.5" r="5.1"/><circle cx="1687.4" cy="1569.2" r="5.1"/><circle cx="1689.3" cy="1569.4" r="5.1"/><circle cx="1691.2" cy="1571.3" r="5.1"/><circle cx="1693.1" cy="1569.6" r="5.1"/><circle cx="1695.1" cy="1570.0" r="5.1"/><circle cx="1697.0" cy="1569.2" r="5.1"/><circle cx="1698.9" cy="1569.2" r="5.1"/><circle cx="1700.8" cy="1568.8" r="5.1"/><circle cx="1702.7" cy="1571.1" r="5.1"/><circle cx="1704.6" cy="1569.0" r="5.1"/><circle cx="1706.5" cy="1569.6" r="5.1"/><circle cx="1708.4" cy="1569.3" r="5.1"/><circle cx="1710.3" cy="1569.6" r="5.1"/><circle cx="1712.3" cy="1570.1" r="5.1"/><circle cx="1714.2" cy="1568.8" r="5.1"/><circle cx="1716.1" cy="1568.6" r="5.1"/><circle cx="1718.0" cy="1569.1" r="5.1"/><circle cx="1719.9" cy="1569.4" r="5.1"/><circle cx="1721.8" cy="1568.7" r="5.1"/><circle cx="1723.7" cy="1570.0" r="5.1"/><circle cx="1725.6" cy="1568.7" r="5.1"/><circle cx="1727.6" cy="1569.2" r="5.1"/><circle cx="1729.5" cy="1569.7" r="5.1"/><circle cx="1731.4" cy="1569.8" r="5.1"/><circle cx="1733.3" cy="1569.7" r="5.1"/><circle cx="1735.2" cy="1568.9" r="5.1"/><circle cx="1737.1" cy="1569.5" r="5.1"/><circle cx="1739.0" cy="1568.6" r="5.1"/><circle cx="1740.9" cy="1568.8" r="5.1"/><circle cx="1742.8" cy="1570.0" r="5.1"/><circle cx="1744.8" cy="1568.7" r="5.1"/><circle cx="1746.7" cy="1570.0" r="5.1"/><circle cx="1748.6" cy="1570.4" r="5.1"/><circle cx="1750.5" cy="1569.6" r="5.1"/><circle cx="1752.4" cy="1570.0" r="5.1"/><circle cx="1754.3" cy="1569.1" r="5.1"/><circle cx="1756.2" cy="1569.1" r="5.1"/><circle cx="1758.1" cy="1570.5" r="5.1"/><circle cx="1760.0" cy="1569.0" r="5.1"/><circle cx="1762.0" cy="1569.8" r="5.1"/><circle cx="1763.9" cy="1570.1" r="5.1"/><circle cx="1765.8" cy="1569.3" r="5.1"/><circle cx="1767.7" cy="1570.0" r="5.1"/><circle cx="1769.6" cy="1569.2" r="5.1"/><circle cx="1771.5" cy="1570.9" r="5.1"/><circle cx="1773.4" cy="1569.9" r="5.1"/><circle cx="1775.3" cy="1569.6" r="5.1"/><circle cx="1777.2" cy="1568.8" r="5.1"/><circle cx="1779.2" cy="1569.4" r="5.1"/><circle cx="1781.1" cy="1569.3" r="5.1"/><circle cx="1783.0" cy="1568.9" r="5.1"/><circle cx="1784.9" cy="1569.4" r="5.1"/><circle cx="1786.8" cy="1569.6" r="5.1"/><circle cx="1788.7" cy="1569.3" r="5.1"/><circle cx="1790.6" cy="1569.6" r="5.1"/><circle cx="1792.5" cy="1569.3" r="5.1"/><circle cx="1794.4" cy="1569.2" r="5.1"/><circle cx="1796.4" cy="1569.1" r="5.1"/><circle cx="1798.3" cy="1570.2" r="5.1"/><circle cx="1800.2" cy="1569.3" r="5.1"/><circle cx="1802.1" cy="1569.9" r="5.1"/><circle cx="1804.0" cy="1569.5" r="5.1"/><circle cx="1805.9" cy="1568.6" r="5.1"/><circle cx="1807.8" cy="1568.7" r="5.1"/><circle cx="1809.7" cy="1569.5" r="5.1"/><circle cx="1811.7" cy="1569.8" r="5.1"/><circle cx="1813.6" cy="1569.1" r="5.1"/><circle cx="1815.5" cy="1570.0" r="5.1"/><circle cx="1817.4" cy="1568.7" r="5.1"/><circle cx="1819.3" cy="1569.3" r="5.1"/><circle cx="1821.2" cy="1569.7" r="5.1"/><circle cx="1823.1" cy="1569.3" r="5.1"/><circle cx="1825.0" cy="1570.0" r="5.1"/><circle cx="1826.9" cy="1569.0" r="5.1"/><circle cx="1828.9" cy="1569.4" r="5.1"/><circle cx="1830.8" cy="1570.0" r="5.1"/><circle cx="1832.7" cy="1569.2" r="5.1"/><circle cx="1834.6" cy="1568.7" r="5.1"/><circle cx="1836.5" cy="1569.1" r="5.1"/><circle cx="1838.4" cy="1570.6" r="5.1"/><circle cx="1840.3" cy="1568.9" r="5.1"/><circle cx="1842.2" cy="1569.1" r="5.1"/><circle cx="1844.1" cy="1569.2" r="5.1"/><circle cx="1846.1" cy="1569.6" r="5.1"/><circle cx="1848.0" cy="1569.5" r="5.1"/><circle cx="1849.9" cy="1569.1" r="5.1"/><circle cx="1851.8" cy="1569.3" r="5.1"/><circle cx="1853.7" cy="1570.1" r="5.1"/><circle cx="1855.6" cy="1569.1" r="5.1"/><circle cx="1857.5" cy="1569.0" r="5.1"/><circle cx="1859.4" cy="1569.7" r="5.1"/><circle cx="1861.3" cy="1568.8" r="5.1"/><circle cx="1863.3" cy="1568.6" r="5.1"/><circle cx="1865.2" cy="1569.0" r="5.1"/><circle cx="1867.1" cy="1570.1" r="5.1"/><circle cx="1869.0" cy="1569.8" r="5.1"/><circle cx="1870.9" cy="1570.1" r="5.1"/><circle cx="1872.8" cy="1569.3" r="5.1"/><circle cx="1874.7" cy="1569.3" r="5.1"/><circle cx="1876.6" cy="1569.3" r="5.1"/><circle cx="1878.6" cy="1569.3" r="5.1"/><circle cx="1880.5" cy="1570.2" r="5.1"/><circle cx="1882.4" cy="1571.3" r="5.1"/><circle cx="1884.3" cy="1569.1" r="5.1"/><circle cx="1886.2" cy="1570.8" r="5.1"/><circle cx="1888.1" cy="1571.1" r="5.1"/><circle cx="1890.0" cy="1569.5" r="5.1"/><circle cx="1891.9" cy="1568.6" r="5.1"/><circle cx="1893.8" cy="1569.3" r="5.1"/><circle cx="1895.8" cy="1570.1" r="5.1"/><circle cx="1897.7" cy="1569.8" r="5.1"/><circle cx="1899.6" cy="1570.1" r="5.1"/><circle cx="1901.5" cy="1569.0" r="5.1"/><circle cx="1903.4" cy="1569.6" r="5.1"/><circle cx="1905.3" cy="1570.1" r="5.1"/><circle cx="1907.2" cy="1569.9" r="5.1"/><circle cx="1909.1" cy="1569.6" r="5.1"/><circle cx="1911.0" cy="1569.3" r="5.1"/><circle cx="1913.0" cy="1568.8" r="5.1"/><circle cx="1914.9" cy="1570.0" r="5.1"/><circle cx="1916.8" cy="1570.0" r="5.1"/><circle cx="1918.7" cy="1569.4" r="5.1"/><circle cx="1920.6" cy="1570.0" r="5.1"/><circle cx="1922.5" cy="1569.4" r="5.1"/><circle cx="1924.4" cy="1569.9" r="5.1"/><circle cx="1926.3" cy="1569.5" r="5.1"/><circle cx="1928.2" cy="1569.6" r="5.1"/><circle cx="1930.2" cy="1568.9" r="5.1"/><circle cx="1932.1" cy="1570.3" r="5.1"/><circle cx="1934.0" cy="1568.9" r="5.1"/><circle cx="1935.9" cy="1570.0" r="5.1"/><circle cx="1937.8" cy="1569.9" r="5.1"/><circle cx="1939.7" cy="1569.6" r="5.1"/><circle cx="1941.6" cy="1570.7" r="5.1"/><circle cx="1943.5" cy="1570.2" r="5.1"/><circle cx="1945.5" cy="1569.2" r="5.1"/><circle cx="1947.4" cy="1569.6" r="5.1"/><circle cx="1949.3" cy="1569.7" r="5.1"/><circle cx="1951.2" cy="1569.0" r="5.1"/><circle cx="1953.1" cy="1568.9" r="5.1"/><circle cx="1955.0" cy="1569.7" r="5.1"/><circle cx="1956.9" cy="1571.1" r="5.1"/><circle cx="1958.8" cy="1569.3" r="5.1"/><circle cx="1960.7" cy="1569.5" r="5.1"/><circle cx="1962.7" cy="1569.7" r="5.1"/><circle cx="1964.6" cy="1569.6" r="5.1"/><circle cx="1966.5" cy="1569.8" r="5.1"/><circle cx="1968.4" cy="1569.6" r="5.1"/><circle cx="1970.3" cy="1569.0" r="5.1"/><circle cx="1972.2" cy="1570.1" r="5.1"/><circle cx="1974.1" cy="1569.0" r="5.1"/><circle cx="1976.0" cy="1568.9" r="5.1"/><circle cx="1977.9" cy="1569.0" r="5.1"/><circle cx="1979.9" cy="1570.9" r="5.1"/><circle cx="1981.8" cy="1570.3" r="5.1"/><circle cx="1983.7" cy="1569.5" r="5.1"/><circle cx="1985.6" cy="1570.3" r="5.1"/><circle cx="1987.5" cy="1570.0" r="5.1"/><circle cx="1989.4" cy="1569.6" r="5.1"/><circle cx="1991.3" cy="1569.1" r="5.1"/><circle cx="1993.2" cy="1568.8" r="5.1"/><circle cx="1995.1" cy="1569.8" r="5.1"/><circle cx="1997.1" cy="1569.5" r="5.1"/><circle cx="1999.0" cy="1569.4" r="5.1"/><circle cx="2000.9" cy="1568.8" r="5.1"/><circle cx="2002.8" cy="1568.9" r="5.1"/><circle cx="2004.7" cy="1569.1" r="5.1"/><circle cx="2006.6" cy="1569.3" r="5.1"/><circle cx="2008.5" cy="1570.2" r="5.1"/><circle cx="2010.4" cy="1569.5" r="5.1"/><circle cx="2012.3" cy="1568.7" r="5.1"/><circle cx="2014.3" cy="1568.9" r="5.1"/><circle cx="2016.2" cy="1568.6" r="5.1"/><circle cx="2018.1" cy="1569.7" r="5.1"/><circle cx="2020.0" cy="1569.6" r="5.1"/><circle cx="2021.9" cy="1570.0" r="5.1"/><circle cx="2023.8" cy="1570.1" r="5.1"/><circle cx="2025.7" cy="1569.2" r="5.1"/><circle cx="2027.6" cy="1569.3" r="5.1"/><circle cx="2029.6" cy="1569.0" r="5.1"/><circle cx="2031.5" cy="1568.9" r="5.1"/><circle cx="2033.4" cy="1569.7" r="5.1"/><circle cx="2035.3" cy="1569.5" r="5.1"/><circle cx="2037.2" cy="1569.2" r="5.1"/><circle cx="2039.1" cy="1569.2" r="5.1"/><circle cx="2041.0" cy="1570.2" r="5.1"/><circle cx="2042.9" cy="1568.8" r="5.1"/><circle cx="2044.8" cy="1568.9" r="5.1"/><circle cx="2046.8" cy="1569.2" r="5.1"/><circle cx="2048.7" cy="1569.5" r="5.1"/><circle cx="2050.6" cy="1569.4" r="5.1"/><circle cx="2052.5" cy="1569.3" r="5.1"/><circle cx="2054.4" cy="1569.8" r="5.1"/><circle cx="172.9" cy="1581.5" r="5.1"/><circle cx="183.2" cy="1581.5" r="5.1"/><circle cx="186.0" cy="1576.5" r="5.1"/><circle cx="161.7" cy="1596.0" r="5.1"/><circle cx="197.7" cy="1599.6" r="5.1"/><circle cx="216.6" cy="1589.8" r="5.1"/><circle cx="220.8" cy="1584.0" r="5.1"/><circle cx="225.0" cy="1577.9" r="5.1"/><circle cx="247.3" cy="1591.2" r="5.1"/><circle cx="262.6" cy="1582.0" r="5.1"/><circle cx="273.2" cy="1579.3" r="5.1"/><circle cx="280.7" cy="1581.5" r="5.1"/><circle cx="282.1" cy="1597.4" r="5.1"/><circle cx="291.8" cy="1589.0" r="5.1"/><circle cx="296.0" cy="1586.2" r="5.1"/><circle cx="293.2" cy="1577.9" r="5.1"/><circle cx="311.9" cy="1572.3" r="5.1"/><circle cx="335.0" cy="1596.8" r="5.1"/><circle cx="339.2" cy="1582.0" r="5.1"/><circle cx="371.2" cy="1575.1" r="5.1"/><circle cx="375.4" cy="1587.1" r="5.1"/><circle cx="394.9" cy="1582.0" r="5.1"/><circle cx="403.3" cy="1591.8" r="5.1"/><circle cx="408.8" cy="1588.4" r="5.1"/><circle cx="418.0" cy="1580.6" r="5.1"/><circle cx="421.9" cy="1600.1" r="5.1"/><circle cx="432.5" cy="1586.2" r="5.1"/><circle cx="436.7" cy="1577.9" r="5.1"/><circle cx="443.7" cy="1594.0" r="5.1"/><circle cx="447.8" cy="1587.1" r="5.1"/><circle cx="446.4" cy="1604.3" r="5.1"/><circle cx="465.4" cy="1585.4" r="5.1"/><circle cx="471.0" cy="1606.6" r="5.1"/><circle cx="470.1" cy="1573.7" r="5.1"/><circle cx="482.7" cy="1576.5" r="5.1"/><circle cx="491.0" cy="1572.3" r="5.1"/><circle cx="496.6" cy="1604.9" r="5.1"/><circle cx="506.3" cy="1607.1" r="5.1"/><circle cx="517.5" cy="1584.3" r="5.1"/><circle cx="521.7" cy="1589.0" r="5.1"/><circle cx="524.4" cy="1600.1" r="5.1"/><circle cx="518.9" cy="1609.9" r="5.1"/><circle cx="531.4" cy="1580.6" r="5.1"/><circle cx="538.4" cy="1580.1" r="5.1"/><circle cx="536.1" cy="1610.7" r="5.1"/><circle cx="548.1" cy="1574.5" r="5.1"/><circle cx="555.1" cy="1597.4" r="5.1"/><circle cx="561.2" cy="1579.3" r="5.1"/><circle cx="587.7" cy="1600.7" r="5.1"/><circle cx="599.7" cy="1606.6" r="5.1"/><circle cx="608.0" cy="1577.9" r="5.1"/><circle cx="610.8" cy="1594.6" r="5.1"/><circle cx="616.4" cy="1591.8" r="5.1"/><circle cx="299.3" cy="1614.1" r="5.1"/><circle cx="320.5" cy="1613.5" r="5.1"/><circle cx="204.1" cy="1621.9" r="5.1"/><circle cx="232.5" cy="1625.8" r="5.1"/><circle cx="159.5" cy="1637.8" r="5.1"/><circle cx="169.3" cy="1630.8" r="5.1"/><circle cx="171.2" cy="1649.7" r="5.1"/><circle cx="177.1" cy="1646.1" r="5.1"/><circle cx="236.1" cy="1659.2" r="5.1"/><circle cx="312.7" cy="1663.7" r="5.1"/><circle cx="330.0" cy="1650.3" r="5.1"/><circle cx="332.2" cy="1670.6" r="5.1"/><circle cx="328.0" cy="1676.2" r="5.1"/><circle cx="360.1" cy="1665.6" r="5.1"/><circle cx="369.8" cy="1633.6" r="5.1"/><circle cx="377.6" cy="1671.2" r="5.1"/><circle cx="389.3" cy="1604.3" r="5.1"/><circle cx="391.3" cy="1662.0" r="5.1"/><circle cx="423.6" cy="1613.5" r="5.1"/><circle cx="435.3" cy="1609.1" r="5.1"/><circle cx="473.2" cy="1652.2" r="5.1"/><circle cx="479.0" cy="1671.7" r="5.1"/><circle cx="488.2" cy="1636.9" r="5.1"/><circle cx="499.9" cy="1634.4" r="5.1"/><circle cx="504.1" cy="1630.0" r="5.1"/><circle cx="591.9" cy="1617.7" r="5.1"/><circle cx="595.5" cy="1633.6" r="5.1"/><circle cx="604.7" cy="1646.1" r="5.1"/><circle cx="617.8" cy="1632.2" r="5.1"/><circle cx="586.3" cy="1685.9" r="5.1"/><circle cx="564.8" cy="1704.1" r="5.1"/><circle cx="145.6" cy="1727.5" r="5.1"/><circle cx="148.4" cy="1764.5" r="5.1"/><circle cx="179.0" cy="1751.1" r="5.1"/><circle cx="188.2" cy="1787.6" r="5.1"/><circle cx="253.4" cy="1737.5" r="5.1"/><circle cx="266.8" cy="1746.4" r="5.1"/><circle cx="276.5" cy="1728.9" r="5.1"/><circle cx="308.5" cy="1752.5" r="5.1"/><circle cx="326.1" cy="1738.9" r="5.1"/><circle cx="348.9" cy="1740.6" r="5.1"/><circle cx="379.6" cy="1726.9" r="5.1"/><circle cx="461.8" cy="1753.9" r="5.1"/><circle cx="498.0" cy="1770.9" r="5.1"/><circle cx="534.2" cy="1792.9" r="5.1"/><circle cx="572.4" cy="1776.2" r="5.1"/><circle cx="406.3" cy="1830.5" r="5.1"/><circle cx="459.8" cy="1853.1" r="5.1"/><circle cx="144.2" cy="1889.9" r="5.1"/><circle cx="635.7" cy="1594.6" r="5.1"/><circle cx="643.2" cy="1596.0" r="5.1"/><circle cx="653.8" cy="1584.8" r="5.1"/><circle cx="670.2" cy="1592.3" r="5.1"/><circle cx="687.8" cy="1591.2" r="5.1"/><circle cx="689.7" cy="1595.1" r="5.1"/><circle cx="696.9" cy="1609.3" r="5.1"/><circle cx="712.0" cy="1598.2" r="5.1"/><circle cx="721.7" cy="1601.5" r="5.1"/><circle cx="735.1" cy="1586.2" r="5.1"/><circle cx="746.8" cy="1582.0" r="5.1"/><circle cx="756.0" cy="1597.4" r="5.1"/><circle cx="761.0" cy="1591.8" r="5.1"/><circle cx="769.9" cy="1598.8" r="5.1"/><circle cx="775.0" cy="1601.0" r="5.1"/><circle cx="774.1" cy="1591.8" r="5.1"/><circle cx="777.7" cy="1587.1" r="5.1"/><circle cx="767.2" cy="1575.6" r="5.1"/><circle cx="790.6" cy="1591.8" r="5.1"/><circle cx="802.0" cy="1575.1" r="5.1"/><circle cx="811.7" cy="1580.6" r="5.1"/><circle cx="832.6" cy="1578.7" r="5.1"/><circle cx="838.2" cy="1591.2" r="5.1"/><circle cx="828.4" cy="1604.3" r="5.1"/><circle cx="854.9" cy="1575.6" r="5.1"/><circle cx="861.3" cy="1600.1" r="5.1"/><circle cx="876.4" cy="1607.1" r="5.1"/><circle cx="881.4" cy="1575.1" r="5.1"/><circle cx="888.3" cy="1585.7" r="5.1"/><circle cx="891.1" cy="1577.9" r="5.1"/><circle cx="908.7" cy="1575.6" r="5.1"/><circle cx="913.4" cy="1596.0" r="5.1"/><circle cx="920.9" cy="1584.3" r="5.1"/><circle cx="930.1" cy="1598.2" r="5.1"/><circle cx="939.3" cy="1609.9" r="5.1"/><circle cx="952.4" cy="1591.8" r="5.1"/><circle cx="957.1" cy="1584.8" r="5.1"/><circle cx="961.6" cy="1592.3" r="5.1"/><circle cx="963.6" cy="1574.2" r="5.1"/><circle cx="966.6" cy="1603.5" r="5.1"/><circle cx="973.3" cy="1572.3" r="5.1"/><circle cx="979.7" cy="1587.6" r="5.1"/><circle cx="987.2" cy="1585.7" r="5.1"/><circle cx="997.0" cy="1584.3" r="5.1"/><circle cx="1002.6" cy="1598.8" r="5.1"/><circle cx="1012.3" cy="1596.0" r="5.1"/><circle cx="1017.9" cy="1602.1" r="5.1"/><circle cx="1014.5" cy="1579.3" r="5.1"/><circle cx="1022.6" cy="1587.6" r="5.1"/><circle cx="1030.4" cy="1593.7" r="5.1"/><circle cx="1006.7" cy="1576.5" r="5.1"/><circle cx="1066.1" cy="1600.7" r="5.1"/><circle cx="1075.0" cy="1601.5" r="5.1"/><circle cx="1076.4" cy="1609.3" r="5.1"/><circle cx="1068.0" cy="1573.7" r="5.1"/><circle cx="639.8" cy="1620.2" r="5.1"/><circle cx="641.2" cy="1635.0" r="5.1"/><circle cx="666.0" cy="1624.7" r="5.1"/><circle cx="673.8" cy="1627.4" r="5.1"/><circle cx="693.3" cy="1622.4" r="5.1"/><circle cx="706.4" cy="1634.4" r="5.1"/><circle cx="681.3" cy="1654.5" r="5.1"/><circle cx="740.7" cy="1638.3" r="5.1"/><circle cx="752.7" cy="1633.6" r="5.1"/><circle cx="813.1" cy="1650.3" r="5.1"/><circle cx="825.1" cy="1662.8" r="5.1"/><circle cx="834.6" cy="1676.8" r="5.1"/><circle cx="853.5" cy="1660.9" r="5.1"/><circle cx="865.2" cy="1623.0" r="5.1"/><circle cx="866.9" cy="1618.3" r="5.1"/><circle cx="878.6" cy="1641.9" r="5.1"/><circle cx="895.3" cy="1625.2" r="5.1"/><circle cx="899.5" cy="1631.6" r="5.1"/><circle cx="924.0" cy="1653.1" r="5.1"/><circle cx="943.5" cy="1671.2" r="5.1"/><circle cx="971.9" cy="1620.2" r="5.1"/><circle cx="977.5" cy="1650.3" r="5.1"/><circle cx="1045.2" cy="1625.2" r="5.1"/><circle cx="1056.0" cy="1641.1" r="5.1"/><circle cx="1073.6" cy="1651.7" r="5.1"/><circle cx="1027.6" cy="1671.7" r="5.1"/><circle cx="1058.3" cy="1685.7" r="5.1"/><circle cx="914.8" cy="1684.6" r="5.1"/><circle cx="647.4" cy="1678.1" r="5.1"/><circle cx="668.3" cy="1682.9" r="5.1"/><circle cx="769.4" cy="1682.9" r="5.1"/><circle cx="729.5" cy="1702.4" r="5.1"/><circle cx="868.8" cy="1713.8" r="5.1"/><circle cx="873.0" cy="1706.8" r="5.1"/><circle cx="989.5" cy="1711.0" r="5.1"/><circle cx="934.3" cy="1732.5" r="5.1"/><circle cx="1052.7" cy="1733.9" r="5.1"/><circle cx="658.5" cy="1752.5" r="5.1"/><circle cx="819.2" cy="1743.6" r="5.1"/><circle cx="916.7" cy="1762.3" r="5.1"/><circle cx="1000.6" cy="1828.0" r="5.1"/><circle cx="1077.8" cy="1806.3" r="5.1"/><circle cx="1103.2" cy="1575.1" r="5.1"/><circle cx="1115.7" cy="1584.8" r="5.1"/><circle cx="1123.5" cy="1583.4" r="5.1"/><circle cx="1135.2" cy="1577.0" r="5.1"/><circle cx="1145.8" cy="1573.7" r="5.1"/><circle cx="1151.9" cy="1587.1" r="5.1"/><circle cx="1169.2" cy="1577.9" r="5.1"/><circle cx="1178.4" cy="1585.4" r="5.1"/><circle cx="1184.8" cy="1577.9" r="5.1"/><circle cx="1201.5" cy="1582.6" r="5.1"/><circle cx="1210.4" cy="1587.6" r="5.1"/><circle cx="1216.0" cy="1588.4" r="5.1"/><circle cx="1221.0" cy="1590.4" r="5.1"/><circle cx="1232.2" cy="1575.9" r="5.1"/><circle cx="1245.3" cy="1573.7" r="5.1"/><circle cx="1257.2" cy="1579.3" r="5.1"/><circle cx="1296.8" cy="1577.9" r="5.1"/><circle cx="1305.2" cy="1572.3" r="5.1"/><circle cx="1310.2" cy="1582.6" r="5.1"/><circle cx="1329.7" cy="1587.1" r="5.1"/><circle cx="1344.7" cy="1591.8" r="5.1"/><circle cx="1367.3" cy="1591.8" r="5.1"/><circle cx="1375.6" cy="1589.0" r="5.1"/><circle cx="1377.6" cy="1594.6" r="5.1"/><circle cx="1388.7" cy="1579.3" r="5.1"/><circle cx="1397.1" cy="1576.5" r="5.1"/><circle cx="1405.4" cy="1587.1" r="5.1"/><circle cx="1409.6" cy="1580.1" r="5.1"/><circle cx="1416.6" cy="1583.4" r="5.1"/><circle cx="1422.2" cy="1577.9" r="5.1"/><circle cx="1438.9" cy="1575.9" r="5.1"/><circle cx="1450.0" cy="1582.9" r="5.1"/><circle cx="1475.1" cy="1584.0" r="5.1"/><circle cx="1483.4" cy="1587.6" r="5.1"/><circle cx="1489.0" cy="1593.2" r="5.1"/><circle cx="1494.6" cy="1581.5" r="5.1"/><circle cx="1501.6" cy="1588.2" r="5.1"/><circle cx="1511.3" cy="1573.7" r="5.1"/><circle cx="1528.0" cy="1574.5" r="5.1"/><circle cx="1088.7" cy="1651.7" r="5.1"/><circle cx="1085.1" cy="1671.7" r="5.1"/><circle cx="1100.4" cy="1633.6" r="5.1"/><circle cx="1117.1" cy="1607.7" r="5.1"/><circle cx="1132.4" cy="1613.5" r="5.1"/><circle cx="1144.1" cy="1616.9" r="5.1"/><circle cx="1126.9" cy="1644.7" r="5.1"/><circle cx="1153.9" cy="1660.9" r="5.1"/><circle cx="1163.1" cy="1640.5" r="5.1"/><circle cx="1165.9" cy="1637.8" r="5.1"/><circle cx="1172.8" cy="1625.8" r="5.1"/><circle cx="1177.0" cy="1614.6" r="5.1"/><circle cx="1180.3" cy="1632.2" r="5.1"/><circle cx="1197.9" cy="1657.8" r="5.1"/><circle cx="1234.1" cy="1607.9" r="5.1"/><circle cx="1241.6" cy="1600.1" r="5.1"/><circle cx="1253.1" cy="1605.7" r="5.1"/><circle cx="1272.3" cy="1626.6" r="5.1"/><circle cx="1277.9" cy="1642.8" r="5.1"/><circle cx="1299.0" cy="1639.1" r="5.1"/><circle cx="1312.1" cy="1643.3" r="5.1"/><circle cx="1316.3" cy="1647.5" r="5.1"/><circle cx="1324.1" cy="1651.1" r="5.1"/><circle cx="1319.9" cy="1667.6" r="5.1"/><circle cx="1348.6" cy="1631.9" r="5.1"/><circle cx="1354.5" cy="1646.1" r="5.1"/><circle cx="1358.1" cy="1667.6" r="5.1"/><circle cx="1379.5" cy="1625.2" r="5.1"/><circle cx="1398.5" cy="1648.9" r="5.1"/><circle cx="1402.7" cy="1641.9" r="5.1"/><circle cx="1427.2" cy="1604.9" r="5.1"/><circle cx="1444.4" cy="1648.1" r="5.1"/><circle cx="1447.2" cy="1646.1" r="5.1"/><circle cx="1459.8" cy="1642.8" r="5.1"/><circle cx="1469.0" cy="1633.6" r="5.1"/><circle cx="1473.1" cy="1605.7" r="5.1"/><circle cx="1505.7" cy="1610.5" r="5.1"/><circle cx="1532.2" cy="1607.1" r="5.1"/><circle cx="1537.8" cy="1657.3" r="5.1"/><circle cx="1136.6" cy="1687.1" r="5.1"/><circle cx="1155.6" cy="1685.9" r="5.1"/><circle cx="1239.7" cy="1666.2" r="5.1"/><circle cx="1442.5" cy="1679.0" r="5.1"/><circle cx="1392.9" cy="1696.8" r="5.1"/><circle cx="1404.6" cy="1694.9" r="5.1"/><circle cx="1417.4" cy="1688.5" r="5.1"/><circle cx="1491.8" cy="1683.7" r="5.1"/><circle cx="1228.0" cy="1734.7" r="5.1"/><circle cx="1335.2" cy="1728.3" r="5.1"/><circle cx="1425.2" cy="1743.6" r="5.1"/><circle cx="1499.6" cy="1722.7" r="5.1"/><circle cx="1509.1" cy="1747.2" r="5.1"/><circle cx="1519.1" cy="1746.4" r="5.1"/><circle cx="1523.8" cy="1740.3" r="5.1"/><circle cx="1190.1" cy="1760.9" r="5.1"/><circle cx="1236.1" cy="1766.5" r="5.1"/><circle cx="1274.0" cy="1780.7" r="5.1"/><circle cx="1478.7" cy="1764.5" r="5.1"/><circle cx="1078.9" cy="1806.6" r="5.1"/><circle cx="1195.9" cy="1812.7" r="5.1"/><circle cx="1352.5" cy="1826.4" r="5.1"/><circle cx="1521.1" cy="1804.3" r="5.1"/><circle cx="1547.3" cy="1582.5" r="5.1"/><circle cx="1553.1" cy="1593.2" r="5.1"/><circle cx="1556.8" cy="1585.1" r="5.1"/><circle cx="1564.6" cy="1593.8" r="5.1"/><circle cx="1551.1" cy="1604.1" r="5.1"/><circle cx="1579.9" cy="1583.1" r="5.1"/><circle cx="1583.9" cy="1625.4" r="5.1"/><circle cx="1607.8" cy="1605.3" r="5.1"/><circle cx="1610.7" cy="1607.0" r="5.1"/><circle cx="1618.4" cy="1626.9" r="5.1"/><circle cx="1620.2" cy="1634.9" r="5.1"/><circle cx="1639.5" cy="1603.3" r="5.1"/><circle cx="1641.5" cy="1592.3" r="5.1"/><circle cx="1649.0" cy="1624.3" r="5.1"/><circle cx="1653.0" cy="1584.0" r="5.1"/><circle cx="1661.0" cy="1580.2" r="5.1"/><circle cx="1666.2" cy="1593.8" r="5.1"/><circle cx="1674.0" cy="1588.0" r="5.1"/><circle cx="1663.9" cy="1644.4" r="5.1"/><circle cx="1672.0" cy="1641.5" r="5.1"/><circle cx="1688.4" cy="1596.1" r="5.1"/><circle cx="1693.6" cy="1597.5" r="5.1"/><circle cx="1700.5" cy="1609.9" r="5.1"/><circle cx="1709.4" cy="1588.3" r="5.1"/><circle cx="1712.3" cy="1578.8" r="5.1"/><circle cx="1719.5" cy="1601.2" r="5.1"/><circle cx="1715.7" cy="1621.1" r="5.1"/><circle cx="1727.2" cy="1630.0" r="5.1"/><circle cx="1742.2" cy="1590.3" r="5.1"/><circle cx="1744.5" cy="1578.8" r="5.1"/><circle cx="1761.8" cy="1577.3" r="5.1"/><circle cx="1779.1" cy="1575.9" r="5.1"/><circle cx="1794.0" cy="1577.9" r="5.1"/><circle cx="1795.8" cy="1625.4" r="5.1"/><circle cx="1807.3" cy="1590.9" r="5.1"/><circle cx="1820.8" cy="1589.4" r="5.1"/><circle cx="1828.6" cy="1614.2" r="5.1"/><circle cx="1836.1" cy="1603.8" r="5.1"/><circle cx="1839.5" cy="1597.5" r="5.1"/><circle cx="1843.8" cy="1596.1" r="5.1"/><circle cx="1851.6" cy="1607.0" r="5.1"/><circle cx="1853.9" cy="1599.5" r="5.1"/><circle cx="1855.3" cy="1629.2" r="5.1"/><circle cx="1859.7" cy="1580.2" r="5.1"/><circle cx="1869.7" cy="1586.6" r="5.1"/><circle cx="1876.9" cy="1585.1" r="5.1"/><circle cx="1872.6" cy="1620.5" r="5.1"/><circle cx="1875.5" cy="1618.2" r="5.1"/><circle cx="1891.3" cy="1588.0" r="5.1"/><circle cx="1900.0" cy="1575.3" r="5.1"/><circle cx="1905.1" cy="1643.0" r="5.1"/><circle cx="1918.7" cy="1626.9" r="5.1"/><circle cx="1923.0" cy="1584.0" r="5.1"/><circle cx="1934.5" cy="1594.6" r="5.1"/><circle cx="1941.7" cy="1593.2" r="5.1"/><circle cx="1943.1" cy="1617.1" r="5.1"/><circle cx="1953.2" cy="1583.1" r="5.1"/><circle cx="1957.0" cy="1606.7" r="5.1"/><circle cx="1966.2" cy="1619.9" r="5.1"/><circle cx="1970.5" cy="1639.8" r="5.1"/><circle cx="1977.7" cy="1588.0" r="5.1"/><circle cx="1980.0" cy="1647.9" r="5.1"/><circle cx="1982.0" cy="1606.7" r="5.1"/><circle cx="1984.9" cy="1660.2" r="5.1"/><circle cx="1991.5" cy="1664.3" r="5.1"/><circle cx="1997.0" cy="1611.0" r="5.1"/><circle cx="2003.0" cy="1629.7" r="5.1"/><circle cx="2005.0" cy="1575.9" r="5.1"/><circle cx="2008.5" cy="1601.2" r="5.1"/><circle cx="2012.8" cy="1588.3" r="5.1"/><circle cx="2020.0" cy="1583.1" r="5.1"/><circle cx="2031.2" cy="1591.7" r="5.1"/><circle cx="2035.2" cy="1629.2" r="5.1"/><circle cx="2041.0" cy="1618.2" r="5.1"/><circle cx="2038.1" cy="1647.9" r="5.1"/><circle cx="2049.1" cy="1650.2" r="5.1"/><circle cx="2051.1" cy="1593.2" r="5.1"/><circle cx="2029.5" cy="1659.4" r="5.1"/><circle cx="2023.7" cy="1668.0" r="5.1"/><circle cx="1540.1" cy="1657.1" r="5.1"/><circle cx="1568.9" cy="1662.3" r="5.1"/><circle cx="1597.1" cy="1688.2" r="5.1"/><circle cx="1730.1" cy="1672.3" r="5.1"/><circle cx="1737.3" cy="1669.5" r="5.1"/><circle cx="1735.0" cy="1685.3" r="5.1"/><circle cx="1790.0" cy="1668.6" r="5.1"/><circle cx="1696.7" cy="1710.6" r="5.1"/><circle cx="1601.2" cy="1734.2" r="5.1"/><circle cx="1631.7" cy="1745.7" r="5.1"/><circle cx="1738.8" cy="1747.8" r="5.1"/><circle cx="1822.8" cy="1768.2" r="5.1"/><circle cx="1878.1" cy="1729.0" r="5.1"/><circle cx="1910.6" cy="1771.1" r="5.1"/><circle cx="1928.2" cy="1702.0" r="5.1"/><circle cx="1932.2" cy="1719.3" r="5.1"/><circle cx="1933.6" cy="1734.8" r="5.1"/><circle cx="1947.5" cy="1699.1" r="5.1"/><circle cx="1971.9" cy="1702.0" r="5.1"/><circle cx="1989.2" cy="1725.6" r="5.1"/><circle cx="2000.7" cy="1736.5" r="5.1"/><circle cx="2043.9" cy="1698.8" r="5.1"/><circle cx="2044.5" cy="1742.9" r="5.1"/><circle cx="1555.1" cy="1847.1" r="5.1"/><circle cx="1627.9" cy="1858.0" r="5.1"/><circle cx="1863.1" cy="1810.5" r="5.1"/></g>
<g fill="#11ee11"><circle cx="301.3" cy="2045.2" r="4.9"/><circle cx="618.0" cy="1918.5" r="4.9"/><circle cx="847.9" cy="1937.2" r="4.9"/><circle cx="1668.2" cy="1906.9" r="4.9"/><circle cx="1654.7" cy="1955.9" r="4.9"/><circle cx="2018.0" cy="1981.8" r="4.9"/><circle cx="2036.7" cy="1969.7" r="4.9"/></g>
<line x1="143.0" y1="1890.5" x2="2054.4" y2="1890.5" stroke="#f00" stroke-width="5.6"/>
<rect x="143.0" y="1558.6" width="1911.4" height="533.2" fill="none" stroke="#333333" stroke-width="1.4"/>
<path d="M143.0 2091.8v-20M143.0 1558.6v20M334.1 2091.8v-20M334.1 1558.6v20M525.3 2091.8v-20M525.3 1558.6v20M716.4 2091.8v-20M716.4 1558.6v20M907.6 2091.8v-20M907.6 1558.6v20M1098.7 2091.8v-20M1098.7 1558.6v20M1289.8 2091.8v-20M1289.8 1558.6v20M1481.0 2091.8v-20M1481.0 1558.6v20M1672.1 2091.8v-20M1672.1 1558.6v20M1863.3 2091.8v-20M1863.3 1558.6v20M2054.4 2091.8v-20M2054.4 1558.6v20M143.0 2091.8h20M2054.4 2091.8h-20M143.0 2051.7h10M2054.4 2051.7h-10M143.0 2028.2h10M2054.4 2028.2h-10M143.0 2011.5h10M2054.4 2011.5h-10M143.0 1998.6h10M2054.4 1998.6h-10M143.0 1988.1h10M2054.4 1988.1h-10M143.0 1979.1h10M2054.4 1979.1h-10M143.0 1971.4h10M2054.4 1971.4h-10M143.0 1964.6h10M2054.4 1964.6h-10M143.0 1958.5h10M2054.4 1958.5h-10M143.0 1918.4h10M2054.4 1918.4h-10M143.0 1894.9h10M2054.4 1894.9h-10M143.0 1878.2h10M2054.4 1878.2h-10M143.0 1865.3h10M2054.4 1865.3h-10M143.0 1854.8h10M2054.4 1854.8h-10M143.0 1845.8h10M2054.4 1845.8h-10M143.0 1838.1h10M2054.4 1838.1h-10M143.0 1831.3h10M2054.4 1831.3h-10M143.0 1825.2h20M2054.4 1825.2h-20M143.0 1785.1h10M2054.4 1785.1h-10M143.0 1761.6h10M2054.4 1761.6h-10M143.0 1744.9h10M2054.4 1744.9h-10M143.0 1732.0h10M2054.4 1732.0h-10M143.0 1721.5h10M2054.4 1721.5h-10M143.0 1712.5h10M2054.4 1712.5h-10M143.0 1704.8h10M2054.4 1704.8h-10M143.0 1698.0h10M2054.4 1698.0h-10M143.0 1691.9h10M2054.4 1691.9h-10M143.0 1651.8h10M2054.4 1651.8h-10M143.0 1628.3h10M2054.4 1628.3h-10M143.0 1611.6h10M2054.4 1611.6h-10M143.0 1598.7h10M2054.4 1598.7h-10M143.0 1588.2h10M2054.4 1588.2h-10M143.0 1579.2h10M2054.4 1579.2h-10M143.0 1571.5h10M2054.4 1571.5h-10M143.0 1564.7h10M2054.4 1564.7h-10" stroke="#333333" stroke-width="1.4" fill="none"/>
<text x="143.0" y="2149.8" text-anchor="middle" class="tk">0</text>
<text x="334.1" y="2149.8" text-anchor="middle" class="tk">100</text>
<text x="525.3" y="2149.8" text-anchor="middle" class="tk">200</text>
<text x="716.4" y="2149.8" text-anchor="middle" class="tk">300</text>
<text x="907.6" y="2149.8" text-anchor="middle" class="tk">400</text>
<text x="1098.7" y="2149.8" text-anchor="middle" class="tk">500</text>
<text x="1289.8" y="2149.8" text-anchor="middle" class="tk">600</text>
<text x="1481.0" y="2149.8" text-anchor="middle" class="tk">700</text>
<text x="1672.1" y="2149.8" text-anchor="middle" class="tk">800</text>
<text x="1863.3" y="2149.8" text-anchor="middle" class="tk">900</text>
<text x="2054.4" y="2149.8" text-anchor="middle" class="tk">1000</text>
<text x="57.0" y="2116.5" class="tk">10</text>
<text x="105.5" y="2094.8" class="sp2">0</text>
<text x="57.0" y="1849.9" class="tk">10</text>
<text x="105.5" y="1828.2" class="sp2">2</text>
<text x="57.0" y="1583.3" class="tk">10</text>
<text x="105.5" y="1561.6" class="sp2">4</text>
<text x="46.0" y="1512.6" class="pl">g</text>
<text x="1098.7" y="2207.5" text-anchor="middle" class="lb2">Case</text>
<text transform="translate(35.5,1831.5) rotate(-90)" text-anchor="middle" class="lb2">Cost function</text>
</svg></body></html>
